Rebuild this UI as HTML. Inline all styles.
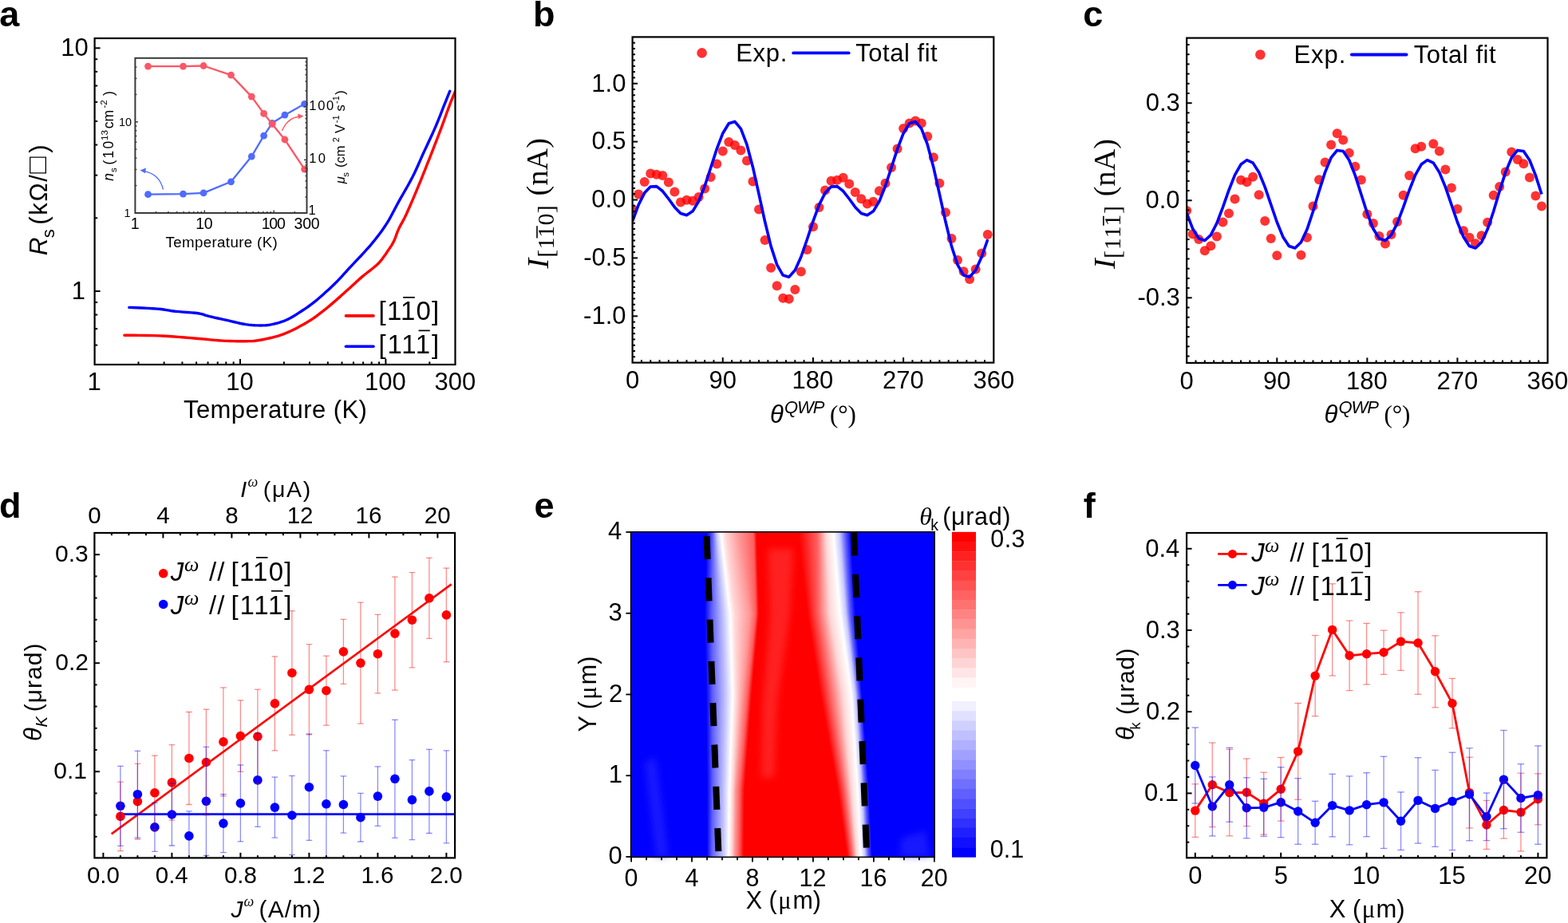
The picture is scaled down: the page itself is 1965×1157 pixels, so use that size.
<!DOCTYPE html>
<html><head><meta charset="utf-8"><title>Figure</title><style>
html,body{margin:0;padding:0;background:#fff;}body{width:1965px;height:1157px;position:relative;overflow:hidden;}
.hm{position:absolute;left:791px;width:380px;}
svg{position:absolute;left:0;top:0;}
</style></head><body>
<div class="hm" style="top:666px;height:2px;background:linear-gradient(90deg,#0000ff 94.97px,#5f5fff 101.99px,#c8c8ff 107.09px,#ffffff 112.12px,#ffd7d7 118.12px,#ff9696 134.15px,#ff5f5f 153.03px,#ff0000 157.03px,#ff0000 209.12px,#ff5f5f 233.01px,#ffd7d7 244.05px,#ffffff 253.09px,#c8c8ff 261.08px,#5f5fff 268.06px,#0000ff 275.06px)"></div>
<div class="hm" style="top:668px;height:2px;background:linear-gradient(90deg,#0000ff 94.91px,#5f5fff 101.97px,#c8c8ff 107.26px,#ffffff 112.35px,#ffd7d7 118.35px,#ff9696 134.44px,#ff5f5f 153.09px,#ff0000 157.09px,#ff0000 209.35px,#ff5f5f 233.03px,#ffd7d7 244.15px,#ffffff 253.26px,#c8c8ff 261.23px,#5f5fff 268.17px,#0000ff 275.17px)"></div>
<div class="hm" style="top:670px;height:2px;background:linear-gradient(90deg,#0000ff 94.85px,#5f5fff 101.95px,#c8c8ff 107.44px,#ffffff 112.58px,#ffd7d7 118.58px,#ff9696 134.73px,#ff5f5f 153.15px,#ff0000 157.15px,#ff0000 209.58px,#ff5f5f 233.05px,#ffd7d7 244.24px,#ffffff 253.44px,#c8c8ff 261.39px,#5f5fff 268.29px,#0000ff 275.29px)"></div>
<div class="hm" style="top:672px;height:2px;background:linear-gradient(90deg,#0000ff 94.8px,#5f5fff 101.93px,#c8c8ff 107.61px,#ffffff 112.82px,#ffd7d7 118.82px,#ff9696 135.02px,#ff5f5f 153.2px,#ff0000 157.2px,#ff0000 209.82px,#ff5f5f 233.07px,#ffd7d7 244.34px,#ffffff 253.61px,#c8c8ff 261.54px,#5f5fff 268.41px,#0000ff 275.41px)"></div>
<div class="hm" style="top:674px;height:2px;background:linear-gradient(90deg,#0000ff 94.74px,#5f5fff 101.91px,#c8c8ff 107.79px,#ffffff 113.05px,#ffd7d7 119.05px,#ff9696 135.31px,#ff5f5f 153.26px,#ff0000 157.26px,#ff0000 210.05px,#ff5f5f 233.09px,#ffd7d7 244.44px,#ffffff 253.79px,#c8c8ff 261.7px,#5f5fff 268.52px,#0000ff 275.52px)"></div>
<div class="hm" style="top:676px;height:2px;background:linear-gradient(90deg,#0000ff 94.68px,#5f5fff 101.89px,#c8c8ff 107.96px,#ffffff 113.28px,#ffd7d7 119.28px,#ff9696 135.6px,#ff5f5f 153.32px,#ff0000 157.32px,#ff0000 210.28px,#ff5f5f 233.11px,#ffd7d7 244.53px,#ffffff 253.96px,#c8c8ff 261.85px,#5f5fff 268.64px,#0000ff 275.64px)"></div>
<div class="hm" style="top:678px;height:2px;background:linear-gradient(90deg,#0000ff 94.62px,#5f5fff 101.87px,#c8c8ff 108.14px,#ffffff 113.51px,#ffd7d7 119.51px,#ff9696 135.89px,#ff5f5f 153.38px,#ff0000 157.38px,#ff0000 210.51px,#ff5f5f 233.13px,#ffd7d7 244.63px,#ffffff 254.14px,#c8c8ff 262.01px,#5f5fff 268.76px,#0000ff 275.76px)"></div>
<div class="hm" style="top:680px;height:2px;background:linear-gradient(90deg,#0000ff 94.56px,#5f5fff 101.85px,#c8c8ff 108.31px,#ffffff 113.75px,#ffd7d7 119.75px,#ff9696 136.18px,#ff5f5f 153.44px,#ff0000 157.44px,#ff0000 210.75px,#ff5f5f 233.15px,#ffd7d7 244.73px,#ffffff 254.31px,#c8c8ff 262.17px,#5f5fff 268.87px,#0000ff 275.87px)"></div>
<div class="hm" style="top:682px;height:2px;background:linear-gradient(90deg,#0000ff 94.5px,#5f5fff 101.83px,#c8c8ff 108.49px,#ffffff 113.98px,#ffd7d7 119.98px,#ff9696 136.48px,#ff5f5f 153.5px,#ff0000 157.5px,#ff0000 210.98px,#ff5f5f 233.17px,#ffd7d7 244.83px,#ffffff 254.49px,#c8c8ff 262.32px,#5f5fff 268.99px,#0000ff 275.99px)"></div>
<div class="hm" style="top:684px;height:2px;background:linear-gradient(90deg,#0000ff 94.45px,#5f5fff 101.82px,#c8c8ff 108.66px,#ffffff 114.21px,#ffd7d7 120.21px,#ff9696 136.77px,#ff5f5f 153.55px,#ff0000 157.55px,#ff0000 211.21px,#ff5f5f 233.18px,#ffd7d7 244.92px,#ffffff 254.66px,#c8c8ff 262.48px,#5f5fff 269.11px,#0000ff 276.11px)"></div>
<div class="hm" style="top:686px;height:2px;background:linear-gradient(90deg,#0000ff 94.39px,#5f5fff 101.8px,#c8c8ff 108.83px,#ffffff 114.45px,#ffd7d7 120.45px,#ff9696 137.06px,#ff5f5f 153.61px,#ff0000 157.61px,#ff0000 211.45px,#ff5f5f 233.2px,#ffd7d7 245.02px,#ffffff 254.83px,#c8c8ff 262.63px,#5f5fff 269.22px,#0000ff 276.22px)"></div>
<div class="hm" style="top:688px;height:2px;background:linear-gradient(90deg,#0000ff 94.33px,#5f5fff 101.78px,#c8c8ff 109.01px,#ffffff 114.68px,#ffd7d7 120.68px,#ff9696 137.35px,#ff5f5f 153.67px,#ff0000 157.67px,#ff0000 211.68px,#ff5f5f 233.22px,#ffd7d7 245.12px,#ffffff 255.01px,#c8c8ff 262.79px,#5f5fff 269.34px,#0000ff 276.34px)"></div>
<div class="hm" style="top:690px;height:2px;background:linear-gradient(90deg,#0000ff 94.27px,#5f5fff 101.76px,#c8c8ff 109.18px,#ffffff 114.91px,#ffd7d7 120.91px,#ff9696 137.64px,#ff5f5f 153.73px,#ff0000 157.73px,#ff0000 211.91px,#ff5f5f 233.24px,#ffd7d7 245.21px,#ffffff 255.18px,#c8c8ff 262.94px,#5f5fff 269.46px,#0000ff 276.46px)"></div>
<div class="hm" style="top:692px;height:2px;background:linear-gradient(90deg,#0000ff 94.21px,#5f5fff 101.74px,#c8c8ff 109.36px,#ffffff 115.15px,#ffd7d7 121.15px,#ff9696 137.93px,#ff5f5f 153.79px,#ff0000 157.79px,#ff0000 212.15px,#ff5f5f 233.26px,#ffd7d7 245.31px,#ffffff 255.36px,#c8c8ff 263.1px,#5f5fff 269.57px,#0000ff 276.57px)"></div>
<div class="hm" style="top:694px;height:2px;background:linear-gradient(90deg,#0000ff 94.16px,#5f5fff 101.72px,#c8c8ff 109.53px,#ffffff 115.38px,#ffd7d7 121.38px,#ff9696 138.22px,#ff5f5f 153.84px,#ff0000 157.84px,#ff0000 212.38px,#ff5f5f 233.28px,#ffd7d7 245.41px,#ffffff 255.53px,#c8c8ff 263.25px,#5f5fff 269.69px,#0000ff 276.69px)"></div>
<div class="hm" style="top:696px;height:2px;background:linear-gradient(90deg,#0000ff 94.1px,#5f5fff 101.7px,#c8c8ff 109.71px,#ffffff 115.61px,#ffd7d7 121.61px,#ff9696 138.51px,#ff5f5f 153.9px,#ff0000 157.9px,#ff0000 212.61px,#ff5f5f 233.3px,#ffd7d7 245.5px,#ffffff 255.71px,#c8c8ff 263.41px,#5f5fff 269.81px,#0000ff 276.81px)"></div>
<div class="hm" style="top:698px;height:2px;background:linear-gradient(90deg,#0000ff 94.04px,#5f5fff 101.68px,#c8c8ff 109.88px,#ffffff 115.84px,#ffd7d7 121.84px,#ff9696 138.81px,#ff5f5f 153.96px,#ff0000 157.96px,#ff0000 212.84px,#ff5f5f 233.32px,#ffd7d7 245.6px,#ffffff 255.88px,#c8c8ff 263.56px,#5f5fff 269.92px,#0000ff 276.92px)"></div>
<div class="hm" style="top:700px;height:2px;background:linear-gradient(90deg,#0000ff 93.98px,#5f5fff 101.66px,#c8c8ff 110.06px,#ffffff 116.08px,#ffd7d7 122.08px,#ff9696 139.1px,#ff5f5f 154.02px,#ff0000 158.02px,#ff0000 213.08px,#ff5f5f 233.34px,#ffd7d7 245.7px,#ffffff 256.06px,#c8c8ff 263.72px,#5f5fff 270.04px,#0000ff 277.04px)"></div>
<div class="hm" style="top:702px;height:2px;background:linear-gradient(90deg,#0000ff 93.92px,#5f5fff 101.64px,#c8c8ff 110.23px,#ffffff 116.31px,#ffd7d7 122.31px,#ff9696 139.39px,#ff5f5f 154.08px,#ff0000 158.08px,#ff0000 213.31px,#ff5f5f 233.36px,#ffd7d7 245.8px,#ffffff 256.23px,#c8c8ff 263.87px,#5f5fff 270.16px,#0000ff 277.16px)"></div>
<div class="hm" style="top:704px;height:2px;background:linear-gradient(90deg,#0000ff 93.86px,#5f5fff 101.62px,#c8c8ff 110.41px,#ffffff 116.54px,#ffd7d7 122.54px,#ff9696 139.68px,#ff5f5f 154.14px,#ff0000 158.14px,#ff0000 213.54px,#ff5f5f 233.38px,#ffd7d7 245.89px,#ffffff 256.41px,#c8c8ff 264.03px,#5f5fff 270.27px,#0000ff 277.27px)"></div>
<div class="hm" style="top:706px;height:2px;background:linear-gradient(90deg,#0000ff 93.81px,#5f5fff 101.6px,#c8c8ff 110.58px,#ffffff 116.78px,#ffd7d7 122.78px,#ff9696 139.97px,#ff5f5f 154.19px,#ff0000 158.19px,#ff0000 213.78px,#ff5f5f 233.4px,#ffd7d7 245.99px,#ffffff 256.58px,#c8c8ff 264.18px,#5f5fff 270.39px,#0000ff 277.39px)"></div>
<div class="hm" style="top:708px;height:2px;background:linear-gradient(90deg,#0000ff 93.75px,#5f5fff 101.58px,#c8c8ff 110.76px,#ffffff 117.01px,#ffd7d7 123.01px,#ff9696 140.26px,#ff5f5f 154.25px,#ff0000 158.25px,#ff0000 214.01px,#ff5f5f 233.42px,#ffd7d7 246.09px,#ffffff 256.76px,#c8c8ff 264.34px,#5f5fff 270.5px,#0000ff 277.5px)"></div>
<div class="hm" style="top:710px;height:2px;background:linear-gradient(90deg,#0000ff 93.69px,#5f5fff 101.56px,#c8c8ff 110.93px,#ffffff 117.24px,#ffd7d7 123.24px,#ff9696 140.55px,#ff5f5f 154.31px,#ff0000 158.31px,#ff0000 214.24px,#ff5f5f 233.44px,#ffd7d7 246.18px,#ffffff 256.93px,#c8c8ff 264.5px,#5f5fff 270.62px,#0000ff 277.62px)"></div>
<div class="hm" style="top:712px;height:2px;background:linear-gradient(90deg,#0000ff 93.63px,#5f5fff 101.54px,#c8c8ff 111.11px,#ffffff 117.48px,#ffd7d7 123.48px,#ff9696 140.84px,#ff5f5f 154.37px,#ff0000 158.37px,#ff0000 214.48px,#ff5f5f 233.46px,#ffd7d7 246.28px,#ffffff 257.11px,#c8c8ff 264.65px,#5f5fff 270.74px,#0000ff 277.74px)"></div>
<div class="hm" style="top:714px;height:2px;background:linear-gradient(90deg,#0000ff 93.57px,#5f5fff 101.52px,#c8c8ff 111.28px,#ffffff 117.71px,#ffd7d7 123.71px,#ff9696 141.14px,#ff5f5f 154.43px,#ff0000 158.43px,#ff0000 214.71px,#ff5f5f 233.48px,#ffd7d7 246.38px,#ffffff 257.28px,#c8c8ff 264.81px,#5f5fff 270.85px,#0000ff 277.85px)"></div>
<div class="hm" style="top:716px;height:2px;background:linear-gradient(90deg,#0000ff 93.51px,#5f5fff 101.5px,#c8c8ff 111.46px,#ffffff 117.94px,#ffd7d7 123.94px,#ff9696 141.43px,#ff5f5f 154.49px,#ff0000 158.49px,#ff0000 214.94px,#ff5f5f 233.5px,#ffd7d7 246.48px,#ffffff 257.46px,#c8c8ff 264.96px,#5f5fff 270.97px,#0000ff 277.97px)"></div>
<div class="hm" style="top:718px;height:2px;background:linear-gradient(90deg,#0000ff 93.46px,#5f5fff 101.49px,#c8c8ff 111.63px,#ffffff 118.17px,#ffd7d7 124.17px,#ff9696 141.72px,#ff5f5f 154.54px,#ff0000 158.54px,#ff0000 215.17px,#ff5f5f 233.51px,#ffd7d7 246.57px,#ffffff 257.63px,#c8c8ff 265.12px,#5f5fff 271.09px,#0000ff 278.09px)"></div>
<div class="hm" style="top:720px;height:2px;background:linear-gradient(90deg,#0000ff 93.4px,#5f5fff 101.47px,#c8c8ff 111.81px,#ffffff 118.41px,#ffd7d7 124.41px,#ff9696 142.01px,#ff5f5f 154.6px,#ff0000 158.6px,#ff0000 215.41px,#ff5f5f 233.53px,#ffd7d7 246.67px,#ffffff 257.81px,#c8c8ff 265.27px,#5f5fff 271.2px,#0000ff 278.2px)"></div>
<div class="hm" style="top:722px;height:2px;background:linear-gradient(90deg,#0000ff 93.34px,#5f5fff 101.45px,#c8c8ff 111.98px,#ffffff 118.64px,#ffd7d7 124.64px,#ff9696 142.3px,#ff5f5f 154.66px,#ff0000 158.66px,#ff0000 215.64px,#ff5f5f 233.55px,#ffd7d7 246.77px,#ffffff 257.98px,#c8c8ff 265.43px,#5f5fff 271.32px,#0000ff 278.32px)"></div>
<div class="hm" style="top:724px;height:2px;background:linear-gradient(90deg,#0000ff 93.28px,#5f5fff 101.43px,#c8c8ff 112.16px,#ffffff 118.87px,#ffd7d7 124.87px,#ff9696 142.59px,#ff5f5f 154.72px,#ff0000 158.72px,#ff0000 215.87px,#ff5f5f 233.57px,#ffd7d7 246.86px,#ffffff 258.16px,#c8c8ff 265.58px,#5f5fff 271.44px,#0000ff 278.44px)"></div>
<div class="hm" style="top:726px;height:2px;background:linear-gradient(90deg,#0000ff 93.22px,#5f5fff 101.41px,#c8c8ff 112.33px,#ffffff 119.11px,#ffd7d7 125.11px,#ff9696 142.88px,#ff5f5f 154.78px,#ff0000 158.78px,#ff0000 216.11px,#ff5f5f 233.59px,#ffd7d7 246.96px,#ffffff 258.33px,#c8c8ff 265.74px,#5f5fff 271.55px,#0000ff 278.55px)"></div>
<div class="hm" style="top:728px;height:2px;background:linear-gradient(90deg,#0000ff 93.17px,#5f5fff 101.39px,#c8c8ff 112.5px,#ffffff 119.34px,#ffd7d7 125.34px,#ff9696 143.17px,#ff5f5f 154.83px,#ff0000 158.83px,#ff0000 216.34px,#ff5f5f 233.61px,#ffd7d7 247.06px,#ffffff 258.5px,#c8c8ff 265.89px,#5f5fff 271.67px,#0000ff 278.67px)"></div>
<div class="hm" style="top:730px;height:2px;background:linear-gradient(90deg,#0000ff 93.11px,#5f5fff 101.37px,#c8c8ff 112.68px,#ffffff 119.57px,#ffd7d7 125.57px,#ff9696 143.47px,#ff5f5f 154.89px,#ff0000 158.89px,#ff0000 216.57px,#ff5f5f 233.63px,#ffd7d7 247.16px,#ffffff 258.68px,#c8c8ff 266.05px,#5f5fff 271.79px,#0000ff 278.79px)"></div>
<div class="hm" style="top:732px;height:2px;background:linear-gradient(90deg,#0000ff 93.05px,#5f5fff 101.35px,#c8c8ff 112.85px,#ffffff 119.81px,#ffd7d7 125.81px,#ff9696 143.76px,#ff5f5f 154.95px,#ff0000 158.95px,#ff0000 216.81px,#ff5f5f 233.65px,#ffd7d7 247.25px,#ffffff 258.85px,#c8c8ff 266.2px,#5f5fff 271.9px,#0000ff 278.9px)"></div>
<div class="hm" style="top:734px;height:2px;background:linear-gradient(90deg,#0000ff 92.99px,#5f5fff 101.33px,#c8c8ff 113.03px,#ffffff 120.04px,#ffd7d7 126.04px,#ff9696 144.05px,#ff5f5f 155.01px,#ff0000 159.01px,#ff0000 217.04px,#ff5f5f 233.67px,#ffd7d7 247.35px,#ffffff 259.03px,#c8c8ff 266.36px,#5f5fff 272.02px,#0000ff 279.02px)"></div>
<div class="hm" style="top:736px;height:2px;background:linear-gradient(90deg,#0000ff 92.93px,#5f5fff 101.31px,#c8c8ff 113.2px,#ffffff 120.27px,#ffd7d7 126.27px,#ff9696 144.34px,#ff5f5f 155.07px,#ff0000 159.07px,#ff0000 217.27px,#ff5f5f 233.69px,#ffd7d7 247.45px,#ffffff 259.2px,#c8c8ff 266.51px,#5f5fff 272.14px,#0000ff 279.14px)"></div>
<div class="hm" style="top:738px;height:2px;background:linear-gradient(90deg,#0000ff 92.87px,#5f5fff 101.29px,#c8c8ff 113.38px,#ffffff 120.5px,#ffd7d7 126.5px,#ff9696 144.63px,#ff5f5f 155.13px,#ff0000 159.13px,#ff0000 217.5px,#ff5f5f 233.71px,#ffd7d7 247.54px,#ffffff 259.38px,#c8c8ff 266.67px,#5f5fff 272.25px,#0000ff 279.25px)"></div>
<div class="hm" style="top:740px;height:2px;background:linear-gradient(90deg,#0000ff 92.82px,#5f5fff 101.27px,#c8c8ff 113.55px,#ffffff 120.74px,#ffd7d7 126.74px,#ff9696 144.92px,#ff5f5f 155.18px,#ff0000 159.18px,#ff0000 217.74px,#ff5f5f 233.73px,#ffd7d7 247.64px,#ffffff 259.55px,#c8c8ff 266.83px,#5f5fff 272.37px,#0000ff 279.37px)"></div>
<div class="hm" style="top:742px;height:2px;background:linear-gradient(90deg,#0000ff 92.76px,#5f5fff 101.25px,#c8c8ff 113.73px,#ffffff 120.97px,#ffd7d7 126.97px,#ff9696 145.21px,#ff5f5f 155.24px,#ff0000 159.24px,#ff0000 217.97px,#ff5f5f 233.75px,#ffd7d7 247.74px,#ffffff 259.73px,#c8c8ff 266.98px,#5f5fff 272.49px,#0000ff 279.49px)"></div>
<div class="hm" style="top:744px;height:2px;background:linear-gradient(90deg,#0000ff 92.7px,#5f5fff 101.23px,#c8c8ff 113.9px,#ffffff 121.2px,#ffd7d7 127.2px,#ff9696 145.5px,#ff5f5f 155.3px,#ff0000 159.3px,#ff0000 218.2px,#ff5f5f 233.77px,#ffd7d7 247.83px,#ffffff 259.9px,#c8c8ff 267.14px,#5f5fff 272.6px,#0000ff 279.6px)"></div>
<div class="hm" style="top:746px;height:2px;background:linear-gradient(90deg,#0000ff 92.64px,#5f5fff 101.21px,#c8c8ff 114.08px,#ffffff 121.44px,#ffd7d7 127.44px,#ff9696 145.8px,#ff5f5f 155.36px,#ff0000 159.36px,#ff0000 218.44px,#ff5f5f 233.79px,#ffd7d7 247.93px,#ffffff 260.08px,#c8c8ff 267.29px,#5f5fff 272.72px,#0000ff 279.72px)"></div>
<div class="hm" style="top:748px;height:2px;background:linear-gradient(90deg,#0000ff 92.58px,#5f5fff 101.19px,#c8c8ff 114.25px,#ffffff 121.67px,#ffd7d7 127.67px,#ff9696 146.09px,#ff5f5f 155.42px,#ff0000 159.42px,#ff0000 218.67px,#ff5f5f 233.81px,#ffd7d7 248.03px,#ffffff 260.25px,#c8c8ff 267.45px,#5f5fff 272.83px,#0000ff 279.83px)"></div>
<div class="hm" style="top:750px;height:2px;background:linear-gradient(90deg,#0000ff 92.52px,#5f5fff 101.17px,#c8c8ff 114.43px,#ffffff 121.9px,#ffd7d7 127.9px,#ff9696 146.38px,#ff5f5f 155.48px,#ff0000 159.48px,#ff0000 218.9px,#ff5f5f 233.83px,#ffd7d7 248.13px,#ffffff 260.43px,#c8c8ff 267.6px,#5f5fff 272.95px,#0000ff 279.95px)"></div>
<div class="hm" style="top:752px;height:2px;background:linear-gradient(90deg,#0000ff 92.47px,#5f5fff 101.16px,#c8c8ff 114.6px,#ffffff 122.14px,#ffd7d7 128.14px,#ff9696 146.67px,#ff5f5f 155.53px,#ff0000 159.53px,#ff0000 219.14px,#ff5f5f 233.84px,#ffd7d7 248.22px,#ffffff 260.6px,#c8c8ff 267.76px,#5f5fff 273.07px,#0000ff 280.07px)"></div>
<div class="hm" style="top:754px;height:2px;background:linear-gradient(90deg,#0000ff 92.41px,#5f5fff 101.14px,#c8c8ff 114.78px,#ffffff 122.37px,#ffd7d7 128.37px,#ff9696 146.96px,#ff5f5f 155.59px,#ff0000 159.59px,#ff0000 219.37px,#ff5f5f 233.86px,#ffd7d7 248.32px,#ffffff 260.78px,#c8c8ff 267.91px,#5f5fff 273.18px,#0000ff 280.18px)"></div>
<div class="hm" style="top:756px;height:2px;background:linear-gradient(90deg,#0000ff 92.35px,#5f5fff 101.12px,#c8c8ff 114.95px,#ffffff 122.6px,#ffd7d7 128.6px,#ff9696 147.25px,#ff5f5f 155.65px,#ff0000 159.65px,#ff0000 219.6px,#ff5f5f 233.88px,#ffd7d7 248.42px,#ffffff 260.95px,#c8c8ff 268.07px,#5f5fff 273.3px,#0000ff 280.3px)"></div>
<div class="hm" style="top:758px;height:2px;background:linear-gradient(90deg,#0000ff 92.29px,#5f5fff 101.1px,#c8c8ff 115.13px,#ffffff 122.83px,#ffd7d7 128.83px,#ff9696 147.54px,#ff5f5f 155.71px,#ff0000 159.71px,#ff0000 219.83px,#ff5f5f 233.9px,#ffd7d7 248.51px,#ffffff 261.13px,#c8c8ff 268.22px,#5f5fff 273.42px,#0000ff 280.42px)"></div>
<div class="hm" style="top:760px;height:2px;background:linear-gradient(90deg,#0000ff 92.23px,#5f5fff 101.08px,#c8c8ff 115.3px,#ffffff 123.07px,#ffd7d7 129.07px,#ff9696 147.83px,#ff5f5f 155.77px,#ff0000 159.77px,#ff0000 220.07px,#ff5f5f 233.92px,#ffd7d7 248.61px,#ffffff 261.3px,#c8c8ff 268.38px,#5f5fff 273.53px,#0000ff 280.53px)"></div>
<div class="hm" style="top:762px;height:2px;background:linear-gradient(90deg,#0000ff 92.17px,#5f5fff 101.06px,#c8c8ff 115.48px,#ffffff 123.3px,#ffd7d7 129.3px,#ff9696 148.13px,#ff5f5f 155.83px,#ff0000 159.83px,#ff0000 220.3px,#ff5f5f 233.94px,#ffd7d7 248.71px,#ffffff 261.48px,#c8c8ff 268.53px,#5f5fff 273.65px,#0000ff 280.65px)"></div>
<div class="hm" style="top:764px;height:2px;background:linear-gradient(90deg,#0000ff 92.12px,#5f5fff 101.04px,#c8c8ff 115.65px,#ffffff 123.53px,#ffd7d7 129.53px,#ff9696 148.42px,#ff5f5f 155.88px,#ff0000 159.88px,#ff0000 220.53px,#ff5f5f 233.96px,#ffd7d7 248.81px,#ffffff 261.65px,#c8c8ff 268.69px,#5f5fff 273.77px,#0000ff 280.77px)"></div>
<div class="hm" style="top:766px;height:2px;background:linear-gradient(90deg,#0000ff 92.06px,#5f5fff 101.02px,#c8c8ff 115.83px,#ffffff 123.77px,#ffd7d7 129.77px,#ff9696 148.71px,#ff5f5f 155.94px,#ff0000 159.94px,#ff0000 220.77px,#ff5f5f 233.98px,#ffd7d7 248.9px,#ffffff 261.83px,#c8c8ff 268.84px,#5f5fff 273.88px,#0000ff 280.88px)"></div>
<div class="hm" style="top:768px;height:2px;background:linear-gradient(90deg,#0000ff 92px,#5f5fff 101px,#c8c8ff 116px,#ffffff 124px,#ffd7d7 130px,#ff9696 149px,#ff5f5f 156px,#ff0000 160px,#ff0000 221px,#ff5f5f 234px,#ffd7d7 249px,#ffffff 262px,#c8c8ff 269px,#5f5fff 274px,#0000ff 281px)"></div>
<div class="hm" style="top:770px;height:2px;background:linear-gradient(90deg,#0000ff 92.04px,#5f5fff 101.02px,#c8c8ff 116.06px,#ffffff 124.06px,#ffd7d7 130.04px,#ff9696 148.82px,#ff5f5f 155.8px,#ff0000 159.82px,#ff0000 221.32px,#ff5f5f 234.3px,#ffd7d7 249.32px,#ffffff 262.28px,#c8c8ff 269.24px,#5f5fff 274.22px,#0000ff 281.16px)"></div>
<div class="hm" style="top:772px;height:2px;background:linear-gradient(90deg,#0000ff 92.08px,#5f5fff 101.04px,#c8c8ff 116.12px,#ffffff 124.12px,#ffd7d7 130.08px,#ff9696 148.64px,#ff5f5f 155.6px,#ff0000 159.64px,#ff0000 221.63px,#ff5f5f 234.59px,#ffd7d7 249.63px,#ffffff 262.55px,#c8c8ff 269.48px,#5f5fff 274.44px,#0000ff 281.32px)"></div>
<div class="hm" style="top:774px;height:2px;background:linear-gradient(90deg,#0000ff 92.12px,#5f5fff 101.06px,#c8c8ff 116.18px,#ffffff 124.18px,#ffd7d7 130.12px,#ff9696 148.47px,#ff5f5f 155.41px,#ff0000 159.47px,#ff0000 221.95px,#ff5f5f 234.89px,#ffd7d7 249.95px,#ffffff 262.83px,#c8c8ff 269.71px,#5f5fff 274.65px,#0000ff 281.48px)"></div>
<div class="hm" style="top:776px;height:2px;background:linear-gradient(90deg,#0000ff 92.16px,#5f5fff 101.08px,#c8c8ff 116.24px,#ffffff 124.24px,#ffd7d7 130.16px,#ff9696 148.29px,#ff5f5f 155.21px,#ff0000 159.29px,#ff0000 222.27px,#ff5f5f 235.19px,#ffd7d7 250.27px,#ffffff 263.11px,#c8c8ff 269.95px,#5f5fff 274.87px,#0000ff 281.63px)"></div>
<div class="hm" style="top:778px;height:2px;background:linear-gradient(90deg,#0000ff 92.2px,#5f5fff 101.1px,#c8c8ff 116.3px,#ffffff 124.3px,#ffd7d7 130.2px,#ff9696 148.11px,#ff5f5f 155.01px,#ff0000 159.11px,#ff0000 222.58px,#ff5f5f 235.49px,#ffd7d7 250.58px,#ffffff 263.39px,#c8c8ff 270.19px,#5f5fff 275.09px,#0000ff 281.79px)"></div>
<div class="hm" style="top:780px;height:2px;background:linear-gradient(90deg,#0000ff 92.24px,#5f5fff 101.12px,#c8c8ff 116.36px,#ffffff 124.36px,#ffd7d7 130.24px,#ff9696 147.93px,#ff5f5f 154.81px,#ff0000 158.93px,#ff0000 222.9px,#ff5f5f 235.78px,#ffd7d7 250.9px,#ffffff 263.66px,#c8c8ff 270.43px,#5f5fff 275.31px,#0000ff 281.95px)"></div>
<div class="hm" style="top:782px;height:2px;background:linear-gradient(90deg,#0000ff 92.28px,#5f5fff 101.14px,#c8c8ff 116.42px,#ffffff 124.42px,#ffd7d7 130.28px,#ff9696 147.75px,#ff5f5f 154.61px,#ff0000 158.75px,#ff0000 223.22px,#ff5f5f 236.08px,#ffd7d7 251.22px,#ffffff 263.94px,#c8c8ff 270.66px,#5f5fff 275.52px,#0000ff 282.11px)"></div>
<div class="hm" style="top:784px;height:2px;background:linear-gradient(90deg,#0000ff 92.32px,#5f5fff 101.16px,#c8c8ff 116.48px,#ffffff 124.48px,#ffd7d7 130.32px,#ff9696 147.57px,#ff5f5f 154.42px,#ff0000 158.57px,#ff0000 223.53px,#ff5f5f 236.38px,#ffd7d7 251.53px,#ffffff 264.22px,#c8c8ff 270.9px,#5f5fff 275.74px,#0000ff 282.27px)"></div>
<div class="hm" style="top:786px;height:2px;background:linear-gradient(90deg,#0000ff 92.36px,#5f5fff 101.18px,#c8c8ff 116.53px,#ffffff 124.53px,#ffd7d7 130.36px,#ff9696 147.4px,#ff5f5f 154.22px,#ff0000 158.4px,#ff0000 223.85px,#ff5f5f 236.67px,#ffd7d7 251.85px,#ffffff 264.5px,#c8c8ff 271.14px,#5f5fff 275.96px,#0000ff 282.43px)"></div>
<div class="hm" style="top:788px;height:2px;background:linear-gradient(90deg,#0000ff 92.4px,#5f5fff 101.2px,#c8c8ff 116.59px,#ffffff 124.59px,#ffd7d7 130.4px,#ff9696 147.22px,#ff5f5f 154.02px,#ff0000 158.22px,#ff0000 224.17px,#ff5f5f 236.97px,#ffd7d7 252.17px,#ffffff 264.77px,#c8c8ff 271.38px,#5f5fff 276.18px,#0000ff 282.58px)"></div>
<div class="hm" style="top:790px;height:2px;background:linear-gradient(90deg,#0000ff 92.44px,#5f5fff 101.22px,#c8c8ff 116.65px,#ffffff 124.65px,#ffd7d7 130.44px,#ff9696 147.04px,#ff5f5f 153.82px,#ff0000 158.04px,#ff0000 224.49px,#ff5f5f 237.27px,#ffd7d7 252.49px,#ffffff 265.05px,#c8c8ff 271.61px,#5f5fff 276.4px,#0000ff 282.74px)"></div>
<div class="hm" style="top:792px;height:2px;background:linear-gradient(90deg,#0000ff 92.48px,#5f5fff 101.24px,#c8c8ff 116.71px,#ffffff 124.71px,#ffd7d7 130.48px,#ff9696 146.86px,#ff5f5f 153.62px,#ff0000 157.86px,#ff0000 224.8px,#ff5f5f 237.56px,#ffd7d7 252.8px,#ffffff 265.33px,#c8c8ff 271.85px,#5f5fff 276.61px,#0000ff 282.9px)"></div>
<div class="hm" style="top:794px;height:2px;background:linear-gradient(90deg,#0000ff 92.51px,#5f5fff 101.26px,#c8c8ff 116.77px,#ffffff 124.77px,#ffd7d7 130.51px,#ff9696 146.68px,#ff5f5f 153.43px,#ff0000 157.68px,#ff0000 225.12px,#ff5f5f 237.86px,#ffd7d7 253.12px,#ffffff 265.6px,#c8c8ff 272.09px,#5f5fff 276.83px,#0000ff 283.06px)"></div>
<div class="hm" style="top:796px;height:2px;background:linear-gradient(90deg,#0000ff 92.55px,#5f5fff 101.28px,#c8c8ff 116.83px,#ffffff 124.83px,#ffd7d7 130.55px,#ff9696 146.5px,#ff5f5f 153.23px,#ff0000 157.5px,#ff0000 225.44px,#ff5f5f 238.16px,#ffd7d7 253.44px,#ffffff 265.88px,#c8c8ff 272.33px,#5f5fff 277.05px,#0000ff 283.22px)"></div>
<div class="hm" style="top:798px;height:2px;background:linear-gradient(90deg,#0000ff 92.59px,#5f5fff 101.3px,#c8c8ff 116.89px,#ffffff 124.89px,#ffd7d7 130.59px,#ff9696 146.33px,#ff5f5f 153.03px,#ff0000 157.33px,#ff0000 225.75px,#ff5f5f 238.46px,#ffd7d7 253.75px,#ffffff 266.16px,#c8c8ff 272.56px,#5f5fff 277.27px,#0000ff 283.38px)"></div>
<div class="hm" style="top:800px;height:2px;background:linear-gradient(90deg,#0000ff 92.63px,#5f5fff 101.32px,#c8c8ff 116.95px,#ffffff 124.95px,#ffd7d7 130.63px,#ff9696 146.15px,#ff5f5f 152.83px,#ff0000 157.15px,#ff0000 226.07px,#ff5f5f 238.75px,#ffd7d7 254.07px,#ffffff 266.44px,#c8c8ff 272.8px,#5f5fff 277.49px,#0000ff 283.53px)"></div>
<div class="hm" style="top:802px;height:2px;background:linear-gradient(90deg,#0000ff 92.67px,#5f5fff 101.34px,#c8c8ff 117.01px,#ffffff 125.01px,#ffd7d7 130.67px,#ff9696 145.97px,#ff5f5f 152.63px,#ff0000 156.97px,#ff0000 226.39px,#ff5f5f 239.05px,#ffd7d7 254.39px,#ffffff 266.71px,#c8c8ff 273.04px,#5f5fff 277.7px,#0000ff 283.69px)"></div>
<div class="hm" style="top:804px;height:2px;background:linear-gradient(90deg,#0000ff 92.71px,#5f5fff 101.36px,#c8c8ff 117.07px,#ffffff 125.07px,#ffd7d7 130.71px,#ff9696 145.79px,#ff5f5f 152.44px,#ff0000 156.79px,#ff0000 226.7px,#ff5f5f 239.35px,#ffd7d7 254.7px,#ffffff 266.99px,#c8c8ff 273.28px,#5f5fff 277.92px,#0000ff 283.85px)"></div>
<div class="hm" style="top:806px;height:2px;background:linear-gradient(90deg,#0000ff 92.75px,#5f5fff 101.38px,#c8c8ff 117.13px,#ffffff 125.13px,#ffd7d7 130.75px,#ff9696 145.61px,#ff5f5f 152.24px,#ff0000 156.61px,#ff0000 227.02px,#ff5f5f 239.64px,#ffd7d7 255.02px,#ffffff 267.27px,#c8c8ff 273.51px,#5f5fff 278.14px,#0000ff 284.01px)"></div>
<div class="hm" style="top:808px;height:2px;background:linear-gradient(90deg,#0000ff 92.79px,#5f5fff 101.4px,#c8c8ff 117.19px,#ffffff 125.19px,#ffd7d7 130.79px,#ff9696 145.44px,#ff5f5f 152.04px,#ff0000 156.44px,#ff0000 227.34px,#ff5f5f 239.94px,#ffd7d7 255.34px,#ffffff 267.54px,#c8c8ff 273.75px,#5f5fff 278.36px,#0000ff 284.17px)"></div>
<div class="hm" style="top:810px;height:2px;background:linear-gradient(90deg,#0000ff 92.83px,#5f5fff 101.42px,#c8c8ff 117.25px,#ffffff 125.25px,#ffd7d7 130.83px,#ff9696 145.26px,#ff5f5f 151.84px,#ff0000 156.26px,#ff0000 227.65px,#ff5f5f 240.24px,#ffd7d7 255.65px,#ffffff 267.82px,#c8c8ff 273.99px,#5f5fff 278.57px,#0000ff 284.33px)"></div>
<div class="hm" style="top:812px;height:2px;background:linear-gradient(90deg,#0000ff 92.87px,#5f5fff 101.44px,#c8c8ff 117.31px,#ffffff 125.31px,#ffd7d7 130.87px,#ff9696 145.08px,#ff5f5f 151.64px,#ff0000 156.08px,#ff0000 227.97px,#ff5f5f 240.53px,#ffd7d7 255.97px,#ffffff 268.1px,#c8c8ff 274.23px,#5f5fff 278.79px,#0000ff 284.49px)"></div>
<div class="hm" style="top:814px;height:2px;background:linear-gradient(90deg,#0000ff 92.91px,#5f5fff 101.46px,#c8c8ff 117.37px,#ffffff 125.37px,#ffd7d7 130.91px,#ff9696 144.9px,#ff5f5f 151.45px,#ff0000 155.9px,#ff0000 228.29px,#ff5f5f 240.83px,#ffd7d7 256.29px,#ffffff 268.38px,#c8c8ff 274.47px,#5f5fff 279.01px,#0000ff 284.64px)"></div>
<div class="hm" style="top:816px;height:2px;background:linear-gradient(90deg,#0000ff 92.95px,#5f5fff 101.48px,#c8c8ff 117.43px,#ffffff 125.43px,#ffd7d7 130.95px,#ff9696 144.72px,#ff5f5f 151.25px,#ff0000 155.72px,#ff0000 228.6px,#ff5f5f 241.13px,#ffd7d7 256.6px,#ffffff 268.65px,#c8c8ff 274.7px,#5f5fff 279.23px,#0000ff 284.8px)"></div>
<div class="hm" style="top:818px;height:2px;background:linear-gradient(90deg,#0000ff 92.99px,#5f5fff 101.5px,#c8c8ff 117.49px,#ffffff 125.49px,#ffd7d7 130.99px,#ff9696 144.54px,#ff5f5f 151.05px,#ff0000 155.54px,#ff0000 228.92px,#ff5f5f 241.43px,#ffd7d7 256.92px,#ffffff 268.93px,#c8c8ff 274.94px,#5f5fff 279.45px,#0000ff 284.96px)"></div>
<div class="hm" style="top:820px;height:2px;background:linear-gradient(90deg,#0000ff 93.03px,#5f5fff 101.51px,#c8c8ff 117.54px,#ffffff 125.54px,#ffd7d7 131.03px,#ff9696 144.37px,#ff5f5f 150.85px,#ff0000 155.37px,#ff0000 229.24px,#ff5f5f 241.72px,#ffd7d7 257.24px,#ffffff 269.21px,#c8c8ff 275.18px,#5f5fff 279.66px,#0000ff 285.12px)"></div>
<div class="hm" style="top:822px;height:2px;background:linear-gradient(90deg,#0000ff 93.07px,#5f5fff 101.53px,#c8c8ff 117.6px,#ffffff 125.6px,#ffd7d7 131.07px,#ff9696 144.19px,#ff5f5f 150.65px,#ff0000 155.19px,#ff0000 229.55px,#ff5f5f 242.02px,#ffd7d7 257.55px,#ffffff 269.49px,#c8c8ff 275.42px,#5f5fff 279.88px,#0000ff 285.28px)"></div>
<div class="hm" style="top:824px;height:2px;background:linear-gradient(90deg,#0000ff 93.11px,#5f5fff 101.55px,#c8c8ff 117.66px,#ffffff 125.66px,#ffd7d7 131.11px,#ff9696 144.01px,#ff5f5f 150.46px,#ff0000 155.01px,#ff0000 229.87px,#ff5f5f 242.32px,#ffd7d7 257.87px,#ffffff 269.76px,#c8c8ff 275.65px,#5f5fff 280.1px,#0000ff 285.44px)"></div>
<div class="hm" style="top:826px;height:2px;background:linear-gradient(90deg,#0000ff 93.15px,#5f5fff 101.57px,#c8c8ff 117.72px,#ffffff 125.72px,#ffd7d7 131.15px,#ff9696 143.83px,#ff5f5f 150.26px,#ff0000 154.83px,#ff0000 230.19px,#ff5f5f 242.61px,#ffd7d7 258.19px,#ffffff 270.04px,#c8c8ff 275.89px,#5f5fff 280.32px,#0000ff 285.59px)"></div>
<div class="hm" style="top:828px;height:2px;background:linear-gradient(90deg,#0000ff 93.19px,#5f5fff 101.59px,#c8c8ff 117.78px,#ffffff 125.78px,#ffd7d7 131.19px,#ff9696 143.65px,#ff5f5f 150.06px,#ff0000 154.65px,#ff0000 230.5px,#ff5f5f 242.91px,#ffd7d7 258.5px,#ffffff 270.32px,#c8c8ff 276.13px,#5f5fff 280.53px,#0000ff 285.75px)"></div>
<div class="hm" style="top:830px;height:2px;background:linear-gradient(90deg,#0000ff 93.23px,#5f5fff 101.61px,#c8c8ff 117.84px,#ffffff 125.84px,#ffd7d7 131.23px,#ff9696 143.48px,#ff5f5f 149.86px,#ff0000 154.48px,#ff0000 230.82px,#ff5f5f 243.21px,#ffd7d7 258.82px,#ffffff 270.59px,#c8c8ff 276.37px,#5f5fff 280.75px,#0000ff 285.91px)"></div>
<div class="hm" style="top:832px;height:2px;background:linear-gradient(90deg,#0000ff 93.27px,#5f5fff 101.63px,#c8c8ff 117.9px,#ffffff 125.9px,#ffd7d7 131.27px,#ff9696 143.3px,#ff5f5f 149.66px,#ff0000 154.3px,#ff0000 231.14px,#ff5f5f 243.5px,#ffd7d7 259.14px,#ffffff 270.87px,#c8c8ff 276.6px,#5f5fff 280.97px,#0000ff 286.07px)"></div>
<div class="hm" style="top:834px;height:2px;background:linear-gradient(90deg,#0000ff 93.31px,#5f5fff 101.65px,#c8c8ff 117.96px,#ffffff 125.96px,#ffd7d7 131.31px,#ff9696 143.12px,#ff5f5f 149.47px,#ff0000 154.12px,#ff0000 231.46px,#ff5f5f 243.8px,#ffd7d7 259.46px,#ffffff 271.15px,#c8c8ff 276.84px,#5f5fff 281.19px,#0000ff 286.23px)"></div>
<div class="hm" style="top:836px;height:2px;background:linear-gradient(90deg,#0000ff 93.35px,#5f5fff 101.67px,#c8c8ff 118.02px,#ffffff 126.02px,#ffd7d7 131.35px,#ff9696 142.94px,#ff5f5f 149.27px,#ff0000 153.94px,#ff0000 231.77px,#ff5f5f 244.1px,#ffd7d7 259.77px,#ffffff 271.43px,#c8c8ff 277.08px,#5f5fff 281.41px,#0000ff 286.39px)"></div>
<div class="hm" style="top:838px;height:2px;background:linear-gradient(90deg,#0000ff 93.39px,#5f5fff 101.69px,#c8c8ff 118.08px,#ffffff 126.08px,#ffd7d7 131.39px,#ff9696 142.76px,#ff5f5f 149.07px,#ff0000 153.76px,#ff0000 232.09px,#ff5f5f 244.4px,#ffd7d7 260.09px,#ffffff 271.7px,#c8c8ff 277.32px,#5f5fff 281.62px,#0000ff 286.54px)"></div>
<div class="hm" style="top:840px;height:2px;background:linear-gradient(90deg,#0000ff 93.43px,#5f5fff 101.71px,#c8c8ff 118.14px,#ffffff 126.14px,#ffd7d7 131.43px,#ff9696 142.58px,#ff5f5f 148.87px,#ff0000 153.58px,#ff0000 232.41px,#ff5f5f 244.69px,#ffd7d7 260.41px,#ffffff 271.98px,#c8c8ff 277.55px,#5f5fff 281.84px,#0000ff 286.7px)"></div>
<div class="hm" style="top:842px;height:2px;background:linear-gradient(90deg,#0000ff 93.47px,#5f5fff 101.73px,#c8c8ff 118.2px,#ffffff 126.2px,#ffd7d7 131.47px,#ff9696 142.41px,#ff5f5f 148.67px,#ff0000 153.41px,#ff0000 232.72px,#ff5f5f 244.99px,#ffd7d7 260.72px,#ffffff 272.26px,#c8c8ff 277.79px,#5f5fff 282.06px,#0000ff 286.86px)"></div>
<div class="hm" style="top:844px;height:2px;background:linear-gradient(90deg,#0000ff 93.5px,#5f5fff 101.75px,#c8c8ff 118.26px,#ffffff 126.26px,#ffd7d7 131.5px,#ff9696 142.23px,#ff5f5f 148.48px,#ff0000 153.23px,#ff0000 233.04px,#ff5f5f 245.29px,#ffd7d7 261.04px,#ffffff 272.53px,#c8c8ff 278.03px,#5f5fff 282.28px,#0000ff 287.02px)"></div>
<div class="hm" style="top:846px;height:2px;background:linear-gradient(90deg,#0000ff 93.54px,#5f5fff 101.77px,#c8c8ff 118.32px,#ffffff 126.32px,#ffd7d7 131.54px,#ff9696 142.05px,#ff5f5f 148.28px,#ff0000 153.05px,#ff0000 233.36px,#ff5f5f 245.58px,#ffd7d7 261.36px,#ffffff 272.81px,#c8c8ff 278.27px,#5f5fff 282.5px,#0000ff 287.18px)"></div>
<div class="hm" style="top:848px;height:2px;background:linear-gradient(90deg,#0000ff 93.58px,#5f5fff 101.79px,#c8c8ff 118.38px,#ffffff 126.38px,#ffd7d7 131.58px,#ff9696 141.87px,#ff5f5f 148.08px,#ff0000 152.87px,#ff0000 233.67px,#ff5f5f 245.88px,#ffd7d7 261.67px,#ffffff 273.09px,#c8c8ff 278.5px,#5f5fff 282.71px,#0000ff 287.34px)"></div>
<div class="hm" style="top:850px;height:2px;background:linear-gradient(90deg,#0000ff 93.62px,#5f5fff 101.81px,#c8c8ff 118.44px,#ffffff 126.44px,#ffd7d7 131.62px,#ff9696 141.69px,#ff5f5f 147.88px,#ff0000 152.69px,#ff0000 233.99px,#ff5f5f 246.18px,#ffd7d7 261.99px,#ffffff 273.37px,#c8c8ff 278.74px,#5f5fff 282.93px,#0000ff 287.5px)"></div>
<div class="hm" style="top:852px;height:2px;background:linear-gradient(90deg,#0000ff 93.66px,#5f5fff 101.83px,#c8c8ff 118.5px,#ffffff 126.5px,#ffd7d7 131.66px,#ff9696 141.51px,#ff5f5f 147.68px,#ff0000 152.51px,#ff0000 234.31px,#ff5f5f 246.48px,#ffd7d7 262.31px,#ffffff 273.64px,#c8c8ff 278.98px,#5f5fff 283.15px,#0000ff 287.65px)"></div>
<div class="hm" style="top:854px;height:2px;background:linear-gradient(90deg,#0000ff 93.7px,#5f5fff 101.85px,#c8c8ff 118.55px,#ffffff 126.55px,#ffd7d7 131.7px,#ff9696 141.34px,#ff5f5f 147.49px,#ff0000 152.34px,#ff0000 234.62px,#ff5f5f 246.77px,#ffd7d7 262.62px,#ffffff 273.92px,#c8c8ff 279.22px,#5f5fff 283.37px,#0000ff 287.81px)"></div>
<div class="hm" style="top:856px;height:2px;background:linear-gradient(90deg,#0000ff 93.74px,#5f5fff 101.87px,#c8c8ff 118.61px,#ffffff 126.61px,#ffd7d7 131.74px,#ff9696 141.16px,#ff5f5f 147.29px,#ff0000 152.16px,#ff0000 234.94px,#ff5f5f 247.07px,#ffd7d7 262.94px,#ffffff 274.2px,#c8c8ff 279.46px,#5f5fff 283.58px,#0000ff 287.97px)"></div>
<div class="hm" style="top:858px;height:2px;background:linear-gradient(90deg,#0000ff 93.78px,#5f5fff 101.89px,#c8c8ff 118.67px,#ffffff 126.67px,#ffd7d7 131.78px,#ff9696 140.98px,#ff5f5f 147.09px,#ff0000 151.98px,#ff0000 235.26px,#ff5f5f 247.37px,#ffd7d7 263.26px,#ffffff 274.48px,#c8c8ff 279.69px,#5f5fff 283.8px,#0000ff 288.13px)"></div>
<div class="hm" style="top:860px;height:2px;background:linear-gradient(90deg,#0000ff 93.82px,#5f5fff 101.91px,#c8c8ff 118.73px,#ffffff 126.73px,#ffd7d7 131.82px,#ff9696 140.8px,#ff5f5f 146.89px,#ff0000 151.8px,#ff0000 235.57px,#ff5f5f 247.66px,#ffd7d7 263.57px,#ffffff 274.75px,#c8c8ff 279.93px,#5f5fff 284.02px,#0000ff 288.29px)"></div>
<div class="hm" style="top:862px;height:2px;background:linear-gradient(90deg,#0000ff 93.86px,#5f5fff 101.93px,#c8c8ff 118.79px,#ffffff 126.79px,#ffd7d7 131.86px,#ff9696 140.62px,#ff5f5f 146.69px,#ff0000 151.62px,#ff0000 235.89px,#ff5f5f 247.96px,#ffd7d7 263.89px,#ffffff 275.03px,#c8c8ff 280.17px,#5f5fff 284.24px,#0000ff 288.45px)"></div>
<div class="hm" style="top:864px;height:2px;background:linear-gradient(90deg,#0000ff 93.9px,#5f5fff 101.95px,#c8c8ff 118.85px,#ffffff 126.85px,#ffd7d7 131.9px,#ff9696 140.45px,#ff5f5f 146.5px,#ff0000 151.45px,#ff0000 236.21px,#ff5f5f 248.26px,#ffd7d7 264.21px,#ffffff 275.31px,#c8c8ff 280.41px,#5f5fff 284.46px,#0000ff 288.6px)"></div>
<div class="hm" style="top:866px;height:2px;background:linear-gradient(90deg,#0000ff 93.94px,#5f5fff 101.97px,#c8c8ff 118.91px,#ffffff 126.91px,#ffd7d7 131.94px,#ff9696 140.27px,#ff5f5f 146.3px,#ff0000 151.27px,#ff0000 236.52px,#ff5f5f 248.55px,#ffd7d7 264.52px,#ffffff 275.58px,#c8c8ff 280.64px,#5f5fff 284.67px,#0000ff 288.76px)"></div>
<div class="hm" style="top:868px;height:2px;background:linear-gradient(90deg,#0000ff 93.98px,#5f5fff 101.99px,#c8c8ff 118.97px,#ffffff 126.97px,#ffd7d7 131.98px,#ff9696 140.09px,#ff5f5f 146.1px,#ff0000 151.09px,#ff0000 236.84px,#ff5f5f 248.85px,#ffd7d7 264.84px,#ffffff 275.86px,#c8c8ff 280.88px,#5f5fff 284.89px,#0000ff 288.92px)"></div>
<div class="hm" style="top:870px;height:2px;background:linear-gradient(90deg,#0000ff 94.01px,#5f5fff 102px,#c8c8ff 118.98px,#ffffff 126.97px,#ffd7d7 131.96px,#ff9696 139.92px,#ff5f5f 145.92px,#ff0000 150.92px,#ff0000 237.18px,#ff5f5f 249.15px,#ffd7d7 265.09px,#ffffff 276.07px,#c8c8ff 281.07px,#5f5fff 285.07px,#0000ff 289.08px)"></div>
<div class="hm" style="top:872px;height:2px;background:linear-gradient(90deg,#0000ff 94.02px,#5f5fff 102px,#c8c8ff 118.94px,#ffffff 126.9px,#ffd7d7 131.88px,#ff9696 139.77px,#ff5f5f 145.75px,#ff0000 150.77px,#ff0000 237.55px,#ff5f5f 249.45px,#ffd7d7 265.28px,#ffffff 276.2px,#c8c8ff 281.2px,#5f5fff 285.2px,#0000ff 289.22px)"></div>
<div class="hm" style="top:874px;height:2px;background:linear-gradient(90deg,#0000ff 94.04px,#5f5fff 102px,#c8c8ff 118.9px,#ffffff 126.83px,#ffd7d7 131.79px,#ff9696 139.62px,#ff5f5f 145.58px,#ff0000 150.62px,#ff0000 237.92px,#ff5f5f 249.75px,#ffd7d7 265.46px,#ffffff 276.33px,#c8c8ff 281.33px,#5f5fff 285.33px,#0000ff 289.38px)"></div>
<div class="hm" style="top:876px;height:2px;background:linear-gradient(90deg,#0000ff 94.06px,#5f5fff 102px,#c8c8ff 118.85px,#ffffff 126.77px,#ffd7d7 131.71px,#ff9696 139.48px,#ff5f5f 145.42px,#ff0000 150.48px,#ff0000 238.28px,#ff5f5f 250.05px,#ffd7d7 265.64px,#ffffff 276.47px,#c8c8ff 281.47px,#5f5fff 285.47px,#0000ff 289.53px)"></div>
<div class="hm" style="top:878px;height:2px;background:linear-gradient(90deg,#0000ff 94.08px,#5f5fff 102px,#c8c8ff 118.81px,#ffffff 126.7px,#ffd7d7 131.62px,#ff9696 139.33px,#ff5f5f 145.25px,#ff0000 150.33px,#ff0000 238.65px,#ff5f5f 250.35px,#ffd7d7 265.83px,#ffffff 276.6px,#c8c8ff 281.6px,#5f5fff 285.6px,#0000ff 289.67px)"></div>
<div class="hm" style="top:880px;height:2px;background:linear-gradient(90deg,#0000ff 94.09px,#5f5fff 102px,#c8c8ff 118.77px,#ffffff 126.63px,#ffd7d7 131.54px,#ff9696 139.17px,#ff5f5f 145.08px,#ff0000 150.17px,#ff0000 239.02px,#ff5f5f 250.65px,#ffd7d7 266.01px,#ffffff 276.73px,#c8c8ff 281.73px,#5f5fff 285.73px,#0000ff 289.83px)"></div>
<div class="hm" style="top:882px;height:2px;background:linear-gradient(90deg,#0000ff 94.11px,#5f5fff 102px,#c8c8ff 118.73px,#ffffff 126.57px,#ffd7d7 131.46px,#ff9696 139.02px,#ff5f5f 144.92px,#ff0000 150.02px,#ff0000 239.38px,#ff5f5f 250.95px,#ffd7d7 266.19px,#ffffff 276.87px,#c8c8ff 281.87px,#5f5fff 285.87px,#0000ff 289.97px)"></div>
<div class="hm" style="top:884px;height:2px;background:linear-gradient(90deg,#0000ff 94.12px,#5f5fff 102px,#c8c8ff 118.69px,#ffffff 126.5px,#ffd7d7 131.38px,#ff9696 138.88px,#ff5f5f 144.75px,#ff0000 149.88px,#ff0000 239.75px,#ff5f5f 251.25px,#ffd7d7 266.38px,#ffffff 277px,#c8c8ff 282px,#5f5fff 286px,#0000ff 290.12px)"></div>
<div class="hm" style="top:886px;height:2px;background:linear-gradient(90deg,#0000ff 94.14px,#5f5fff 102px,#c8c8ff 118.65px,#ffffff 126.43px,#ffd7d7 131.29px,#ff9696 138.73px,#ff5f5f 144.58px,#ff0000 149.73px,#ff0000 240.12px,#ff5f5f 251.55px,#ffd7d7 266.56px,#ffffff 277.13px,#c8c8ff 282.13px,#5f5fff 286.13px,#0000ff 290.28px)"></div>
<div class="hm" style="top:888px;height:2px;background:linear-gradient(90deg,#0000ff 94.16px,#5f5fff 102px,#c8c8ff 118.6px,#ffffff 126.37px,#ffd7d7 131.21px,#ff9696 138.58px,#ff5f5f 144.42px,#ff0000 149.58px,#ff0000 240.48px,#ff5f5f 251.85px,#ffd7d7 266.74px,#ffffff 277.27px,#c8c8ff 282.27px,#5f5fff 286.27px,#0000ff 290.42px)"></div>
<div class="hm" style="top:890px;height:2px;background:linear-gradient(90deg,#0000ff 94.17px,#5f5fff 102px,#c8c8ff 118.56px,#ffffff 126.3px,#ffd7d7 131.12px,#ff9696 138.42px,#ff5f5f 144.25px,#ff0000 149.42px,#ff0000 240.85px,#ff5f5f 252.15px,#ffd7d7 266.92px,#ffffff 277.4px,#c8c8ff 282.4px,#5f5fff 286.4px,#0000ff 290.58px)"></div>
<div class="hm" style="top:892px;height:2px;background:linear-gradient(90deg,#0000ff 94.19px,#5f5fff 102px,#c8c8ff 118.52px,#ffffff 126.23px,#ffd7d7 131.04px,#ff9696 138.27px,#ff5f5f 144.08px,#ff0000 149.27px,#ff0000 241.22px,#ff5f5f 252.45px,#ffd7d7 267.11px,#ffffff 277.53px,#c8c8ff 282.53px,#5f5fff 286.53px,#0000ff 290.72px)"></div>
<div class="hm" style="top:894px;height:2px;background:linear-gradient(90deg,#0000ff 94.21px,#5f5fff 102px,#c8c8ff 118.48px,#ffffff 126.17px,#ffd7d7 130.96px,#ff9696 138.12px,#ff5f5f 143.92px,#ff0000 149.12px,#ff0000 241.58px,#ff5f5f 252.75px,#ffd7d7 267.29px,#ffffff 277.67px,#c8c8ff 282.67px,#5f5fff 286.67px,#0000ff 290.88px)"></div>
<div class="hm" style="top:896px;height:2px;background:linear-gradient(90deg,#0000ff 94.23px,#5f5fff 102px,#c8c8ff 118.44px,#ffffff 126.1px,#ffd7d7 130.88px,#ff9696 137.98px,#ff5f5f 143.75px,#ff0000 148.98px,#ff0000 241.95px,#ff5f5f 253.05px,#ffd7d7 267.47px,#ffffff 277.8px,#c8c8ff 282.8px,#5f5fff 286.8px,#0000ff 291.03px)"></div>
<div class="hm" style="top:898px;height:2px;background:linear-gradient(90deg,#0000ff 94.24px,#5f5fff 102px,#c8c8ff 118.4px,#ffffff 126.03px,#ffd7d7 130.79px,#ff9696 137.83px,#ff5f5f 143.58px,#ff0000 148.83px,#ff0000 242.32px,#ff5f5f 253.35px,#ffd7d7 267.66px,#ffffff 277.93px,#c8c8ff 282.93px,#5f5fff 286.93px,#0000ff 291.17px)"></div>
<div class="hm" style="top:900px;height:2px;background:linear-gradient(90deg,#0000ff 94.26px,#5f5fff 102px,#c8c8ff 118.35px,#ffffff 125.97px,#ffd7d7 130.71px,#ff9696 137.67px,#ff5f5f 143.42px,#ff0000 148.67px,#ff0000 242.68px,#ff5f5f 253.65px,#ffd7d7 267.84px,#ffffff 278.07px,#c8c8ff 283.07px,#5f5fff 287.07px,#0000ff 291.33px)"></div>
<div class="hm" style="top:902px;height:2px;background:linear-gradient(90deg,#0000ff 94.27px,#5f5fff 102px,#c8c8ff 118.31px,#ffffff 125.9px,#ffd7d7 130.62px,#ff9696 137.52px,#ff5f5f 143.25px,#ff0000 148.52px,#ff0000 243.05px,#ff5f5f 253.95px,#ffd7d7 268.03px,#ffffff 278.2px,#c8c8ff 283.2px,#5f5fff 287.2px,#0000ff 291.47px)"></div>
<div class="hm" style="top:904px;height:2px;background:linear-gradient(90deg,#0000ff 94.29px,#5f5fff 102px,#c8c8ff 118.27px,#ffffff 125.83px,#ffd7d7 130.54px,#ff9696 137.38px,#ff5f5f 143.08px,#ff0000 148.38px,#ff0000 243.42px,#ff5f5f 254.25px,#ffd7d7 268.21px,#ffffff 278.33px,#c8c8ff 283.33px,#5f5fff 287.33px,#0000ff 291.62px)"></div>
<div class="hm" style="top:906px;height:2px;background:linear-gradient(90deg,#0000ff 94.31px,#5f5fff 102px,#c8c8ff 118.23px,#ffffff 125.77px,#ffd7d7 130.46px,#ff9696 137.23px,#ff5f5f 142.92px,#ff0000 148.23px,#ff0000 243.78px,#ff5f5f 254.55px,#ffd7d7 268.39px,#ffffff 278.47px,#c8c8ff 283.47px,#5f5fff 287.47px,#0000ff 291.78px)"></div>
<div class="hm" style="top:908px;height:2px;background:linear-gradient(90deg,#0000ff 94.33px,#5f5fff 102px,#c8c8ff 118.19px,#ffffff 125.7px,#ffd7d7 130.38px,#ff9696 137.08px,#ff5f5f 142.75px,#ff0000 148.08px,#ff0000 244.15px,#ff5f5f 254.85px,#ffd7d7 268.58px,#ffffff 278.6px,#c8c8ff 283.6px,#5f5fff 287.6px,#0000ff 291.92px)"></div>
<div class="hm" style="top:910px;height:2px;background:linear-gradient(90deg,#0000ff 94.34px,#5f5fff 102px,#c8c8ff 118.15px,#ffffff 125.63px,#ffd7d7 130.29px,#ff9696 136.92px,#ff5f5f 142.58px,#ff0000 147.92px,#ff0000 244.52px,#ff5f5f 255.15px,#ffd7d7 268.76px,#ffffff 278.73px,#c8c8ff 283.73px,#5f5fff 287.73px,#0000ff 292.08px)"></div>
<div class="hm" style="top:912px;height:2px;background:linear-gradient(90deg,#0000ff 94.36px,#5f5fff 102px,#c8c8ff 118.1px,#ffffff 125.57px,#ffd7d7 130.21px,#ff9696 136.77px,#ff5f5f 142.42px,#ff0000 147.77px,#ff0000 244.88px,#ff5f5f 255.45px,#ffd7d7 268.94px,#ffffff 278.87px,#c8c8ff 283.87px,#5f5fff 287.87px,#0000ff 292.22px)"></div>
<div class="hm" style="top:914px;height:2px;background:linear-gradient(90deg,#0000ff 94.38px,#5f5fff 102px,#c8c8ff 118.06px,#ffffff 125.5px,#ffd7d7 130.12px,#ff9696 136.62px,#ff5f5f 142.25px,#ff0000 147.62px,#ff0000 245.25px,#ff5f5f 255.75px,#ffd7d7 269.12px,#ffffff 279px,#c8c8ff 284px,#5f5fff 288px,#0000ff 292.38px)"></div>
<div class="hm" style="top:916px;height:2px;background:linear-gradient(90deg,#0000ff 94.39px,#5f5fff 102px,#c8c8ff 118.02px,#ffffff 125.43px,#ffd7d7 130.04px,#ff9696 136.48px,#ff5f5f 142.08px,#ff0000 147.48px,#ff0000 245.62px,#ff5f5f 256.05px,#ffd7d7 269.31px,#ffffff 279.13px,#c8c8ff 284.13px,#5f5fff 288.13px,#0000ff 292.53px)"></div>
<div class="hm" style="top:918px;height:2px;background:linear-gradient(90deg,#0000ff 94.41px,#5f5fff 102px,#c8c8ff 117.98px,#ffffff 125.37px,#ffd7d7 129.96px,#ff9696 136.33px,#ff5f5f 141.92px,#ff0000 147.33px,#ff0000 245.98px,#ff5f5f 256.35px,#ffd7d7 269.49px,#ffffff 279.27px,#c8c8ff 284.27px,#5f5fff 288.27px,#0000ff 292.67px)"></div>
<div class="hm" style="top:920px;height:2px;background:linear-gradient(90deg,#0000ff 94.42px,#5f5fff 102px,#c8c8ff 117.94px,#ffffff 125.3px,#ffd7d7 129.88px,#ff9696 136.17px,#ff5f5f 141.75px,#ff0000 147.17px,#ff0000 246.35px,#ff5f5f 256.65px,#ffd7d7 269.67px,#ffffff 279.4px,#c8c8ff 284.4px,#5f5fff 288.4px,#0000ff 292.83px)"></div>
<div class="hm" style="top:922px;height:2px;background:linear-gradient(90deg,#0000ff 94.44px,#5f5fff 102px,#c8c8ff 117.9px,#ffffff 125.23px,#ffd7d7 129.79px,#ff9696 136.02px,#ff5f5f 141.58px,#ff0000 147.02px,#ff0000 246.72px,#ff5f5f 256.95px,#ffd7d7 269.86px,#ffffff 279.53px,#c8c8ff 284.53px,#5f5fff 288.53px,#0000ff 292.97px)"></div>
<div class="hm" style="top:924px;height:2px;background:linear-gradient(90deg,#0000ff 94.46px,#5f5fff 102px,#c8c8ff 117.85px,#ffffff 125.17px,#ffd7d7 129.71px,#ff9696 135.88px,#ff5f5f 141.42px,#ff0000 146.88px,#ff0000 247.08px,#ff5f5f 257.25px,#ffd7d7 270.04px,#ffffff 279.67px,#c8c8ff 284.67px,#5f5fff 288.67px,#0000ff 293.12px)"></div>
<div class="hm" style="top:926px;height:2px;background:linear-gradient(90deg,#0000ff 94.48px,#5f5fff 102px,#c8c8ff 117.81px,#ffffff 125.1px,#ffd7d7 129.62px,#ff9696 135.73px,#ff5f5f 141.25px,#ff0000 146.73px,#ff0000 247.45px,#ff5f5f 257.55px,#ffd7d7 270.22px,#ffffff 279.8px,#c8c8ff 284.8px,#5f5fff 288.8px,#0000ff 293.28px)"></div>
<div class="hm" style="top:928px;height:2px;background:linear-gradient(90deg,#0000ff 94.49px,#5f5fff 102px,#c8c8ff 117.77px,#ffffff 125.03px,#ffd7d7 129.54px,#ff9696 135.58px,#ff5f5f 141.08px,#ff0000 146.58px,#ff0000 247.82px,#ff5f5f 257.85px,#ffd7d7 270.41px,#ffffff 279.93px,#c8c8ff 284.93px,#5f5fff 288.93px,#0000ff 293.42px)"></div>
<div class="hm" style="top:930px;height:2px;background:linear-gradient(90deg,#0000ff 94.51px,#5f5fff 102px,#c8c8ff 117.73px,#ffffff 124.97px,#ffd7d7 129.46px,#ff9696 135.42px,#ff5f5f 140.92px,#ff0000 146.42px,#ff0000 248.18px,#ff5f5f 258.15px,#ffd7d7 270.59px,#ffffff 280.07px,#c8c8ff 285.07px,#5f5fff 289.07px,#0000ff 293.58px)"></div>
<div class="hm" style="top:932px;height:2px;background:linear-gradient(90deg,#0000ff 94.52px,#5f5fff 102px,#c8c8ff 117.69px,#ffffff 124.9px,#ffd7d7 129.38px,#ff9696 135.27px,#ff5f5f 140.75px,#ff0000 146.27px,#ff0000 248.55px,#ff5f5f 258.45px,#ffd7d7 270.78px,#ffffff 280.2px,#c8c8ff 285.2px,#5f5fff 289.2px,#0000ff 293.72px)"></div>
<div class="hm" style="top:934px;height:2px;background:linear-gradient(90deg,#0000ff 94.54px,#5f5fff 102px,#c8c8ff 117.65px,#ffffff 124.83px,#ffd7d7 129.29px,#ff9696 135.12px,#ff5f5f 140.58px,#ff0000 146.12px,#ff0000 248.92px,#ff5f5f 258.75px,#ffd7d7 270.96px,#ffffff 280.33px,#c8c8ff 285.33px,#5f5fff 289.33px,#0000ff 293.88px)"></div>
<div class="hm" style="top:936px;height:2px;background:linear-gradient(90deg,#0000ff 94.56px,#5f5fff 102px,#c8c8ff 117.6px,#ffffff 124.77px,#ffd7d7 129.21px,#ff9696 134.98px,#ff5f5f 140.42px,#ff0000 145.98px,#ff0000 249.28px,#ff5f5f 259.05px,#ffd7d7 271.14px,#ffffff 280.47px,#c8c8ff 285.47px,#5f5fff 289.47px,#0000ff 294.03px)"></div>
<div class="hm" style="top:938px;height:2px;background:linear-gradient(90deg,#0000ff 94.58px,#5f5fff 102px,#c8c8ff 117.56px,#ffffff 124.7px,#ffd7d7 129.12px,#ff9696 134.83px,#ff5f5f 140.25px,#ff0000 145.83px,#ff0000 249.65px,#ff5f5f 259.35px,#ffd7d7 271.33px,#ffffff 280.6px,#c8c8ff 285.6px,#5f5fff 289.6px,#0000ff 294.17px)"></div>
<div class="hm" style="top:940px;height:2px;background:linear-gradient(90deg,#0000ff 94.59px,#5f5fff 102px,#c8c8ff 117.52px,#ffffff 124.63px,#ffd7d7 129.04px,#ff9696 134.67px,#ff5f5f 140.08px,#ff0000 145.67px,#ff0000 250.02px,#ff5f5f 259.65px,#ffd7d7 271.51px,#ffffff 280.73px,#c8c8ff 285.73px,#5f5fff 289.73px,#0000ff 294.33px)"></div>
<div class="hm" style="top:942px;height:2px;background:linear-gradient(90deg,#0000ff 94.61px,#5f5fff 102px,#c8c8ff 117.48px,#ffffff 124.57px,#ffd7d7 128.96px,#ff9696 134.52px,#ff5f5f 139.92px,#ff0000 145.52px,#ff0000 250.38px,#ff5f5f 259.95px,#ffd7d7 271.69px,#ffffff 280.87px,#c8c8ff 285.87px,#5f5fff 289.87px,#0000ff 294.47px)"></div>
<div class="hm" style="top:944px;height:2px;background:linear-gradient(90deg,#0000ff 94.62px,#5f5fff 102px,#c8c8ff 117.44px,#ffffff 124.5px,#ffd7d7 128.88px,#ff9696 134.38px,#ff5f5f 139.75px,#ff0000 145.38px,#ff0000 250.75px,#ff5f5f 260.25px,#ffd7d7 271.88px,#ffffff 281px,#c8c8ff 286px,#5f5fff 290px,#0000ff 294.62px)"></div>
<div class="hm" style="top:946px;height:2px;background:linear-gradient(90deg,#0000ff 94.64px,#5f5fff 102px,#c8c8ff 117.4px,#ffffff 124.43px,#ffd7d7 128.79px,#ff9696 134.23px,#ff5f5f 139.58px,#ff0000 145.23px,#ff0000 251.12px,#ff5f5f 260.55px,#ffd7d7 272.06px,#ffffff 281.13px,#c8c8ff 286.13px,#5f5fff 290.13px,#0000ff 294.78px)"></div>
<div class="hm" style="top:948px;height:2px;background:linear-gradient(90deg,#0000ff 94.66px,#5f5fff 102px,#c8c8ff 117.35px,#ffffff 124.37px,#ffd7d7 128.71px,#ff9696 134.08px,#ff5f5f 139.42px,#ff0000 145.08px,#ff0000 251.48px,#ff5f5f 260.85px,#ffd7d7 272.24px,#ffffff 281.27px,#c8c8ff 286.27px,#5f5fff 290.27px,#0000ff 294.92px)"></div>
<div class="hm" style="top:950px;height:2px;background:linear-gradient(90deg,#0000ff 94.67px,#5f5fff 102px,#c8c8ff 117.31px,#ffffff 124.3px,#ffd7d7 128.62px,#ff9696 133.92px,#ff5f5f 139.25px,#ff0000 144.92px,#ff0000 251.85px,#ff5f5f 261.15px,#ffd7d7 272.42px,#ffffff 281.4px,#c8c8ff 286.4px,#5f5fff 290.4px,#0000ff 295.08px)"></div>
<div class="hm" style="top:952px;height:2px;background:linear-gradient(90deg,#0000ff 94.69px,#5f5fff 102px,#c8c8ff 117.27px,#ffffff 124.23px,#ffd7d7 128.54px,#ff9696 133.77px,#ff5f5f 139.08px,#ff0000 144.77px,#ff0000 252.22px,#ff5f5f 261.45px,#ffd7d7 272.61px,#ffffff 281.53px,#c8c8ff 286.53px,#5f5fff 290.53px,#0000ff 295.22px)"></div>
<div class="hm" style="top:954px;height:2px;background:linear-gradient(90deg,#0000ff 94.71px,#5f5fff 102px,#c8c8ff 117.23px,#ffffff 124.17px,#ffd7d7 128.46px,#ff9696 133.62px,#ff5f5f 138.92px,#ff0000 144.62px,#ff0000 252.58px,#ff5f5f 261.75px,#ffd7d7 272.79px,#ffffff 281.67px,#c8c8ff 286.67px,#5f5fff 290.67px,#0000ff 295.38px)"></div>
<div class="hm" style="top:956px;height:2px;background:linear-gradient(90deg,#0000ff 94.73px,#5f5fff 102px,#c8c8ff 117.19px,#ffffff 124.1px,#ffd7d7 128.38px,#ff9696 133.48px,#ff5f5f 138.75px,#ff0000 144.48px,#ff0000 252.95px,#ff5f5f 262.05px,#ffd7d7 272.97px,#ffffff 281.8px,#c8c8ff 286.8px,#5f5fff 290.8px,#0000ff 295.53px)"></div>
<div class="hm" style="top:958px;height:2px;background:linear-gradient(90deg,#0000ff 94.74px,#5f5fff 102px,#c8c8ff 117.15px,#ffffff 124.03px,#ffd7d7 128.29px,#ff9696 133.33px,#ff5f5f 138.58px,#ff0000 144.33px,#ff0000 253.32px,#ff5f5f 262.35px,#ffd7d7 273.16px,#ffffff 281.93px,#c8c8ff 286.93px,#5f5fff 290.93px,#0000ff 295.67px)"></div>
<div class="hm" style="top:960px;height:2px;background:linear-gradient(90deg,#0000ff 94.76px,#5f5fff 102px,#c8c8ff 117.1px,#ffffff 123.97px,#ffd7d7 128.21px,#ff9696 133.17px,#ff5f5f 138.42px,#ff0000 144.17px,#ff0000 253.68px,#ff5f5f 262.65px,#ffd7d7 273.34px,#ffffff 282.07px,#c8c8ff 287.07px,#5f5fff 291.07px,#0000ff 295.83px)"></div>
<div class="hm" style="top:962px;height:2px;background:linear-gradient(90deg,#0000ff 94.77px,#5f5fff 102px,#c8c8ff 117.06px,#ffffff 123.9px,#ffd7d7 128.12px,#ff9696 133.02px,#ff5f5f 138.25px,#ff0000 144.02px,#ff0000 254.05px,#ff5f5f 262.95px,#ffd7d7 273.53px,#ffffff 282.2px,#c8c8ff 287.2px,#5f5fff 291.2px,#0000ff 295.97px)"></div>
<div class="hm" style="top:964px;height:2px;background:linear-gradient(90deg,#0000ff 94.79px,#5f5fff 102px,#c8c8ff 117.02px,#ffffff 123.83px,#ffd7d7 128.04px,#ff9696 132.88px,#ff5f5f 138.08px,#ff0000 143.88px,#ff0000 254.42px,#ff5f5f 263.25px,#ffd7d7 273.71px,#ffffff 282.33px,#c8c8ff 287.33px,#5f5fff 291.33px,#0000ff 296.12px)"></div>
<div class="hm" style="top:966px;height:2px;background:linear-gradient(90deg,#0000ff 94.81px,#5f5fff 102px,#c8c8ff 116.98px,#ffffff 123.77px,#ffd7d7 127.96px,#ff9696 132.73px,#ff5f5f 137.92px,#ff0000 143.73px,#ff0000 254.78px,#ff5f5f 263.55px,#ffd7d7 273.89px,#ffffff 282.47px,#c8c8ff 287.47px,#5f5fff 291.47px,#0000ff 296.28px)"></div>
<div class="hm" style="top:968px;height:2px;background:linear-gradient(90deg,#0000ff 94.83px,#5f5fff 102px,#c8c8ff 116.94px,#ffffff 123.7px,#ffd7d7 127.88px,#ff9696 132.58px,#ff5f5f 137.75px,#ff0000 143.58px,#ff0000 255.15px,#ff5f5f 263.85px,#ffd7d7 274.08px,#ffffff 282.6px,#c8c8ff 287.6px,#5f5fff 291.6px,#0000ff 296.42px)"></div>
<div class="hm" style="top:970px;height:2px;background:linear-gradient(90deg,#0000ff 94.84px,#5f5fff 102px,#c8c8ff 116.9px,#ffffff 123.63px,#ffd7d7 127.79px,#ff9696 132.42px,#ff5f5f 137.58px,#ff0000 143.42px,#ff0000 255.52px,#ff5f5f 264.15px,#ffd7d7 274.26px,#ffffff 282.73px,#c8c8ff 287.73px,#5f5fff 291.73px,#0000ff 296.58px)"></div>
<div class="hm" style="top:972px;height:2px;background:linear-gradient(90deg,#0000ff 94.86px,#5f5fff 102px,#c8c8ff 116.85px,#ffffff 123.57px,#ffd7d7 127.71px,#ff9696 132.27px,#ff5f5f 137.42px,#ff0000 143.27px,#ff0000 255.88px,#ff5f5f 264.45px,#ffd7d7 274.44px,#ffffff 282.87px,#c8c8ff 287.87px,#5f5fff 291.87px,#0000ff 296.72px)"></div>
<div class="hm" style="top:974px;height:2px;background:linear-gradient(90deg,#0000ff 94.88px,#5f5fff 102px,#c8c8ff 116.81px,#ffffff 123.5px,#ffd7d7 127.62px,#ff9696 132.12px,#ff5f5f 137.25px,#ff0000 143.12px,#ff0000 256.25px,#ff5f5f 264.75px,#ffd7d7 274.62px,#ffffff 283px,#c8c8ff 288px,#5f5fff 292px,#0000ff 296.88px)"></div>
<div class="hm" style="top:976px;height:2px;background:linear-gradient(90deg,#0000ff 94.89px,#5f5fff 102px,#c8c8ff 116.77px,#ffffff 123.43px,#ffd7d7 127.54px,#ff9696 131.98px,#ff5f5f 137.08px,#ff0000 142.98px,#ff0000 256.62px,#ff5f5f 265.05px,#ffd7d7 274.81px,#ffffff 283.13px,#c8c8ff 288.13px,#5f5fff 292.13px,#0000ff 297.03px)"></div>
<div class="hm" style="top:978px;height:2px;background:linear-gradient(90deg,#0000ff 94.91px,#5f5fff 102px,#c8c8ff 116.73px,#ffffff 123.37px,#ffd7d7 127.46px,#ff9696 131.83px,#ff5f5f 136.92px,#ff0000 142.83px,#ff0000 256.98px,#ff5f5f 265.35px,#ffd7d7 274.99px,#ffffff 283.27px,#c8c8ff 288.27px,#5f5fff 292.27px,#0000ff 297.17px)"></div>
<div class="hm" style="top:980px;height:2px;background:linear-gradient(90deg,#0000ff 94.92px,#5f5fff 102px,#c8c8ff 116.69px,#ffffff 123.3px,#ffd7d7 127.38px,#ff9696 131.67px,#ff5f5f 136.75px,#ff0000 142.67px,#ff0000 257.35px,#ff5f5f 265.65px,#ffd7d7 275.17px,#ffffff 283.4px,#c8c8ff 288.4px,#5f5fff 292.4px,#0000ff 297.33px)"></div>
<div class="hm" style="top:982px;height:2px;background:linear-gradient(90deg,#0000ff 94.94px,#5f5fff 102px,#c8c8ff 116.65px,#ffffff 123.23px,#ffd7d7 127.29px,#ff9696 131.52px,#ff5f5f 136.58px,#ff0000 142.52px,#ff0000 257.72px,#ff5f5f 265.95px,#ffd7d7 275.36px,#ffffff 283.53px,#c8c8ff 288.53px,#5f5fff 292.53px,#0000ff 297.47px)"></div>
<div class="hm" style="top:984px;height:2px;background:linear-gradient(90deg,#0000ff 94.96px,#5f5fff 102px,#c8c8ff 116.6px,#ffffff 123.17px,#ffd7d7 127.21px,#ff9696 131.38px,#ff5f5f 136.42px,#ff0000 142.38px,#ff0000 258.08px,#ff5f5f 266.25px,#ffd7d7 275.54px,#ffffff 283.67px,#c8c8ff 288.67px,#5f5fff 292.67px,#0000ff 297.62px)"></div>
<div class="hm" style="top:986px;height:2px;background:linear-gradient(90deg,#0000ff 94.98px,#5f5fff 102px,#c8c8ff 116.56px,#ffffff 123.1px,#ffd7d7 127.12px,#ff9696 131.23px,#ff5f5f 136.25px,#ff0000 142.23px,#ff0000 258.45px,#ff5f5f 266.55px,#ffd7d7 275.72px,#ffffff 283.8px,#c8c8ff 288.8px,#5f5fff 292.8px,#0000ff 297.78px)"></div>
<div class="hm" style="top:988px;height:2px;background:linear-gradient(90deg,#0000ff 94.99px,#5f5fff 102px,#c8c8ff 116.52px,#ffffff 123.03px,#ffd7d7 127.04px,#ff9696 131.08px,#ff5f5f 136.08px,#ff0000 142.08px,#ff0000 258.82px,#ff5f5f 266.85px,#ffd7d7 275.91px,#ffffff 283.93px,#c8c8ff 288.93px,#5f5fff 292.93px,#0000ff 297.92px)"></div>
<div class="hm" style="top:990px;height:2px;background:linear-gradient(90deg,#0000ff 95px,#5f5fff 101.99px,#c8c8ff 116.49px,#ffffff 122.99px,#ffd7d7 126.99px,#ff9696 130.99px,#ff5f5f 135.99px,#ff0000 141.99px,#ff0000 259.14px,#ff5f5f 267.12px,#ffd7d7 276.08px,#ffffff 284.05px,#c8c8ff 289.05px,#5f5fff 293.05px,#0000ff 298.05px)"></div>
<div class="hm" style="top:992px;height:2px;background:linear-gradient(90deg,#0000ff 95px,#5f5fff 101.96px,#c8c8ff 116.48px,#ffffff 122.96px,#ffd7d7 126.96px,#ff9696 130.96px,#ff5f5f 135.96px,#ff0000 141.96px,#ff0000 259.42px,#ff5f5f 267.35px,#ffd7d7 276.25px,#ffffff 284.14px,#c8c8ff 289.14px,#5f5fff 293.14px,#0000ff 298.14px)"></div>
<div class="hm" style="top:994px;height:2px;background:linear-gradient(90deg,#0000ff 95px,#5f5fff 101.94px,#c8c8ff 116.47px,#ffffff 122.94px,#ffd7d7 126.94px,#ff9696 130.94px,#ff5f5f 135.94px,#ff0000 141.94px,#ff0000 259.71px,#ff5f5f 267.59px,#ffd7d7 276.41px,#ffffff 284.24px,#c8c8ff 289.24px,#5f5fff 293.24px,#0000ff 298.24px)"></div>
<div class="hm" style="top:996px;height:2px;background:linear-gradient(90deg,#0000ff 95px,#5f5fff 101.92px,#c8c8ff 116.46px,#ffffff 122.92px,#ffd7d7 126.92px,#ff9696 130.92px,#ff5f5f 135.92px,#ff0000 141.92px,#ff0000 259.99px,#ff5f5f 267.82px,#ffd7d7 276.58px,#ffffff 284.33px,#c8c8ff 289.33px,#5f5fff 293.33px,#0000ff 298.33px)"></div>
<div class="hm" style="top:998px;height:2px;background:linear-gradient(90deg,#0000ff 95px,#5f5fff 101.89px,#c8c8ff 116.45px,#ffffff 122.89px,#ffd7d7 126.89px,#ff9696 130.89px,#ff5f5f 135.89px,#ff0000 141.89px,#ff0000 260.27px,#ff5f5f 268.06px,#ffd7d7 276.74px,#ffffff 284.42px,#c8c8ff 289.42px,#5f5fff 293.42px,#0000ff 298.42px)"></div>
<div class="hm" style="top:1000px;height:2px;background:linear-gradient(90deg,#0000ff 95px,#5f5fff 101.87px,#c8c8ff 116.44px,#ffffff 122.87px,#ffd7d7 126.87px,#ff9696 130.87px,#ff5f5f 135.87px,#ff0000 141.87px,#ff0000 260.55px,#ff5f5f 268.29px,#ffd7d7 276.91px,#ffffff 284.52px,#c8c8ff 289.52px,#5f5fff 293.52px,#0000ff 298.52px)"></div>
<div class="hm" style="top:1002px;height:2px;background:linear-gradient(90deg,#0000ff 95px,#5f5fff 101.85px,#c8c8ff 116.42px,#ffffff 122.85px,#ffd7d7 126.85px,#ff9696 130.85px,#ff5f5f 135.85px,#ff0000 141.85px,#ff0000 260.84px,#ff5f5f 268.53px,#ffd7d7 277.07px,#ffffff 284.61px,#c8c8ff 289.61px,#5f5fff 293.61px,#0000ff 298.61px)"></div>
<div class="hm" style="top:1004px;height:2px;background:linear-gradient(90deg,#0000ff 95px,#5f5fff 101.82px,#c8c8ff 116.41px,#ffffff 122.82px,#ffd7d7 126.82px,#ff9696 130.82px,#ff5f5f 135.82px,#ff0000 141.82px,#ff0000 261.12px,#ff5f5f 268.76px,#ffd7d7 277.24px,#ffffff 284.71px,#c8c8ff 289.71px,#5f5fff 293.71px,#0000ff 298.71px)"></div>
<div class="hm" style="top:1006px;height:2px;background:linear-gradient(90deg,#0000ff 95px,#5f5fff 101.8px,#c8c8ff 116.4px,#ffffff 122.8px,#ffd7d7 126.8px,#ff9696 130.8px,#ff5f5f 135.8px,#ff0000 141.8px,#ff0000 261.4px,#ff5f5f 269px,#ffd7d7 277.4px,#ffffff 284.8px,#c8c8ff 289.8px,#5f5fff 293.8px,#0000ff 298.8px)"></div>
<div class="hm" style="top:1008px;height:2px;background:linear-gradient(90deg,#0000ff 95px,#5f5fff 101.78px,#c8c8ff 116.39px,#ffffff 122.78px,#ffd7d7 126.78px,#ff9696 130.78px,#ff5f5f 135.78px,#ff0000 141.78px,#ff0000 261.68px,#ff5f5f 269.24px,#ffd7d7 277.56px,#ffffff 284.89px,#c8c8ff 289.89px,#5f5fff 293.89px,#0000ff 298.89px)"></div>
<div class="hm" style="top:1010px;height:2px;background:linear-gradient(90deg,#0000ff 95px,#5f5fff 101.75px,#c8c8ff 116.38px,#ffffff 122.75px,#ffd7d7 126.75px,#ff9696 130.75px,#ff5f5f 135.75px,#ff0000 141.75px,#ff0000 261.96px,#ff5f5f 269.47px,#ffd7d7 277.73px,#ffffff 284.99px,#c8c8ff 289.99px,#5f5fff 293.99px,#0000ff 298.99px)"></div>
<div class="hm" style="top:1012px;height:2px;background:linear-gradient(90deg,#0000ff 95px,#5f5fff 101.73px,#c8c8ff 116.36px,#ffffff 122.73px,#ffd7d7 126.73px,#ff9696 130.73px,#ff5f5f 135.73px,#ff0000 141.73px,#ff0000 262.25px,#ff5f5f 269.71px,#ffd7d7 277.89px,#ffffff 285.08px,#c8c8ff 290.08px,#5f5fff 294.08px,#0000ff 299.08px)"></div>
<div class="hm" style="top:1014px;height:2px;background:linear-gradient(90deg,#0000ff 95px,#5f5fff 101.71px,#c8c8ff 116.35px,#ffffff 122.71px,#ffd7d7 126.71px,#ff9696 130.71px,#ff5f5f 135.71px,#ff0000 141.71px,#ff0000 262.53px,#ff5f5f 269.94px,#ffd7d7 278.06px,#ffffff 285.18px,#c8c8ff 290.18px,#5f5fff 294.18px,#0000ff 299.18px)"></div>
<div class="hm" style="top:1016px;height:2px;background:linear-gradient(90deg,#0000ff 95px,#5f5fff 101.68px,#c8c8ff 116.34px,#ffffff 122.68px,#ffd7d7 126.68px,#ff9696 130.68px,#ff5f5f 135.68px,#ff0000 141.68px,#ff0000 262.81px,#ff5f5f 270.18px,#ffd7d7 278.22px,#ffffff 285.27px,#c8c8ff 290.27px,#5f5fff 294.27px,#0000ff 299.27px)"></div>
<div class="hm" style="top:1018px;height:2px;background:linear-gradient(90deg,#0000ff 95px,#5f5fff 101.66px,#c8c8ff 116.33px,#ffffff 122.66px,#ffd7d7 126.66px,#ff9696 130.66px,#ff5f5f 135.66px,#ff0000 141.66px,#ff0000 263.09px,#ff5f5f 270.41px,#ffd7d7 278.39px,#ffffff 285.36px,#c8c8ff 290.36px,#5f5fff 294.36px,#0000ff 299.36px)"></div>
<div class="hm" style="top:1020px;height:2px;background:linear-gradient(90deg,#0000ff 95px,#5f5fff 101.64px,#c8c8ff 116.32px,#ffffff 122.64px,#ffd7d7 126.64px,#ff9696 130.64px,#ff5f5f 135.64px,#ff0000 141.64px,#ff0000 263.38px,#ff5f5f 270.65px,#ffd7d7 278.55px,#ffffff 285.46px,#c8c8ff 290.46px,#5f5fff 294.46px,#0000ff 299.46px)"></div>
<div class="hm" style="top:1022px;height:2px;background:linear-gradient(90deg,#0000ff 95px,#5f5fff 101.61px,#c8c8ff 116.31px,#ffffff 122.61px,#ffd7d7 126.61px,#ff9696 130.61px,#ff5f5f 135.61px,#ff0000 141.61px,#ff0000 263.66px,#ff5f5f 270.88px,#ffd7d7 278.72px,#ffffff 285.55px,#c8c8ff 290.55px,#5f5fff 294.55px,#0000ff 299.55px)"></div>
<div class="hm" style="top:1024px;height:2px;background:linear-gradient(90deg,#0000ff 95px,#5f5fff 101.59px,#c8c8ff 116.29px,#ffffff 122.59px,#ffd7d7 126.59px,#ff9696 130.59px,#ff5f5f 135.59px,#ff0000 141.59px,#ff0000 263.94px,#ff5f5f 271.12px,#ffd7d7 278.88px,#ffffff 285.65px,#c8c8ff 290.65px,#5f5fff 294.65px,#0000ff 299.65px)"></div>
<div class="hm" style="top:1026px;height:2px;background:linear-gradient(90deg,#0000ff 95px,#5f5fff 101.56px,#c8c8ff 116.28px,#ffffff 122.56px,#ffd7d7 126.56px,#ff9696 130.56px,#ff5f5f 135.56px,#ff0000 141.56px,#ff0000 264.22px,#ff5f5f 271.35px,#ffd7d7 279.05px,#ffffff 285.74px,#c8c8ff 290.74px,#5f5fff 294.74px,#0000ff 299.74px)"></div>
<div class="hm" style="top:1028px;height:2px;background:linear-gradient(90deg,#0000ff 95px,#5f5fff 101.54px,#c8c8ff 116.27px,#ffffff 122.54px,#ffd7d7 126.54px,#ff9696 130.54px,#ff5f5f 135.54px,#ff0000 141.54px,#ff0000 264.51px,#ff5f5f 271.59px,#ffd7d7 279.21px,#ffffff 285.84px,#c8c8ff 290.84px,#5f5fff 294.84px,#0000ff 299.84px)"></div>
<div class="hm" style="top:1030px;height:2px;background:linear-gradient(90deg,#0000ff 95px,#5f5fff 101.52px,#c8c8ff 116.26px,#ffffff 122.52px,#ffd7d7 126.52px,#ff9696 130.52px,#ff5f5f 135.52px,#ff0000 141.52px,#ff0000 264.79px,#ff5f5f 271.82px,#ffd7d7 279.38px,#ffffff 285.93px,#c8c8ff 290.93px,#5f5fff 294.93px,#0000ff 299.93px)"></div>
<div class="hm" style="top:1032px;height:2px;background:linear-gradient(90deg,#0000ff 95px,#5f5fff 101.49px,#c8c8ff 116.25px,#ffffff 122.49px,#ffd7d7 126.49px,#ff9696 130.49px,#ff5f5f 135.49px,#ff0000 141.49px,#ff0000 265.07px,#ff5f5f 272.06px,#ffd7d7 279.54px,#ffffff 286.02px,#c8c8ff 291.02px,#5f5fff 295.02px,#0000ff 300.02px)"></div>
<div class="hm" style="top:1034px;height:2px;background:linear-gradient(90deg,#0000ff 95px,#5f5fff 101.47px,#c8c8ff 116.24px,#ffffff 122.47px,#ffd7d7 126.47px,#ff9696 130.47px,#ff5f5f 135.47px,#ff0000 141.47px,#ff0000 265.35px,#ff5f5f 272.29px,#ffd7d7 279.71px,#ffffff 286.12px,#c8c8ff 291.12px,#5f5fff 295.12px,#0000ff 300.12px)"></div>
<div class="hm" style="top:1036px;height:2px;background:linear-gradient(90deg,#0000ff 95px,#5f5fff 101.45px,#c8c8ff 116.22px,#ffffff 122.45px,#ffd7d7 126.45px,#ff9696 130.45px,#ff5f5f 135.45px,#ff0000 141.45px,#ff0000 265.64px,#ff5f5f 272.53px,#ffd7d7 279.87px,#ffffff 286.21px,#c8c8ff 291.21px,#5f5fff 295.21px,#0000ff 300.21px)"></div>
<div class="hm" style="top:1038px;height:2px;background:linear-gradient(90deg,#0000ff 95px,#5f5fff 101.42px,#c8c8ff 116.21px,#ffffff 122.42px,#ffd7d7 126.42px,#ff9696 130.42px,#ff5f5f 135.42px,#ff0000 141.42px,#ff0000 265.92px,#ff5f5f 272.76px,#ffd7d7 280.04px,#ffffff 286.31px,#c8c8ff 291.31px,#5f5fff 295.31px,#0000ff 300.31px)"></div>
<div class="hm" style="top:1040px;height:2px;background:linear-gradient(90deg,#0000ff 95px,#5f5fff 101.4px,#c8c8ff 116.2px,#ffffff 122.4px,#ffd7d7 126.4px,#ff9696 130.4px,#ff5f5f 135.4px,#ff0000 141.4px,#ff0000 266.2px,#ff5f5f 273px,#ffd7d7 280.2px,#ffffff 286.4px,#c8c8ff 291.4px,#5f5fff 295.4px,#0000ff 300.4px)"></div>
<div class="hm" style="top:1042px;height:2px;background:linear-gradient(90deg,#0000ff 95px,#5f5fff 101.38px,#c8c8ff 116.19px,#ffffff 122.38px,#ffd7d7 126.38px,#ff9696 130.38px,#ff5f5f 135.38px,#ff0000 141.38px,#ff0000 266.48px,#ff5f5f 273.24px,#ffd7d7 280.36px,#ffffff 286.49px,#c8c8ff 291.49px,#5f5fff 295.49px,#0000ff 300.49px)"></div>
<div class="hm" style="top:1044px;height:2px;background:linear-gradient(90deg,#0000ff 95px,#5f5fff 101.35px,#c8c8ff 116.18px,#ffffff 122.35px,#ffd7d7 126.35px,#ff9696 130.35px,#ff5f5f 135.35px,#ff0000 141.35px,#ff0000 266.76px,#ff5f5f 273.47px,#ffd7d7 280.53px,#ffffff 286.59px,#c8c8ff 291.59px,#5f5fff 295.59px,#0000ff 300.59px)"></div>
<div class="hm" style="top:1046px;height:2px;background:linear-gradient(90deg,#0000ff 95px,#5f5fff 101.33px,#c8c8ff 116.16px,#ffffff 122.33px,#ffd7d7 126.33px,#ff9696 130.33px,#ff5f5f 135.33px,#ff0000 141.33px,#ff0000 267.05px,#ff5f5f 273.71px,#ffd7d7 280.69px,#ffffff 286.68px,#c8c8ff 291.68px,#5f5fff 295.68px,#0000ff 300.68px)"></div>
<div class="hm" style="top:1048px;height:2px;background:linear-gradient(90deg,#0000ff 95px,#5f5fff 101.31px,#c8c8ff 116.15px,#ffffff 122.31px,#ffd7d7 126.31px,#ff9696 130.31px,#ff5f5f 135.31px,#ff0000 141.31px,#ff0000 267.33px,#ff5f5f 273.94px,#ffd7d7 280.86px,#ffffff 286.78px,#c8c8ff 291.78px,#5f5fff 295.78px,#0000ff 300.78px)"></div>
<div class="hm" style="top:1050px;height:2px;background:linear-gradient(90deg,#0000ff 95px,#5f5fff 101.28px,#c8c8ff 116.14px,#ffffff 122.28px,#ffd7d7 126.28px,#ff9696 130.28px,#ff5f5f 135.28px,#ff0000 141.28px,#ff0000 267.61px,#ff5f5f 274.18px,#ffd7d7 281.02px,#ffffff 286.87px,#c8c8ff 291.87px,#5f5fff 295.87px,#0000ff 300.87px)"></div>
<div class="hm" style="top:1052px;height:2px;background:linear-gradient(90deg,#0000ff 95px,#5f5fff 101.26px,#c8c8ff 116.13px,#ffffff 122.26px,#ffd7d7 126.26px,#ff9696 130.26px,#ff5f5f 135.26px,#ff0000 141.26px,#ff0000 267.89px,#ff5f5f 274.41px,#ffd7d7 281.19px,#ffffff 286.96px,#c8c8ff 291.96px,#5f5fff 295.96px,#0000ff 300.96px)"></div>
<div class="hm" style="top:1054px;height:2px;background:linear-gradient(90deg,#0000ff 95px,#5f5fff 101.24px,#c8c8ff 116.12px,#ffffff 122.24px,#ffd7d7 126.24px,#ff9696 130.24px,#ff5f5f 135.24px,#ff0000 141.24px,#ff0000 268.18px,#ff5f5f 274.65px,#ffd7d7 281.35px,#ffffff 287.06px,#c8c8ff 292.06px,#5f5fff 296.06px,#0000ff 301.06px)"></div>
<div class="hm" style="top:1056px;height:2px;background:linear-gradient(90deg,#0000ff 95px,#5f5fff 101.21px,#c8c8ff 116.11px,#ffffff 122.21px,#ffd7d7 126.21px,#ff9696 130.21px,#ff5f5f 135.21px,#ff0000 141.21px,#ff0000 268.46px,#ff5f5f 274.88px,#ffd7d7 281.52px,#ffffff 287.15px,#c8c8ff 292.15px,#5f5fff 296.15px,#0000ff 301.15px)"></div>
<div class="hm" style="top:1058px;height:2px;background:linear-gradient(90deg,#0000ff 95px,#5f5fff 101.19px,#c8c8ff 116.09px,#ffffff 122.19px,#ffd7d7 126.19px,#ff9696 130.19px,#ff5f5f 135.19px,#ff0000 141.19px,#ff0000 268.74px,#ff5f5f 275.12px,#ffd7d7 281.68px,#ffffff 287.25px,#c8c8ff 292.25px,#5f5fff 296.25px,#0000ff 301.25px)"></div>
<div class="hm" style="top:1060px;height:2px;background:linear-gradient(90deg,#0000ff 95px,#5f5fff 101.16px,#c8c8ff 116.08px,#ffffff 122.16px,#ffd7d7 126.16px,#ff9696 130.16px,#ff5f5f 135.16px,#ff0000 141.16px,#ff0000 269.02px,#ff5f5f 275.35px,#ffd7d7 281.85px,#ffffff 287.34px,#c8c8ff 292.34px,#5f5fff 296.34px,#0000ff 301.34px)"></div>
<div class="hm" style="top:1062px;height:2px;background:linear-gradient(90deg,#0000ff 95px,#5f5fff 101.14px,#c8c8ff 116.07px,#ffffff 122.14px,#ffd7d7 126.14px,#ff9696 130.14px,#ff5f5f 135.14px,#ff0000 141.14px,#ff0000 269.31px,#ff5f5f 275.59px,#ffd7d7 282.01px,#ffffff 287.44px,#c8c8ff 292.44px,#5f5fff 296.44px,#0000ff 301.44px)"></div>
<div class="hm" style="top:1064px;height:2px;background:linear-gradient(90deg,#0000ff 95px,#5f5fff 101.12px,#c8c8ff 116.06px,#ffffff 122.12px,#ffd7d7 126.12px,#ff9696 130.12px,#ff5f5f 135.12px,#ff0000 141.12px,#ff0000 269.59px,#ff5f5f 275.82px,#ffd7d7 282.18px,#ffffff 287.53px,#c8c8ff 292.53px,#5f5fff 296.53px,#0000ff 301.53px)"></div>
<div class="hm" style="top:1066px;height:2px;background:linear-gradient(90deg,#0000ff 95px,#5f5fff 101.09px,#c8c8ff 116.05px,#ffffff 122.09px,#ffd7d7 126.09px,#ff9696 130.09px,#ff5f5f 135.09px,#ff0000 141.09px,#ff0000 269.87px,#ff5f5f 276.06px,#ffd7d7 282.34px,#ffffff 287.62px,#c8c8ff 292.62px,#5f5fff 296.62px,#0000ff 301.62px)"></div>
<div class="hm" style="top:1068px;height:2px;background:linear-gradient(90deg,#0000ff 95px,#5f5fff 101.07px,#c8c8ff 116.04px,#ffffff 122.07px,#ffd7d7 126.07px,#ff9696 130.07px,#ff5f5f 135.07px,#ff0000 141.07px,#ff0000 270.15px,#ff5f5f 276.29px,#ffd7d7 282.51px,#ffffff 287.72px,#c8c8ff 292.72px,#5f5fff 296.72px,#0000ff 301.72px)"></div>
<div class="hm" style="top:1070px;height:2px;background:linear-gradient(90deg,#0000ff 95px,#5f5fff 101.05px,#c8c8ff 116.02px,#ffffff 122.05px,#ffd7d7 126.05px,#ff9696 130.05px,#ff5f5f 135.05px,#ff0000 141.05px,#ff0000 270.44px,#ff5f5f 276.53px,#ffd7d7 282.67px,#ffffff 287.81px,#c8c8ff 292.81px,#5f5fff 296.81px,#0000ff 301.81px)"></div>
<div class="hm" style="top:1072px;height:2px;background:linear-gradient(90deg,#0000ff 95px,#5f5fff 101.02px,#c8c8ff 116.01px,#ffffff 122.02px,#ffd7d7 126.02px,#ff9696 130.02px,#ff5f5f 135.02px,#ff0000 141.02px,#ff0000 270.72px,#ff5f5f 276.76px,#ffd7d7 282.84px,#ffffff 287.91px,#c8c8ff 292.91px,#5f5fff 296.91px,#0000ff 301.91px)"></div>
<div class="hm" style="top:1074px;height:1px;background:linear-gradient(90deg,#0000ff 95px,#5f5fff 101.01px,#c8c8ff 116px,#ffffff 122.01px,#ffd7d7 126.01px,#ff9696 130.01px,#ff5f5f 135.01px,#ff0000 141.01px,#ff0000 270.93px,#ff5f5f 276.94px,#ffd7d7 282.96px,#ffffff 287.98px,#c8c8ff 292.98px,#5f5fff 296.98px,#0000ff 301.98px)"></div>
<svg width="1965" height="1157" viewBox="0 0 1965 1157">
<text x="-0.88" y="33.2" style="font-family:'Liberation Sans', Arial, sans-serif;font-size:45px;font-weight:bold;" fill="#000">a</text>
<text x="668.1" y="33" style="font-family:'Liberation Sans', Arial, sans-serif;font-size:45px;font-weight:bold;" fill="#000">b</text>
<text x="1357.15" y="33.2" style="font-family:'Liberation Sans', Arial, sans-serif;font-size:45px;font-weight:bold;" fill="#000">c</text>
<text x="-0.97" y="648.9" style="font-family:'Liberation Sans', Arial, sans-serif;font-size:45px;font-weight:bold;" fill="#000">d</text>
<text x="669.45" y="649.2" style="font-family:'Liberation Sans', Arial, sans-serif;font-size:45px;font-weight:bold;" fill="#000">e</text>
<text x="1357.65" y="648.7" style="font-family:'Liberation Sans', Arial, sans-serif;font-size:45px;font-weight:bold;" fill="#000">f</text>
<clipPath id="clipa"><rect x="118.6" y="48" width="451.3" height="409"/></clipPath>
<g clip-path="url(#clipa)">
<polyline points="161.8,385.4 165.76,385.57 171.37,385.79 177.94,386.06 184.83,386.37 191.37,386.72 196.9,387.1 201.3,387.54 205.09,388.05 208.53,388.59 211.88,389.15 215.41,389.7 219.4,390.2 224.05,390.65 229.2,391.07 234.53,391.47 239.73,391.88 244.49,392.31 248.5,392.8 251.5,393.32 253.69,393.86 255.43,394.43 257.1,395.04 259.07,395.69 261.7,396.4 265.07,397.19 268.9,398.06 273.02,398.97 277.27,399.9 281.49,400.82 285.5,401.7 289.33,402.58 293.11,403.5 296.86,404.4 300.59,405.25 304.29,406 308,406.6 311.77,407.07 315.61,407.44 319.43,407.71 323.16,407.87 326.71,407.94 330,407.9 332.97,407.75 335.68,407.49 338.21,407.12 340.64,406.66 343.08,406.12 345.6,405.5 348.19,404.82 350.77,404.07 353.35,403.24 355.93,402.31 358.51,401.27 361.1,400.1 363.7,398.78 366.3,397.31 368.9,395.74 371.5,394.09 374.1,392.39 376.7,390.7 379.29,389.01 381.87,387.3 384.45,385.54 387.03,383.74 389.61,381.86 392.2,379.9 394.8,377.84 397.4,375.7 400,373.49 402.6,371.23 405.2,368.93 407.8,366.6 410.39,364.26 412.97,361.89 415.55,359.49 418.13,357.03 420.71,354.51 423.3,351.9 425.9,349.18 428.5,346.35 431.1,343.46 433.7,340.54 436.3,337.64 438.9,334.8 441.49,332.04 444.07,329.34 446.65,326.65 449.23,323.95 451.81,321.21 454.4,318.4 457,315.55 459.6,312.69 462.2,309.78 464.8,306.8 467.4,303.72 470,300.5 472.61,297.15 475.23,293.7 477.85,290.14 480.45,286.47 483,282.69 485.5,278.8 487.88,274.81 490.15,270.74 492.38,266.55 494.63,262.23 496.98,257.75 499.5,253.1 502.27,248.17 505.24,242.98 508.31,237.62 511.37,232.23 514.3,226.92 517,221.8 519.4,216.95 521.57,212.29 523.62,207.7 525.65,203.08 527.74,198.32 530,193.3 532.5,187.89 535.17,182.16 537.91,176.29 540.62,170.45 543.18,164.83 545.5,159.6 547.56,154.76 549.44,150.15 551.18,145.76 552.81,141.56 554.38,137.55 555.9,133.7 557.44,129.87 558.98,126.03 560.45,122.38 561.77,119.09 562.88,116.34 563.7,114.3" fill="none" stroke="#0000ff" stroke-width="3.4" stroke-linejoin="round" stroke-linecap="round"/>
<polyline points="155.9,420.2 160.61,420.25 167.1,420.29 174.81,420.34 183.15,420.45 191.57,420.62 199.5,420.9 207.21,421.3 215.22,421.82 223.31,422.41 231.24,423.03 238.82,423.64 245.8,424.2 252.16,424.73 258.06,425.28 263.59,425.82 268.84,426.32 273.92,426.75 278.9,427.1 283.81,427.35 288.57,427.53 293.14,427.64 297.5,427.7 301.6,427.71 305.4,427.7 308.74,427.68 311.61,427.66 314.22,427.59 316.78,427.45 319.51,427.2 322.6,426.8 326.18,426.22 330.11,425.49 334.21,424.64 338.27,423.73 342.13,422.8 345.6,421.9 348.62,421.04 351.32,420.2 353.81,419.33 356.2,418.43 358.6,417.46 361.1,416.4 363.7,415.25 366.3,414.03 368.9,412.74 371.5,411.4 374.1,410.01 376.7,408.6 379.29,407.16 381.87,405.7 384.45,404.19 387.03,402.63 389.61,401.01 392.2,399.3 394.8,397.51 397.4,395.63 400,393.69 402.6,391.7 405.2,389.66 407.8,387.6 410.39,385.5 412.97,383.34 415.55,381.14 418.13,378.91 420.71,376.66 423.3,374.4 425.9,372.11 428.5,369.79 431.1,367.45 433.7,365.1 436.3,362.74 438.9,360.4 441.49,358.05 444.07,355.67 446.65,353.3 449.23,350.95 451.81,348.64 454.4,346.4 457.09,344.19 459.89,341.98 462.69,339.81 465.38,337.73 467.86,335.78 470,334 471.74,332.47 473.15,331.17 474.34,330.01 475.42,328.86 476.5,327.63 477.7,326.2 478.99,324.58 480.29,322.85 481.59,321.04 482.9,319.16 484.2,317.24 485.5,315.3 486.82,313.36 488.16,311.4 489.5,309.39 490.82,307.33 492.09,305.17 493.3,302.9 494.39,300.52 495.36,298.06 496.28,295.5 497.23,292.86 498.28,290.12 499.5,287.3 500.85,284.55 502.26,281.92 503.76,279.19 505.4,276.18 507.2,272.68 509.2,268.5 511.46,263.49 513.97,257.79 516.64,251.61 519.39,245.14 522.14,238.6 524.8,232.2 527.42,225.81 530.07,219.23 532.71,212.59 535.32,205.98 537.86,199.51 540.3,193.3 542.64,187.32 544.91,181.49 547.12,175.8 549.25,170.26 551.31,164.86 553.3,159.6 555.23,154.41 557.09,149.27 558.89,144.28 560.6,139.53 562.21,135.1 563.7,131.1 565.12,127.45 566.49,124.07 567.75,121.02 568.87,118.36 569.8,116.17 570.5,114.5" fill="none" stroke="#ff0000" stroke-width="3.4" stroke-linejoin="round" stroke-linecap="round"/>
</g>
<rect x="118.6" y="48" width="451.9" height="409" fill="none" stroke="#000" stroke-width="2.2"/>
<line x1="173.51" y1="457" x2="173.51" y2="453.4" stroke="#000" stroke-width="2" stroke-linecap="butt"/>
<line x1="205.63" y1="457" x2="205.63" y2="453.4" stroke="#000" stroke-width="2" stroke-linecap="butt"/>
<line x1="228.42" y1="457" x2="228.42" y2="453.4" stroke="#000" stroke-width="2" stroke-linecap="butt"/>
<line x1="246.09" y1="457" x2="246.09" y2="453.4" stroke="#000" stroke-width="2" stroke-linecap="butt"/>
<line x1="260.53" y1="457" x2="260.53" y2="453.4" stroke="#000" stroke-width="2" stroke-linecap="butt"/>
<line x1="272.75" y1="457" x2="272.75" y2="453.4" stroke="#000" stroke-width="2" stroke-linecap="butt"/>
<line x1="283.32" y1="457" x2="283.32" y2="453.4" stroke="#000" stroke-width="2" stroke-linecap="butt"/>
<line x1="292.65" y1="457" x2="292.65" y2="453.4" stroke="#000" stroke-width="2" stroke-linecap="butt"/>
<line x1="301" y1="457" x2="301" y2="450" stroke="#000" stroke-width="2" stroke-linecap="butt"/>
<line x1="355.91" y1="457" x2="355.91" y2="453.4" stroke="#000" stroke-width="2" stroke-linecap="butt"/>
<line x1="388.03" y1="457" x2="388.03" y2="453.4" stroke="#000" stroke-width="2" stroke-linecap="butt"/>
<line x1="410.82" y1="457" x2="410.82" y2="453.4" stroke="#000" stroke-width="2" stroke-linecap="butt"/>
<line x1="428.49" y1="457" x2="428.49" y2="453.4" stroke="#000" stroke-width="2" stroke-linecap="butt"/>
<line x1="442.93" y1="457" x2="442.93" y2="453.4" stroke="#000" stroke-width="2" stroke-linecap="butt"/>
<line x1="455.15" y1="457" x2="455.15" y2="453.4" stroke="#000" stroke-width="2" stroke-linecap="butt"/>
<line x1="465.72" y1="457" x2="465.72" y2="453.4" stroke="#000" stroke-width="2" stroke-linecap="butt"/>
<line x1="475.05" y1="457" x2="475.05" y2="453.4" stroke="#000" stroke-width="2" stroke-linecap="butt"/>
<line x1="483.4" y1="457" x2="483.4" y2="450" stroke="#000" stroke-width="2" stroke-linecap="butt"/>
<line x1="538.31" y1="457" x2="538.31" y2="453.4" stroke="#000" stroke-width="2" stroke-linecap="butt"/>
<line x1="118.6" y1="432.6" x2="122.2" y2="432.6" stroke="#000" stroke-width="2" stroke-linecap="butt"/>
<line x1="118.6" y1="412.2" x2="122.2" y2="412.2" stroke="#000" stroke-width="2" stroke-linecap="butt"/>
<line x1="118.6" y1="394.53" x2="122.2" y2="394.53" stroke="#000" stroke-width="2" stroke-linecap="butt"/>
<line x1="118.6" y1="378.94" x2="122.2" y2="378.94" stroke="#000" stroke-width="2" stroke-linecap="butt"/>
<line x1="118.6" y1="365" x2="125.6" y2="365" stroke="#000" stroke-width="2" stroke-linecap="butt"/>
<line x1="118.6" y1="273.28" x2="122.2" y2="273.28" stroke="#000" stroke-width="2" stroke-linecap="butt"/>
<line x1="118.6" y1="219.62" x2="122.2" y2="219.62" stroke="#000" stroke-width="2" stroke-linecap="butt"/>
<line x1="118.6" y1="181.55" x2="122.2" y2="181.55" stroke="#000" stroke-width="2" stroke-linecap="butt"/>
<line x1="118.6" y1="152.02" x2="122.2" y2="152.02" stroke="#000" stroke-width="2" stroke-linecap="butt"/>
<line x1="118.6" y1="127.9" x2="122.2" y2="127.9" stroke="#000" stroke-width="2" stroke-linecap="butt"/>
<line x1="118.6" y1="107.5" x2="122.2" y2="107.5" stroke="#000" stroke-width="2" stroke-linecap="butt"/>
<line x1="118.6" y1="89.83" x2="122.2" y2="89.83" stroke="#000" stroke-width="2" stroke-linecap="butt"/>
<line x1="118.6" y1="74.24" x2="122.2" y2="74.24" stroke="#000" stroke-width="2" stroke-linecap="butt"/>
<line x1="118.6" y1="60.3" x2="125.6" y2="60.3" stroke="#000" stroke-width="2" stroke-linecap="butt"/>
<text x="76.25" y="70" style="font-family:'Liberation Sans', Arial, sans-serif;font-size:31px;" fill="#000">10</text>
<text x="89.75" y="374.5" style="font-family:'Liberation Sans', Arial, sans-serif;font-size:31px;" fill="#000">1</text>
<text x="109.54" y="489" style="font-family:'Liberation Sans', Arial, sans-serif;font-size:31px;" fill="#000">1</text>
<text x="283.19" y="489" style="font-family:'Liberation Sans', Arial, sans-serif;font-size:31px;" fill="#000">10</text>
<text x="456.96" y="489" style="font-family:'Liberation Sans', Arial, sans-serif;font-size:31px;" fill="#000">100</text>
<text x="544.55" y="489" style="font-family:'Liberation Sans', Arial, sans-serif;font-size:31px;" fill="#000">300</text>
<text x="230.05" y="523.7" style="font-family:'Liberation Sans', Arial, sans-serif;font-size:31px;" fill="#000" textLength="229.82" lengthAdjust="spacing">Temperature (K)</text>
<text x="0" y="0" transform="translate(59.2 320.2) rotate(-90)" style="font-family:'Liberation Sans', Arial, sans-serif;font-size:31.5px;font-style:italic;" fill="#000">R</text>
<text x="0" y="0" transform="translate(67.9 298.32) rotate(-90)" style="font-family:'Liberation Sans', Arial, sans-serif;font-size:22px;" fill="#000">s</text>
<text x="0" y="0" transform="translate(59.2 281.68) rotate(-90)" style="font-family:'Liberation Sans', Arial, sans-serif;font-size:31px;" fill="#000" textLength="62.56" lengthAdjust="spacing">(kΩ/</text>
<text x="0" y="0" transform="translate(58.4 217.62) rotate(-90)" style="font-family:'Liberation Sans', Arial, sans-serif;font-size:35px;" fill="#000">□</text>
<text x="0" y="0" transform="translate(59.2 191.68) rotate(-90)" style="font-family:'Liberation Sans', Arial, sans-serif;font-size:31px;" fill="#000">)</text>
<line x1="433.4" y1="395.9" x2="468" y2="395.9" stroke="#ff0000" stroke-width="3.6" stroke-linecap="round"/>
<line x1="433.4" y1="434.3" x2="468" y2="434.3" stroke="#0000ff" stroke-width="3.6" stroke-linecap="round"/>
<text x="474.62" y="400.6" style="font-family:'Liberation Sans', Arial, sans-serif;font-size:33px;" fill="#000" textLength="75.6" lengthAdjust="spacing">[110]</text>
<line x1="505.1" y1="372.8" x2="519.8" y2="372.8" stroke="#000" stroke-width="1.7" stroke-linecap="butt"/>
<text x="474.62" y="443" style="font-family:'Liberation Sans', Arial, sans-serif;font-size:33px;" fill="#000" textLength="75.52" lengthAdjust="spacing">[111]</text>
<line x1="524.6" y1="414.4" x2="538.8" y2="414.4" stroke="#000" stroke-width="1.7" stroke-linecap="butt"/>
<rect x="169.4" y="72.8" width="215.1" height="194.2" fill="#fff" stroke="none"/>
<polyline points="185.5,243.7 229.5,243.1 255.1,241.9 289.5,227.8 315.3,196.1 330.6,170.1 341.1,154.3 356.9,144.2 381.6,130.3" fill="none" stroke="#506bff" stroke-width="2.3" stroke-linejoin="round"/>
<circle cx="185.5" cy="243.7" r="4.4" fill="#506bff"/>
<circle cx="229.5" cy="243.1" r="4.4" fill="#506bff"/>
<circle cx="255.1" cy="241.9" r="4.4" fill="#506bff"/>
<circle cx="289.5" cy="227.8" r="4.4" fill="#506bff"/>
<circle cx="315.3" cy="196.1" r="4.4" fill="#506bff"/>
<circle cx="330.6" cy="170.1" r="4.4" fill="#506bff"/>
<circle cx="341.1" cy="154.3" r="4.4" fill="#506bff"/>
<circle cx="356.9" cy="144.2" r="4.4" fill="#506bff"/>
<circle cx="381.6" cy="130.3" r="4.4" fill="#506bff"/>
<polyline points="185.5,83.1 229.5,83.1 255.1,82.5 289.5,94.1 315.3,121.1 330.6,142.4 341.1,155.5 356.9,175 381.6,212.1" fill="none" stroke="#fb5766" stroke-width="2.3" stroke-linejoin="round"/>
<circle cx="185.5" cy="83.1" r="4.4" fill="#fb5766"/>
<circle cx="229.5" cy="83.1" r="4.4" fill="#fb5766"/>
<circle cx="255.1" cy="82.5" r="4.4" fill="#fb5766"/>
<circle cx="289.5" cy="94.1" r="4.4" fill="#fb5766"/>
<circle cx="315.3" cy="121.1" r="4.4" fill="#fb5766"/>
<circle cx="330.6" cy="142.4" r="4.4" fill="#fb5766"/>
<circle cx="341.1" cy="155.5" r="4.4" fill="#fb5766"/>
<circle cx="356.9" cy="175" r="4.4" fill="#fb5766"/>
<circle cx="381.6" cy="212.1" r="4.4" fill="#fb5766"/>
<path d="M204.5,237.5 Q200,218 180,214.3" fill="none" stroke="#506bff" stroke-width="1.3"/>
<path d="M175.5,213.6 L183,210.6 L182,217.2 Z" fill="#506bff"/>
<path d="M353.5,164 Q360,148 375,146" fill="none" stroke="#fb5766" stroke-width="1.3"/>
<path d="M380.5,145.4 L373.2,142.4 L373.8,149.2 Z" fill="#fb5766"/>
<rect x="169.4" y="72.8" width="215.1" height="194.2" fill="none" stroke="#3a3a3a" stroke-width="2"/>
<line x1="195.56" y1="267" x2="195.56" y2="265" stroke="#3a3a3a" stroke-width="1.5" stroke-linecap="butt"/>
<line x1="210.86" y1="267" x2="210.86" y2="265" stroke="#3a3a3a" stroke-width="1.5" stroke-linecap="butt"/>
<line x1="221.72" y1="267" x2="221.72" y2="265" stroke="#3a3a3a" stroke-width="1.5" stroke-linecap="butt"/>
<line x1="230.14" y1="267" x2="230.14" y2="265" stroke="#3a3a3a" stroke-width="1.5" stroke-linecap="butt"/>
<line x1="237.02" y1="267" x2="237.02" y2="265" stroke="#3a3a3a" stroke-width="1.5" stroke-linecap="butt"/>
<line x1="242.84" y1="267" x2="242.84" y2="265" stroke="#3a3a3a" stroke-width="1.5" stroke-linecap="butt"/>
<line x1="247.88" y1="267" x2="247.88" y2="265" stroke="#3a3a3a" stroke-width="1.5" stroke-linecap="butt"/>
<line x1="252.32" y1="267" x2="252.32" y2="265" stroke="#3a3a3a" stroke-width="1.5" stroke-linecap="butt"/>
<line x1="256.3" y1="267" x2="256.3" y2="263.5" stroke="#3a3a3a" stroke-width="1.5" stroke-linecap="butt"/>
<line x1="282.46" y1="267" x2="282.46" y2="265" stroke="#3a3a3a" stroke-width="1.5" stroke-linecap="butt"/>
<line x1="297.76" y1="267" x2="297.76" y2="265" stroke="#3a3a3a" stroke-width="1.5" stroke-linecap="butt"/>
<line x1="308.62" y1="267" x2="308.62" y2="265" stroke="#3a3a3a" stroke-width="1.5" stroke-linecap="butt"/>
<line x1="317.04" y1="267" x2="317.04" y2="265" stroke="#3a3a3a" stroke-width="1.5" stroke-linecap="butt"/>
<line x1="323.92" y1="267" x2="323.92" y2="265" stroke="#3a3a3a" stroke-width="1.5" stroke-linecap="butt"/>
<line x1="329.74" y1="267" x2="329.74" y2="265" stroke="#3a3a3a" stroke-width="1.5" stroke-linecap="butt"/>
<line x1="334.78" y1="267" x2="334.78" y2="265" stroke="#3a3a3a" stroke-width="1.5" stroke-linecap="butt"/>
<line x1="339.22" y1="267" x2="339.22" y2="265" stroke="#3a3a3a" stroke-width="1.5" stroke-linecap="butt"/>
<line x1="343.2" y1="267" x2="343.2" y2="263.5" stroke="#3a3a3a" stroke-width="1.5" stroke-linecap="butt"/>
<line x1="369.36" y1="267" x2="369.36" y2="265" stroke="#3a3a3a" stroke-width="1.5" stroke-linecap="butt"/>
<line x1="169.4" y1="232.62" x2="171.4" y2="232.62" stroke="#3a3a3a" stroke-width="1.5" stroke-linecap="butt"/>
<line x1="169.4" y1="212.51" x2="171.4" y2="212.51" stroke="#3a3a3a" stroke-width="1.5" stroke-linecap="butt"/>
<line x1="169.4" y1="198.24" x2="171.4" y2="198.24" stroke="#3a3a3a" stroke-width="1.5" stroke-linecap="butt"/>
<line x1="169.4" y1="187.18" x2="171.4" y2="187.18" stroke="#3a3a3a" stroke-width="1.5" stroke-linecap="butt"/>
<line x1="169.4" y1="178.14" x2="171.4" y2="178.14" stroke="#3a3a3a" stroke-width="1.5" stroke-linecap="butt"/>
<line x1="169.4" y1="170.49" x2="171.4" y2="170.49" stroke="#3a3a3a" stroke-width="1.5" stroke-linecap="butt"/>
<line x1="169.4" y1="163.87" x2="171.4" y2="163.87" stroke="#3a3a3a" stroke-width="1.5" stroke-linecap="butt"/>
<line x1="169.4" y1="158.03" x2="171.4" y2="158.03" stroke="#3a3a3a" stroke-width="1.5" stroke-linecap="butt"/>
<line x1="169.4" y1="152.8" x2="172.9" y2="152.8" stroke="#3a3a3a" stroke-width="1.5" stroke-linecap="butt"/>
<line x1="169.4" y1="118.42" x2="171.4" y2="118.42" stroke="#3a3a3a" stroke-width="1.5" stroke-linecap="butt"/>
<line x1="169.4" y1="98.31" x2="171.4" y2="98.31" stroke="#3a3a3a" stroke-width="1.5" stroke-linecap="butt"/>
<line x1="169.4" y1="84.04" x2="171.4" y2="84.04" stroke="#3a3a3a" stroke-width="1.5" stroke-linecap="butt"/>
<line x1="384.5" y1="246.95" x2="382.5" y2="246.95" stroke="#3a3a3a" stroke-width="1.5" stroke-linecap="butt"/>
<line x1="384.5" y1="235.22" x2="382.5" y2="235.22" stroke="#3a3a3a" stroke-width="1.5" stroke-linecap="butt"/>
<line x1="384.5" y1="226.9" x2="382.5" y2="226.9" stroke="#3a3a3a" stroke-width="1.5" stroke-linecap="butt"/>
<line x1="384.5" y1="220.45" x2="382.5" y2="220.45" stroke="#3a3a3a" stroke-width="1.5" stroke-linecap="butt"/>
<line x1="384.5" y1="215.18" x2="382.5" y2="215.18" stroke="#3a3a3a" stroke-width="1.5" stroke-linecap="butt"/>
<line x1="384.5" y1="210.72" x2="382.5" y2="210.72" stroke="#3a3a3a" stroke-width="1.5" stroke-linecap="butt"/>
<line x1="384.5" y1="206.85" x2="382.5" y2="206.85" stroke="#3a3a3a" stroke-width="1.5" stroke-linecap="butt"/>
<line x1="384.5" y1="203.45" x2="382.5" y2="203.45" stroke="#3a3a3a" stroke-width="1.5" stroke-linecap="butt"/>
<line x1="384.5" y1="200.4" x2="381" y2="200.4" stroke="#3a3a3a" stroke-width="1.5" stroke-linecap="butt"/>
<line x1="384.5" y1="180.35" x2="382.5" y2="180.35" stroke="#3a3a3a" stroke-width="1.5" stroke-linecap="butt"/>
<line x1="384.5" y1="168.62" x2="382.5" y2="168.62" stroke="#3a3a3a" stroke-width="1.5" stroke-linecap="butt"/>
<line x1="384.5" y1="160.3" x2="382.5" y2="160.3" stroke="#3a3a3a" stroke-width="1.5" stroke-linecap="butt"/>
<line x1="384.5" y1="153.85" x2="382.5" y2="153.85" stroke="#3a3a3a" stroke-width="1.5" stroke-linecap="butt"/>
<line x1="384.5" y1="148.58" x2="382.5" y2="148.58" stroke="#3a3a3a" stroke-width="1.5" stroke-linecap="butt"/>
<line x1="384.5" y1="144.12" x2="382.5" y2="144.12" stroke="#3a3a3a" stroke-width="1.5" stroke-linecap="butt"/>
<line x1="384.5" y1="140.25" x2="382.5" y2="140.25" stroke="#3a3a3a" stroke-width="1.5" stroke-linecap="butt"/>
<line x1="384.5" y1="136.85" x2="382.5" y2="136.85" stroke="#3a3a3a" stroke-width="1.5" stroke-linecap="butt"/>
<line x1="384.5" y1="133.8" x2="381" y2="133.8" stroke="#3a3a3a" stroke-width="1.5" stroke-linecap="butt"/>
<line x1="384.5" y1="113.75" x2="382.5" y2="113.75" stroke="#3a3a3a" stroke-width="1.5" stroke-linecap="butt"/>
<line x1="384.5" y1="102.02" x2="382.5" y2="102.02" stroke="#3a3a3a" stroke-width="1.5" stroke-linecap="butt"/>
<line x1="384.5" y1="93.7" x2="382.5" y2="93.7" stroke="#3a3a3a" stroke-width="1.5" stroke-linecap="butt"/>
<line x1="384.5" y1="87.25" x2="382.5" y2="87.25" stroke="#3a3a3a" stroke-width="1.5" stroke-linecap="butt"/>
<line x1="384.5" y1="81.98" x2="382.5" y2="81.98" stroke="#3a3a3a" stroke-width="1.5" stroke-linecap="butt"/>
<line x1="384.5" y1="77.52" x2="382.5" y2="77.52" stroke="#3a3a3a" stroke-width="1.5" stroke-linecap="butt"/>
<text x="163.71" y="286.7" style="font-family:'Liberation Sans', Arial, sans-serif;font-size:19.5px;" fill="#000">1</text>
<text x="245.25" y="286.7" style="font-family:'Liberation Sans', Arial, sans-serif;font-size:19.5px;" fill="#000" textLength="21.29" lengthAdjust="spacing">10</text>
<text x="327.7" y="286.7" style="font-family:'Liberation Sans', Arial, sans-serif;font-size:19.5px;" fill="#000" textLength="30.16" lengthAdjust="spacing">100</text>
<text x="368.61" y="286.7" style="font-family:'Liberation Sans', Arial, sans-serif;font-size:19.5px;" fill="#000" textLength="32.01" lengthAdjust="spacing">300</text>
<text x="207.53" y="310.3" style="font-family:'Liberation Sans', Arial, sans-serif;font-size:18.7px;" fill="#000" textLength="140.25" lengthAdjust="spacing">Temperature (K)</text>
<text x="148.93" y="158.1" style="font-family:'Liberation Sans', Arial, sans-serif;font-size:14.4px;" fill="#000">10</text>
<text x="155.45" y="272.1" style="font-family:'Liberation Sans', Arial, sans-serif;font-size:14.4px;" fill="#000">1</text>
<text x="387.35" y="138.3" style="font-family:'Liberation Sans', Arial, sans-serif;font-size:16.5px;" fill="#000" textLength="30.9" lengthAdjust="spacing">100</text>
<text x="387.35" y="204.2" style="font-family:'Liberation Sans', Arial, sans-serif;font-size:16.5px;" fill="#000" textLength="20.58" lengthAdjust="spacing">10</text>
<text x="386.55" y="268.5" style="font-family:'Liberation Sans', Arial, sans-serif;font-size:16.5px;" fill="#000">1</text>
<text x="0" y="0" transform="translate(142.4 226.75) rotate(-90)" style="font-family:'Liberation Sans', Arial, sans-serif;font-size:17.5px;font-style:italic;" fill="#000">n</text>
<text x="0" y="0" transform="translate(145.8 215.97) rotate(-90)" style="font-family:'Liberation Sans', Arial, sans-serif;font-size:11.5px;" fill="#000">s</text>
<text x="0" y="0" transform="translate(142.4 206.43) rotate(-90)" style="font-family:'Liberation Sans', Arial, sans-serif;font-size:17.5px;" fill="#000" textLength="29.72" lengthAdjust="spacing">(10</text>
<text x="0" y="0" transform="translate(134.9 175.88) rotate(-90)" style="font-family:'Liberation Sans', Arial, sans-serif;font-size:11.5px;" fill="#000">13</text>
<text x="0" y="0" transform="translate(142.4 161.25) rotate(-90)" style="font-family:'Liberation Sans', Arial, sans-serif;font-size:17.5px;" fill="#000">cm</text>
<text x="0" y="0" transform="translate(134 135.6) rotate(-90)" style="font-family:'Liberation Sans', Arial, sans-serif;font-size:11.5px;" fill="#000">-2</text>
<text x="0" y="0" transform="translate(142.4 120.12) rotate(-90)" style="font-family:'Liberation Sans', Arial, sans-serif;font-size:17.5px;" fill="#000">)</text>
<text x="0" y="0" transform="translate(432 230.22) rotate(-90)" style="font-family:'Liberation Sans', Arial, sans-serif;font-size:16.5px;font-style:italic;" fill="#000">μ</text>
<text x="0" y="0" transform="translate(437.3 221.68) rotate(-90)" style="font-family:'Liberation Sans', Arial, sans-serif;font-size:11.5px;" fill="#000">s</text>
<text x="0" y="0" transform="translate(432 209.9) rotate(-90)" style="font-family:'Liberation Sans', Arial, sans-serif;font-size:16.5px;" fill="#000">(cm</text>
<text x="0" y="0" transform="translate(425 178.3) rotate(-90)" style="font-family:'Liberation Sans', Arial, sans-serif;font-size:11px;" fill="#000">2</text>
<text x="0" y="0" transform="translate(432 167.03) rotate(-90)" style="font-family:'Liberation Sans', Arial, sans-serif;font-size:16.5px;" fill="#000">V</text>
<text x="0" y="0" transform="translate(425 154.2) rotate(-90)" style="font-family:'Liberation Sans', Arial, sans-serif;font-size:11px;" fill="#000">-1</text>
<text x="0" y="0" transform="translate(432 139.4) rotate(-90)" style="font-family:'Liberation Sans', Arial, sans-serif;font-size:16.5px;" fill="#000">s</text>
<text x="0" y="0" transform="translate(425 130) rotate(-90)" style="font-family:'Liberation Sans', Arial, sans-serif;font-size:11px;" fill="#000">-1</text>
<text x="0" y="0" transform="translate(432 118.83) rotate(-90)" style="font-family:'Liberation Sans', Arial, sans-serif;font-size:16.5px;" fill="#000">)</text>
<clipPath id="clipb"><rect x="792.6" y="46.4" width="452.7" height="408.2"/></clipPath>
<g clip-path="url(#clipb)">
<circle cx="792.6" cy="262" r="6" fill="rgba(255,0,0,0.8)"/>
<circle cx="800.14" cy="243.6" r="6" fill="rgba(255,0,0,0.8)"/>
<circle cx="807.69" cy="228" r="6" fill="rgba(255,0,0,0.8)"/>
<circle cx="815.24" cy="217.6" r="6" fill="rgba(255,0,0,0.8)"/>
<circle cx="822.78" cy="218.8" r="6" fill="rgba(255,0,0,0.8)"/>
<circle cx="830.33" cy="219.9" r="6" fill="rgba(255,0,0,0.8)"/>
<circle cx="837.87" cy="228.5" r="6" fill="rgba(255,0,0,0.8)"/>
<circle cx="845.41" cy="240.4" r="6" fill="rgba(255,0,0,0.8)"/>
<circle cx="852.96" cy="253.4" r="6" fill="rgba(255,0,0,0.8)"/>
<circle cx="860.5" cy="250.8" r="6" fill="rgba(255,0,0,0.8)"/>
<circle cx="868.05" cy="251.7" r="6" fill="rgba(255,0,0,0.8)"/>
<circle cx="875.6" cy="247" r="6" fill="rgba(255,0,0,0.8)"/>
<circle cx="883.14" cy="236.6" r="6" fill="rgba(255,0,0,0.8)"/>
<circle cx="890.69" cy="222" r="6" fill="rgba(255,0,0,0.8)"/>
<circle cx="898.23" cy="205.5" r="6" fill="rgba(255,0,0,0.8)"/>
<circle cx="905.77" cy="189.5" r="6" fill="rgba(255,0,0,0.8)"/>
<circle cx="913.32" cy="177.9" r="6" fill="rgba(255,0,0,0.8)"/>
<circle cx="920.87" cy="181.9" r="6" fill="rgba(255,0,0,0.8)"/>
<circle cx="928.41" cy="188.6" r="6" fill="rgba(255,0,0,0.8)"/>
<circle cx="935.96" cy="201.6" r="6" fill="rgba(255,0,0,0.8)"/>
<circle cx="943.5" cy="227.5" r="6" fill="rgba(255,0,0,0.8)"/>
<circle cx="951.05" cy="262.6" r="6" fill="rgba(255,0,0,0.8)"/>
<circle cx="958.59" cy="301.1" r="6" fill="rgba(255,0,0,0.8)"/>
<circle cx="966.13" cy="335.8" r="6" fill="rgba(255,0,0,0.8)"/>
<circle cx="973.68" cy="358.2" r="6" fill="rgba(255,0,0,0.8)"/>
<circle cx="981.23" cy="373.8" r="6" fill="rgba(255,0,0,0.8)"/>
<circle cx="988.77" cy="374.8" r="6" fill="rgba(255,0,0,0.8)"/>
<circle cx="996.32" cy="363" r="6" fill="rgba(255,0,0,0.8)"/>
<circle cx="1003.86" cy="340.6" r="6" fill="rgba(255,0,0,0.8)"/>
<circle cx="1011.4" cy="312.9" r="6" fill="rgba(255,0,0,0.8)"/>
<circle cx="1018.95" cy="284.3" r="6" fill="rgba(255,0,0,0.8)"/>
<circle cx="1026.49" cy="260" r="6" fill="rgba(255,0,0,0.8)"/>
<circle cx="1034.04" cy="238.4" r="6" fill="rgba(255,0,0,0.8)"/>
<circle cx="1041.59" cy="226.8" r="6" fill="rgba(255,0,0,0.8)"/>
<circle cx="1049.13" cy="225.8" r="6" fill="rgba(255,0,0,0.8)"/>
<circle cx="1056.67" cy="222.8" r="6" fill="rgba(255,0,0,0.8)"/>
<circle cx="1064.22" cy="230.6" r="6" fill="rgba(255,0,0,0.8)"/>
<circle cx="1071.76" cy="241" r="6" fill="rgba(255,0,0,0.8)"/>
<circle cx="1079.31" cy="249.3" r="6" fill="rgba(255,0,0,0.8)"/>
<circle cx="1086.86" cy="255.6" r="6" fill="rgba(255,0,0,0.8)"/>
<circle cx="1094.4" cy="252.7" r="6" fill="rgba(255,0,0,0.8)"/>
<circle cx="1101.94" cy="239.2" r="6" fill="rgba(255,0,0,0.8)"/>
<circle cx="1109.49" cy="229.7" r="6" fill="rgba(255,0,0,0.8)"/>
<circle cx="1117.03" cy="209.9" r="6" fill="rgba(255,0,0,0.8)"/>
<circle cx="1124.58" cy="186.5" r="6" fill="rgba(255,0,0,0.8)"/>
<circle cx="1132.12" cy="161.1" r="6" fill="rgba(255,0,0,0.8)"/>
<circle cx="1139.67" cy="154.6" r="6" fill="rgba(255,0,0,0.8)"/>
<circle cx="1147.21" cy="151.6" r="6" fill="rgba(255,0,0,0.8)"/>
<circle cx="1154.76" cy="154.6" r="6" fill="rgba(255,0,0,0.8)"/>
<circle cx="1162.3" cy="171" r="6" fill="rgba(255,0,0,0.8)"/>
<circle cx="1169.85" cy="197.2" r="6" fill="rgba(255,0,0,0.8)"/>
<circle cx="1177.39" cy="229.7" r="6" fill="rgba(255,0,0,0.8)"/>
<circle cx="1184.94" cy="266.2" r="6" fill="rgba(255,0,0,0.8)"/>
<circle cx="1192.48" cy="299" r="6" fill="rgba(255,0,0,0.8)"/>
<circle cx="1200.03" cy="325.9" r="6" fill="rgba(255,0,0,0.8)"/>
<circle cx="1207.58" cy="340.2" r="6" fill="rgba(255,0,0,0.8)"/>
<circle cx="1215.12" cy="350.1" r="6" fill="rgba(255,0,0,0.8)"/>
<circle cx="1222.66" cy="337.5" r="6" fill="rgba(255,0,0,0.8)"/>
<circle cx="1230.21" cy="317.6" r="6" fill="rgba(255,0,0,0.8)"/>
<circle cx="1237.75" cy="294" r="6" fill="rgba(255,0,0,0.8)"/>
<polyline points="792.6,277.3 800.14,256.87 807.69,241.87 815.24,234.05 822.78,233.66 830.33,239.53 837.87,249.24 845.41,259.64 852.96,267.43 860.5,269.77 868.05,264.85 875.6,252.29 883.14,233.23 890.69,210.25 898.23,186.91 905.77,167.19 913.32,154.79 920.87,152.44 928.41,161.4 935.96,181.21 943.5,209.71 951.05,243.35 958.59,277.78 966.13,308.58 973.68,331.89 981.23,345.09 988.77,347.14 996.32,338.71 1003.86,321.97 1011.4,300.23 1018.95,277.3 1026.49,256.87 1034.04,241.87 1041.59,234.05 1049.13,233.66 1056.67,239.53 1064.22,249.24 1071.76,259.64 1079.31,267.43 1086.86,269.77 1094.4,264.85 1101.94,252.29 1109.49,233.23 1117.03,210.25 1124.58,186.91 1132.12,167.19 1139.67,154.79 1147.21,152.44 1154.76,161.4 1162.3,181.21 1169.85,209.71 1177.39,243.35 1184.94,277.78 1192.48,308.58 1200.03,331.89 1207.58,345.09 1215.12,347.14 1222.66,338.71 1230.21,321.97 1237.75,300.23" fill="none" stroke="#0000ff" stroke-width="3.6" stroke-linejoin="round"/>
</g>
<rect x="792.6" y="46.4" width="452.7" height="408.2" fill="none" stroke="#000" stroke-width="2.2"/>
<line x1="803.92" y1="454.6" x2="803.92" y2="451.2" stroke="#000" stroke-width="2" stroke-linecap="butt"/>
<line x1="815.24" y1="454.6" x2="815.24" y2="451.2" stroke="#000" stroke-width="2" stroke-linecap="butt"/>
<line x1="826.55" y1="454.6" x2="826.55" y2="451.2" stroke="#000" stroke-width="2" stroke-linecap="butt"/>
<line x1="837.87" y1="454.6" x2="837.87" y2="451.2" stroke="#000" stroke-width="2" stroke-linecap="butt"/>
<line x1="849.19" y1="454.6" x2="849.19" y2="451.2" stroke="#000" stroke-width="2" stroke-linecap="butt"/>
<line x1="860.5" y1="454.6" x2="860.5" y2="451.2" stroke="#000" stroke-width="2" stroke-linecap="butt"/>
<line x1="871.82" y1="454.6" x2="871.82" y2="451.2" stroke="#000" stroke-width="2" stroke-linecap="butt"/>
<line x1="883.14" y1="454.6" x2="883.14" y2="451.2" stroke="#000" stroke-width="2" stroke-linecap="butt"/>
<line x1="894.46" y1="454.6" x2="894.46" y2="451.2" stroke="#000" stroke-width="2" stroke-linecap="butt"/>
<line x1="905.77" y1="454.6" x2="905.77" y2="448.1" stroke="#000" stroke-width="2" stroke-linecap="butt"/>
<line x1="917.09" y1="454.6" x2="917.09" y2="451.2" stroke="#000" stroke-width="2" stroke-linecap="butt"/>
<line x1="928.41" y1="454.6" x2="928.41" y2="451.2" stroke="#000" stroke-width="2" stroke-linecap="butt"/>
<line x1="939.73" y1="454.6" x2="939.73" y2="451.2" stroke="#000" stroke-width="2" stroke-linecap="butt"/>
<line x1="951.05" y1="454.6" x2="951.05" y2="451.2" stroke="#000" stroke-width="2" stroke-linecap="butt"/>
<line x1="962.36" y1="454.6" x2="962.36" y2="451.2" stroke="#000" stroke-width="2" stroke-linecap="butt"/>
<line x1="973.68" y1="454.6" x2="973.68" y2="451.2" stroke="#000" stroke-width="2" stroke-linecap="butt"/>
<line x1="985" y1="454.6" x2="985" y2="451.2" stroke="#000" stroke-width="2" stroke-linecap="butt"/>
<line x1="996.32" y1="454.6" x2="996.32" y2="451.2" stroke="#000" stroke-width="2" stroke-linecap="butt"/>
<line x1="1007.63" y1="454.6" x2="1007.63" y2="451.2" stroke="#000" stroke-width="2" stroke-linecap="butt"/>
<line x1="1018.95" y1="454.6" x2="1018.95" y2="448.1" stroke="#000" stroke-width="2" stroke-linecap="butt"/>
<line x1="1030.27" y1="454.6" x2="1030.27" y2="451.2" stroke="#000" stroke-width="2" stroke-linecap="butt"/>
<line x1="1041.59" y1="454.6" x2="1041.59" y2="451.2" stroke="#000" stroke-width="2" stroke-linecap="butt"/>
<line x1="1052.9" y1="454.6" x2="1052.9" y2="451.2" stroke="#000" stroke-width="2" stroke-linecap="butt"/>
<line x1="1064.22" y1="454.6" x2="1064.22" y2="451.2" stroke="#000" stroke-width="2" stroke-linecap="butt"/>
<line x1="1075.54" y1="454.6" x2="1075.54" y2="451.2" stroke="#000" stroke-width="2" stroke-linecap="butt"/>
<line x1="1086.86" y1="454.6" x2="1086.86" y2="451.2" stroke="#000" stroke-width="2" stroke-linecap="butt"/>
<line x1="1098.17" y1="454.6" x2="1098.17" y2="451.2" stroke="#000" stroke-width="2" stroke-linecap="butt"/>
<line x1="1109.49" y1="454.6" x2="1109.49" y2="451.2" stroke="#000" stroke-width="2" stroke-linecap="butt"/>
<line x1="1120.81" y1="454.6" x2="1120.81" y2="451.2" stroke="#000" stroke-width="2" stroke-linecap="butt"/>
<line x1="1132.12" y1="454.6" x2="1132.12" y2="448.1" stroke="#000" stroke-width="2" stroke-linecap="butt"/>
<line x1="1143.44" y1="454.6" x2="1143.44" y2="451.2" stroke="#000" stroke-width="2" stroke-linecap="butt"/>
<line x1="1154.76" y1="454.6" x2="1154.76" y2="451.2" stroke="#000" stroke-width="2" stroke-linecap="butt"/>
<line x1="1166.08" y1="454.6" x2="1166.08" y2="451.2" stroke="#000" stroke-width="2" stroke-linecap="butt"/>
<line x1="1177.39" y1="454.6" x2="1177.39" y2="451.2" stroke="#000" stroke-width="2" stroke-linecap="butt"/>
<line x1="1188.71" y1="454.6" x2="1188.71" y2="451.2" stroke="#000" stroke-width="2" stroke-linecap="butt"/>
<line x1="1200.03" y1="454.6" x2="1200.03" y2="451.2" stroke="#000" stroke-width="2" stroke-linecap="butt"/>
<line x1="1211.35" y1="454.6" x2="1211.35" y2="451.2" stroke="#000" stroke-width="2" stroke-linecap="butt"/>
<line x1="1222.66" y1="454.6" x2="1222.66" y2="451.2" stroke="#000" stroke-width="2" stroke-linecap="butt"/>
<line x1="1233.98" y1="454.6" x2="1233.98" y2="451.2" stroke="#000" stroke-width="2" stroke-linecap="butt"/>
<line x1="792.6" y1="447.33" x2="796" y2="447.33" stroke="#000" stroke-width="2" stroke-linecap="butt"/>
<line x1="792.6" y1="440.04" x2="796" y2="440.04" stroke="#000" stroke-width="2" stroke-linecap="butt"/>
<line x1="792.6" y1="432.75" x2="796" y2="432.75" stroke="#000" stroke-width="2" stroke-linecap="butt"/>
<line x1="792.6" y1="425.46" x2="796" y2="425.46" stroke="#000" stroke-width="2" stroke-linecap="butt"/>
<line x1="792.6" y1="418.17" x2="796" y2="418.17" stroke="#000" stroke-width="2" stroke-linecap="butt"/>
<line x1="792.6" y1="410.88" x2="796" y2="410.88" stroke="#000" stroke-width="2" stroke-linecap="butt"/>
<line x1="792.6" y1="403.59" x2="796" y2="403.59" stroke="#000" stroke-width="2" stroke-linecap="butt"/>
<line x1="792.6" y1="396.3" x2="799.1" y2="396.3" stroke="#000" stroke-width="2" stroke-linecap="butt"/>
<line x1="792.6" y1="389.01" x2="796" y2="389.01" stroke="#000" stroke-width="2" stroke-linecap="butt"/>
<line x1="792.6" y1="381.72" x2="796" y2="381.72" stroke="#000" stroke-width="2" stroke-linecap="butt"/>
<line x1="792.6" y1="374.43" x2="796" y2="374.43" stroke="#000" stroke-width="2" stroke-linecap="butt"/>
<line x1="792.6" y1="367.14" x2="796" y2="367.14" stroke="#000" stroke-width="2" stroke-linecap="butt"/>
<line x1="792.6" y1="359.85" x2="796" y2="359.85" stroke="#000" stroke-width="2" stroke-linecap="butt"/>
<line x1="792.6" y1="352.56" x2="796" y2="352.56" stroke="#000" stroke-width="2" stroke-linecap="butt"/>
<line x1="792.6" y1="345.27" x2="796" y2="345.27" stroke="#000" stroke-width="2" stroke-linecap="butt"/>
<line x1="792.6" y1="337.98" x2="796" y2="337.98" stroke="#000" stroke-width="2" stroke-linecap="butt"/>
<line x1="792.6" y1="330.69" x2="796" y2="330.69" stroke="#000" stroke-width="2" stroke-linecap="butt"/>
<line x1="792.6" y1="323.4" x2="799.1" y2="323.4" stroke="#000" stroke-width="2" stroke-linecap="butt"/>
<line x1="792.6" y1="316.11" x2="796" y2="316.11" stroke="#000" stroke-width="2" stroke-linecap="butt"/>
<line x1="792.6" y1="308.82" x2="796" y2="308.82" stroke="#000" stroke-width="2" stroke-linecap="butt"/>
<line x1="792.6" y1="301.53" x2="796" y2="301.53" stroke="#000" stroke-width="2" stroke-linecap="butt"/>
<line x1="792.6" y1="294.24" x2="796" y2="294.24" stroke="#000" stroke-width="2" stroke-linecap="butt"/>
<line x1="792.6" y1="286.95" x2="796" y2="286.95" stroke="#000" stroke-width="2" stroke-linecap="butt"/>
<line x1="792.6" y1="279.66" x2="796" y2="279.66" stroke="#000" stroke-width="2" stroke-linecap="butt"/>
<line x1="792.6" y1="272.37" x2="796" y2="272.37" stroke="#000" stroke-width="2" stroke-linecap="butt"/>
<line x1="792.6" y1="265.08" x2="796" y2="265.08" stroke="#000" stroke-width="2" stroke-linecap="butt"/>
<line x1="792.6" y1="257.79" x2="796" y2="257.79" stroke="#000" stroke-width="2" stroke-linecap="butt"/>
<line x1="792.6" y1="250.5" x2="799.1" y2="250.5" stroke="#000" stroke-width="2" stroke-linecap="butt"/>
<line x1="792.6" y1="243.21" x2="796" y2="243.21" stroke="#000" stroke-width="2" stroke-linecap="butt"/>
<line x1="792.6" y1="235.92" x2="796" y2="235.92" stroke="#000" stroke-width="2" stroke-linecap="butt"/>
<line x1="792.6" y1="228.63" x2="796" y2="228.63" stroke="#000" stroke-width="2" stroke-linecap="butt"/>
<line x1="792.6" y1="221.34" x2="796" y2="221.34" stroke="#000" stroke-width="2" stroke-linecap="butt"/>
<line x1="792.6" y1="214.05" x2="796" y2="214.05" stroke="#000" stroke-width="2" stroke-linecap="butt"/>
<line x1="792.6" y1="206.76" x2="796" y2="206.76" stroke="#000" stroke-width="2" stroke-linecap="butt"/>
<line x1="792.6" y1="199.47" x2="796" y2="199.47" stroke="#000" stroke-width="2" stroke-linecap="butt"/>
<line x1="792.6" y1="192.18" x2="796" y2="192.18" stroke="#000" stroke-width="2" stroke-linecap="butt"/>
<line x1="792.6" y1="184.89" x2="796" y2="184.89" stroke="#000" stroke-width="2" stroke-linecap="butt"/>
<line x1="792.6" y1="177.6" x2="799.1" y2="177.6" stroke="#000" stroke-width="2" stroke-linecap="butt"/>
<line x1="792.6" y1="170.31" x2="796" y2="170.31" stroke="#000" stroke-width="2" stroke-linecap="butt"/>
<line x1="792.6" y1="163.02" x2="796" y2="163.02" stroke="#000" stroke-width="2" stroke-linecap="butt"/>
<line x1="792.6" y1="155.73" x2="796" y2="155.73" stroke="#000" stroke-width="2" stroke-linecap="butt"/>
<line x1="792.6" y1="148.44" x2="796" y2="148.44" stroke="#000" stroke-width="2" stroke-linecap="butt"/>
<line x1="792.6" y1="141.15" x2="796" y2="141.15" stroke="#000" stroke-width="2" stroke-linecap="butt"/>
<line x1="792.6" y1="133.86" x2="796" y2="133.86" stroke="#000" stroke-width="2" stroke-linecap="butt"/>
<line x1="792.6" y1="126.57" x2="796" y2="126.57" stroke="#000" stroke-width="2" stroke-linecap="butt"/>
<line x1="792.6" y1="119.28" x2="796" y2="119.28" stroke="#000" stroke-width="2" stroke-linecap="butt"/>
<line x1="792.6" y1="111.99" x2="796" y2="111.99" stroke="#000" stroke-width="2" stroke-linecap="butt"/>
<line x1="792.6" y1="104.7" x2="799.1" y2="104.7" stroke="#000" stroke-width="2" stroke-linecap="butt"/>
<line x1="792.6" y1="97.41" x2="796" y2="97.41" stroke="#000" stroke-width="2" stroke-linecap="butt"/>
<line x1="792.6" y1="90.12" x2="796" y2="90.12" stroke="#000" stroke-width="2" stroke-linecap="butt"/>
<line x1="792.6" y1="82.83" x2="796" y2="82.83" stroke="#000" stroke-width="2" stroke-linecap="butt"/>
<line x1="792.6" y1="75.54" x2="796" y2="75.54" stroke="#000" stroke-width="2" stroke-linecap="butt"/>
<line x1="792.6" y1="68.25" x2="796" y2="68.25" stroke="#000" stroke-width="2" stroke-linecap="butt"/>
<line x1="792.6" y1="60.96" x2="796" y2="60.96" stroke="#000" stroke-width="2" stroke-linecap="butt"/>
<line x1="792.6" y1="53.67" x2="796" y2="53.67" stroke="#000" stroke-width="2" stroke-linecap="butt"/>
<text x="741.33" y="114.5" style="font-family:'Liberation Sans', Arial, sans-serif;font-size:31px;" fill="#000">1.0</text>
<text x="741.45" y="187.4" style="font-family:'Liberation Sans', Arial, sans-serif;font-size:31px;" fill="#000">0.5</text>
<text x="741.33" y="260.3" style="font-family:'Liberation Sans', Arial, sans-serif;font-size:31px;" fill="#000">0.0</text>
<text x="731.2" y="333.2" style="font-family:'Liberation Sans', Arial, sans-serif;font-size:31px;" fill="#000">-0.5</text>
<text x="731.08" y="406.1" style="font-family:'Liberation Sans', Arial, sans-serif;font-size:31px;" fill="#000">-1.0</text>
<text x="783.98" y="487.4" style="font-family:'Liberation Sans', Arial, sans-serif;font-size:31px;" fill="#000">0</text>
<text x="888.4" y="487.4" style="font-family:'Liberation Sans', Arial, sans-serif;font-size:31px;" fill="#000">90</text>
<text x="992.51" y="487.4" style="font-family:'Liberation Sans', Arial, sans-serif;font-size:31px;" fill="#000">180</text>
<text x="1106.12" y="487.4" style="font-family:'Liberation Sans', Arial, sans-serif;font-size:31px;" fill="#000">270</text>
<text x="1219.42" y="487.4" style="font-family:'Liberation Sans', Arial, sans-serif;font-size:31px;" fill="#000">360</text>
<circle cx="879.6" cy="66.4" r="6.3" fill="rgba(255,0,0,0.8)"/>
<text x="922.2" y="77" style="font-family:'Liberation Sans', Arial, sans-serif;font-size:31px;" fill="#000" textLength="64.11" lengthAdjust="spacing">Exp.</text>
<line x1="994.2" y1="66.4" x2="1063.7" y2="66.4" stroke="#0000ff" stroke-width="3.8" stroke-linecap="round"/>
<text x="1072.15" y="77" style="font-family:'Liberation Sans', Arial, sans-serif;font-size:31px;" fill="#000" textLength="102.56" lengthAdjust="spacing">Total fit</text>
<text x="0" y="0" transform="translate(686.6 336.48) rotate(-90)" style="font-family:'Liberation Serif', 'Times New Roman', serif;font-size:38px;font-style:italic;" fill="#000">I</text>
<text x="0" y="0" transform="translate(694 322.85) rotate(-90)" style="font-family:'Liberation Serif', 'Times New Roman', serif;font-size:30px;" fill="#000" textLength="65.69" lengthAdjust="spacing">[110]</text>
<line x1="673" y1="283.3" x2="673" y2="298.4" stroke="#000" stroke-width="1.6" stroke-linecap="butt"/>
<text x="0" y="0" transform="translate(686.3 245.43) rotate(-90)" style="font-family:'Liberation Serif', 'Times New Roman', serif;font-size:38px;" fill="#000" textLength="72.35" lengthAdjust="spacing">(nA)</text>
<text x="965" y="530.2" style="font-family:'Liberation Sans', Arial, sans-serif;font-size:31px;font-style:italic;" fill="#000">θ</text>
<text x="982.88" y="517.6" style="font-family:'Liberation Sans', Arial, sans-serif;font-size:22px;font-style:italic;" fill="#000" textLength="50.5" lengthAdjust="spacing">QWP</text>
<text x="1040.03" y="530" style="font-family:'Liberation Serif', 'Times New Roman', serif;font-size:31px;" fill="#000" textLength="32.77" lengthAdjust="spacing">(°)</text>
<clipPath id="clipc"><rect x="1487.2" y="47.6" width="452.3" height="407.3"/></clipPath>
<g clip-path="url(#clipc)">
<circle cx="1487.2" cy="264.1" r="6" fill="rgba(255,0,0,0.8)"/>
<circle cx="1494.74" cy="293.5" r="6" fill="rgba(255,0,0,0.8)"/>
<circle cx="1502.28" cy="300.1" r="6" fill="rgba(255,0,0,0.8)"/>
<circle cx="1509.82" cy="314.3" r="6" fill="rgba(255,0,0,0.8)"/>
<circle cx="1517.35" cy="308.2" r="6" fill="rgba(255,0,0,0.8)"/>
<circle cx="1524.89" cy="296.6" r="6" fill="rgba(255,0,0,0.8)"/>
<circle cx="1532.43" cy="278.5" r="6" fill="rgba(255,0,0,0.8)"/>
<circle cx="1539.97" cy="267.6" r="6" fill="rgba(255,0,0,0.8)"/>
<circle cx="1547.51" cy="249.4" r="6" fill="rgba(255,0,0,0.8)"/>
<circle cx="1555.05" cy="225.7" r="6" fill="rgba(255,0,0,0.8)"/>
<circle cx="1562.58" cy="228.2" r="6" fill="rgba(255,0,0,0.8)"/>
<circle cx="1570.12" cy="221.8" r="6" fill="rgba(255,0,0,0.8)"/>
<circle cx="1577.66" cy="244.2" r="6" fill="rgba(255,0,0,0.8)"/>
<circle cx="1585.2" cy="277.1" r="6" fill="rgba(255,0,0,0.8)"/>
<circle cx="1592.74" cy="299.1" r="6" fill="rgba(255,0,0,0.8)"/>
<circle cx="1600.28" cy="320.3" r="6" fill="rgba(255,0,0,0.8)"/>
<circle cx="1630.43" cy="319.8" r="6" fill="rgba(255,0,0,0.8)"/>
<circle cx="1637.97" cy="297.8" r="6" fill="rgba(255,0,0,0.8)"/>
<circle cx="1645.51" cy="258.4" r="6" fill="rgba(255,0,0,0.8)"/>
<circle cx="1653.04" cy="225.2" r="6" fill="rgba(255,0,0,0.8)"/>
<circle cx="1660.58" cy="203.6" r="6" fill="rgba(255,0,0,0.8)"/>
<circle cx="1668.12" cy="181.5" r="6" fill="rgba(255,0,0,0.8)"/>
<circle cx="1675.66" cy="167.3" r="6" fill="rgba(255,0,0,0.8)"/>
<circle cx="1683.2" cy="175.6" r="6" fill="rgba(255,0,0,0.8)"/>
<circle cx="1690.74" cy="191.8" r="6" fill="rgba(255,0,0,0.8)"/>
<circle cx="1698.27" cy="208.8" r="6" fill="rgba(255,0,0,0.8)"/>
<circle cx="1705.81" cy="225.6" r="6" fill="rgba(255,0,0,0.8)"/>
<circle cx="1713.35" cy="268.5" r="6" fill="rgba(255,0,0,0.8)"/>
<circle cx="1720.89" cy="280" r="6" fill="rgba(255,0,0,0.8)"/>
<circle cx="1728.43" cy="296.1" r="6" fill="rgba(255,0,0,0.8)"/>
<circle cx="1735.97" cy="305.6" r="6" fill="rgba(255,0,0,0.8)"/>
<circle cx="1743.5" cy="293.9" r="6" fill="rgba(255,0,0,0.8)"/>
<circle cx="1751.04" cy="278" r="6" fill="rgba(255,0,0,0.8)"/>
<circle cx="1758.58" cy="244.8" r="6" fill="rgba(255,0,0,0.8)"/>
<circle cx="1766.12" cy="220" r="6" fill="rgba(255,0,0,0.8)"/>
<circle cx="1773.66" cy="186.3" r="6" fill="rgba(255,0,0,0.8)"/>
<circle cx="1781.19" cy="183.7" r="6" fill="rgba(255,0,0,0.8)"/>
<circle cx="1796.27" cy="180.3" r="6" fill="rgba(255,0,0,0.8)"/>
<circle cx="1803.81" cy="189.4" r="6" fill="rgba(255,0,0,0.8)"/>
<circle cx="1811.35" cy="212.6" r="6" fill="rgba(255,0,0,0.8)"/>
<circle cx="1818.89" cy="235.6" r="6" fill="rgba(255,0,0,0.8)"/>
<circle cx="1826.42" cy="262" r="6" fill="rgba(255,0,0,0.8)"/>
<circle cx="1833.96" cy="289.2" r="6" fill="rgba(255,0,0,0.8)"/>
<circle cx="1841.5" cy="297.8" r="6" fill="rgba(255,0,0,0.8)"/>
<circle cx="1849.04" cy="305.3" r="6" fill="rgba(255,0,0,0.8)"/>
<circle cx="1856.58" cy="295.3" r="6" fill="rgba(255,0,0,0.8)"/>
<circle cx="1864.12" cy="278.8" r="6" fill="rgba(255,0,0,0.8)"/>
<circle cx="1871.65" cy="244.8" r="6" fill="rgba(255,0,0,0.8)"/>
<circle cx="1879.19" cy="233.9" r="6" fill="rgba(255,0,0,0.8)"/>
<circle cx="1886.73" cy="215.4" r="6" fill="rgba(255,0,0,0.8)"/>
<circle cx="1894.27" cy="190.6" r="6" fill="rgba(255,0,0,0.8)"/>
<circle cx="1901.81" cy="200.1" r="6" fill="rgba(255,0,0,0.8)"/>
<circle cx="1909.35" cy="205.3" r="6" fill="rgba(255,0,0,0.8)"/>
<circle cx="1916.88" cy="222.6" r="6" fill="rgba(255,0,0,0.8)"/>
<circle cx="1924.42" cy="245.6" r="6" fill="rgba(255,0,0,0.8)"/>
<circle cx="1931.96" cy="258.6" r="6" fill="rgba(255,0,0,0.8)"/>
<polyline points="1487.2,267.22 1494.74,286.78 1502.28,298.86 1509.82,301.54 1517.35,294.68 1524.89,279.83 1532.43,259.86 1539.97,238.47 1547.51,219.43 1555.05,206.06 1562.58,200.64 1570.12,204.11 1577.66,215.99 1585.2,234.41 1592.74,256.45 1600.28,278.52 1607.81,296.94 1615.35,308.51 1622.89,311.03 1630.43,303.75 1637.97,287.57 1645.51,264.98 1653.04,239.64 1660.58,215.86 1668.12,197.72 1675.66,188.41 1683.2,189.5 1690.74,200.72 1698.27,219.91 1705.81,243.52 1713.35,267.22 1720.89,286.78 1728.43,298.86 1735.97,301.54 1743.5,294.68 1751.04,279.83 1758.58,259.86 1766.12,238.47 1773.66,219.43 1781.19,206.06 1788.73,200.64 1796.27,204.11 1803.81,215.99 1811.35,234.41 1818.89,256.45 1826.42,278.52 1833.96,296.94 1841.5,308.51 1849.04,311.03 1856.58,303.75 1864.12,287.57 1871.65,264.98 1879.19,239.64 1886.73,215.86 1894.27,197.72 1901.81,188.41 1909.35,189.5 1916.88,200.72 1924.42,219.91 1931.96,243.52" fill="none" stroke="#0000ff" stroke-width="3.6" stroke-linejoin="round"/>
</g>
<rect x="1487.2" y="47.6" width="452.3" height="407.3" fill="none" stroke="#000" stroke-width="2.2"/>
<line x1="1498.51" y1="454.9" x2="1498.51" y2="451.5" stroke="#000" stroke-width="2" stroke-linecap="butt"/>
<line x1="1509.82" y1="454.9" x2="1509.82" y2="451.5" stroke="#000" stroke-width="2" stroke-linecap="butt"/>
<line x1="1521.12" y1="454.9" x2="1521.12" y2="451.5" stroke="#000" stroke-width="2" stroke-linecap="butt"/>
<line x1="1532.43" y1="454.9" x2="1532.43" y2="451.5" stroke="#000" stroke-width="2" stroke-linecap="butt"/>
<line x1="1543.74" y1="454.9" x2="1543.74" y2="451.5" stroke="#000" stroke-width="2" stroke-linecap="butt"/>
<line x1="1555.05" y1="454.9" x2="1555.05" y2="451.5" stroke="#000" stroke-width="2" stroke-linecap="butt"/>
<line x1="1566.35" y1="454.9" x2="1566.35" y2="451.5" stroke="#000" stroke-width="2" stroke-linecap="butt"/>
<line x1="1577.66" y1="454.9" x2="1577.66" y2="451.5" stroke="#000" stroke-width="2" stroke-linecap="butt"/>
<line x1="1588.97" y1="454.9" x2="1588.97" y2="451.5" stroke="#000" stroke-width="2" stroke-linecap="butt"/>
<line x1="1600.28" y1="454.9" x2="1600.28" y2="448.4" stroke="#000" stroke-width="2" stroke-linecap="butt"/>
<line x1="1611.58" y1="454.9" x2="1611.58" y2="451.5" stroke="#000" stroke-width="2" stroke-linecap="butt"/>
<line x1="1622.89" y1="454.9" x2="1622.89" y2="451.5" stroke="#000" stroke-width="2" stroke-linecap="butt"/>
<line x1="1634.2" y1="454.9" x2="1634.2" y2="451.5" stroke="#000" stroke-width="2" stroke-linecap="butt"/>
<line x1="1645.51" y1="454.9" x2="1645.51" y2="451.5" stroke="#000" stroke-width="2" stroke-linecap="butt"/>
<line x1="1656.81" y1="454.9" x2="1656.81" y2="451.5" stroke="#000" stroke-width="2" stroke-linecap="butt"/>
<line x1="1668.12" y1="454.9" x2="1668.12" y2="451.5" stroke="#000" stroke-width="2" stroke-linecap="butt"/>
<line x1="1679.43" y1="454.9" x2="1679.43" y2="451.5" stroke="#000" stroke-width="2" stroke-linecap="butt"/>
<line x1="1690.74" y1="454.9" x2="1690.74" y2="451.5" stroke="#000" stroke-width="2" stroke-linecap="butt"/>
<line x1="1702.04" y1="454.9" x2="1702.04" y2="451.5" stroke="#000" stroke-width="2" stroke-linecap="butt"/>
<line x1="1713.35" y1="454.9" x2="1713.35" y2="448.4" stroke="#000" stroke-width="2" stroke-linecap="butt"/>
<line x1="1724.66" y1="454.9" x2="1724.66" y2="451.5" stroke="#000" stroke-width="2" stroke-linecap="butt"/>
<line x1="1735.97" y1="454.9" x2="1735.97" y2="451.5" stroke="#000" stroke-width="2" stroke-linecap="butt"/>
<line x1="1747.27" y1="454.9" x2="1747.27" y2="451.5" stroke="#000" stroke-width="2" stroke-linecap="butt"/>
<line x1="1758.58" y1="454.9" x2="1758.58" y2="451.5" stroke="#000" stroke-width="2" stroke-linecap="butt"/>
<line x1="1769.89" y1="454.9" x2="1769.89" y2="451.5" stroke="#000" stroke-width="2" stroke-linecap="butt"/>
<line x1="1781.19" y1="454.9" x2="1781.19" y2="451.5" stroke="#000" stroke-width="2" stroke-linecap="butt"/>
<line x1="1792.5" y1="454.9" x2="1792.5" y2="451.5" stroke="#000" stroke-width="2" stroke-linecap="butt"/>
<line x1="1803.81" y1="454.9" x2="1803.81" y2="451.5" stroke="#000" stroke-width="2" stroke-linecap="butt"/>
<line x1="1815.12" y1="454.9" x2="1815.12" y2="451.5" stroke="#000" stroke-width="2" stroke-linecap="butt"/>
<line x1="1826.42" y1="454.9" x2="1826.42" y2="448.4" stroke="#000" stroke-width="2" stroke-linecap="butt"/>
<line x1="1837.73" y1="454.9" x2="1837.73" y2="451.5" stroke="#000" stroke-width="2" stroke-linecap="butt"/>
<line x1="1849.04" y1="454.9" x2="1849.04" y2="451.5" stroke="#000" stroke-width="2" stroke-linecap="butt"/>
<line x1="1860.35" y1="454.9" x2="1860.35" y2="451.5" stroke="#000" stroke-width="2" stroke-linecap="butt"/>
<line x1="1871.65" y1="454.9" x2="1871.65" y2="451.5" stroke="#000" stroke-width="2" stroke-linecap="butt"/>
<line x1="1882.96" y1="454.9" x2="1882.96" y2="451.5" stroke="#000" stroke-width="2" stroke-linecap="butt"/>
<line x1="1894.27" y1="454.9" x2="1894.27" y2="451.5" stroke="#000" stroke-width="2" stroke-linecap="butt"/>
<line x1="1905.58" y1="454.9" x2="1905.58" y2="451.5" stroke="#000" stroke-width="2" stroke-linecap="butt"/>
<line x1="1916.88" y1="454.9" x2="1916.88" y2="451.5" stroke="#000" stroke-width="2" stroke-linecap="butt"/>
<line x1="1928.19" y1="454.9" x2="1928.19" y2="451.5" stroke="#000" stroke-width="2" stroke-linecap="butt"/>
<line x1="1487.2" y1="446.51" x2="1490.6" y2="446.51" stroke="#000" stroke-width="2" stroke-linecap="butt"/>
<line x1="1487.2" y1="434.31" x2="1490.6" y2="434.31" stroke="#000" stroke-width="2" stroke-linecap="butt"/>
<line x1="1487.2" y1="422.11" x2="1490.6" y2="422.11" stroke="#000" stroke-width="2" stroke-linecap="butt"/>
<line x1="1487.2" y1="409.9" x2="1490.6" y2="409.9" stroke="#000" stroke-width="2" stroke-linecap="butt"/>
<line x1="1487.2" y1="397.7" x2="1490.6" y2="397.7" stroke="#000" stroke-width="2" stroke-linecap="butt"/>
<line x1="1487.2" y1="385.49" x2="1490.6" y2="385.49" stroke="#000" stroke-width="2" stroke-linecap="butt"/>
<line x1="1487.2" y1="373.29" x2="1493.7" y2="373.29" stroke="#000" stroke-width="2" stroke-linecap="butt"/>
<line x1="1487.2" y1="361.09" x2="1490.6" y2="361.09" stroke="#000" stroke-width="2" stroke-linecap="butt"/>
<line x1="1487.2" y1="348.88" x2="1490.6" y2="348.88" stroke="#000" stroke-width="2" stroke-linecap="butt"/>
<line x1="1487.2" y1="336.68" x2="1490.6" y2="336.68" stroke="#000" stroke-width="2" stroke-linecap="butt"/>
<line x1="1487.2" y1="324.47" x2="1490.6" y2="324.47" stroke="#000" stroke-width="2" stroke-linecap="butt"/>
<line x1="1487.2" y1="312.27" x2="1490.6" y2="312.27" stroke="#000" stroke-width="2" stroke-linecap="butt"/>
<line x1="1487.2" y1="300.07" x2="1490.6" y2="300.07" stroke="#000" stroke-width="2" stroke-linecap="butt"/>
<line x1="1487.2" y1="287.86" x2="1490.6" y2="287.86" stroke="#000" stroke-width="2" stroke-linecap="butt"/>
<line x1="1487.2" y1="275.66" x2="1490.6" y2="275.66" stroke="#000" stroke-width="2" stroke-linecap="butt"/>
<line x1="1487.2" y1="263.45" x2="1490.6" y2="263.45" stroke="#000" stroke-width="2" stroke-linecap="butt"/>
<line x1="1487.2" y1="251.25" x2="1493.7" y2="251.25" stroke="#000" stroke-width="2" stroke-linecap="butt"/>
<line x1="1487.2" y1="239.05" x2="1490.6" y2="239.05" stroke="#000" stroke-width="2" stroke-linecap="butt"/>
<line x1="1487.2" y1="226.84" x2="1490.6" y2="226.84" stroke="#000" stroke-width="2" stroke-linecap="butt"/>
<line x1="1487.2" y1="214.64" x2="1490.6" y2="214.64" stroke="#000" stroke-width="2" stroke-linecap="butt"/>
<line x1="1487.2" y1="202.43" x2="1490.6" y2="202.43" stroke="#000" stroke-width="2" stroke-linecap="butt"/>
<line x1="1487.2" y1="190.23" x2="1490.6" y2="190.23" stroke="#000" stroke-width="2" stroke-linecap="butt"/>
<line x1="1487.2" y1="178.03" x2="1490.6" y2="178.03" stroke="#000" stroke-width="2" stroke-linecap="butt"/>
<line x1="1487.2" y1="165.82" x2="1490.6" y2="165.82" stroke="#000" stroke-width="2" stroke-linecap="butt"/>
<line x1="1487.2" y1="153.62" x2="1490.6" y2="153.62" stroke="#000" stroke-width="2" stroke-linecap="butt"/>
<line x1="1487.2" y1="141.41" x2="1490.6" y2="141.41" stroke="#000" stroke-width="2" stroke-linecap="butt"/>
<line x1="1487.2" y1="129.21" x2="1493.7" y2="129.21" stroke="#000" stroke-width="2" stroke-linecap="butt"/>
<line x1="1487.2" y1="117.01" x2="1490.6" y2="117.01" stroke="#000" stroke-width="2" stroke-linecap="butt"/>
<line x1="1487.2" y1="104.8" x2="1490.6" y2="104.8" stroke="#000" stroke-width="2" stroke-linecap="butt"/>
<line x1="1487.2" y1="92.6" x2="1490.6" y2="92.6" stroke="#000" stroke-width="2" stroke-linecap="butt"/>
<line x1="1487.2" y1="80.39" x2="1490.6" y2="80.39" stroke="#000" stroke-width="2" stroke-linecap="butt"/>
<line x1="1487.2" y1="68.19" x2="1490.6" y2="68.19" stroke="#000" stroke-width="2" stroke-linecap="butt"/>
<line x1="1487.2" y1="55.99" x2="1490.6" y2="55.99" stroke="#000" stroke-width="2" stroke-linecap="butt"/>
<text x="1435.65" y="139.01" style="font-family:'Liberation Sans', Arial, sans-serif;font-size:31px;" fill="#000">0.3</text>
<text x="1435.53" y="261.05" style="font-family:'Liberation Sans', Arial, sans-serif;font-size:31px;" fill="#000">0.0</text>
<text x="1425.4" y="383.09" style="font-family:'Liberation Sans', Arial, sans-serif;font-size:31px;" fill="#000">-0.3</text>
<text x="1478.58" y="487.7" style="font-family:'Liberation Sans', Arial, sans-serif;font-size:31px;" fill="#000">0</text>
<text x="1582.9" y="487.7" style="font-family:'Liberation Sans', Arial, sans-serif;font-size:31px;" fill="#000">90</text>
<text x="1686.91" y="487.7" style="font-family:'Liberation Sans', Arial, sans-serif;font-size:31px;" fill="#000">180</text>
<text x="1800.42" y="487.7" style="font-family:'Liberation Sans', Arial, sans-serif;font-size:31px;" fill="#000">270</text>
<text x="1913.62" y="487.7" style="font-family:'Liberation Sans', Arial, sans-serif;font-size:31px;" fill="#000">360</text>
<circle cx="1579.4" cy="68.5" r="6.3" fill="rgba(255,0,0,0.8)"/>
<text x="1621.4" y="79.3" style="font-family:'Liberation Sans', Arial, sans-serif;font-size:31px;" fill="#000" textLength="65.01" lengthAdjust="spacing">Exp.</text>
<line x1="1693.9" y1="68.5" x2="1762.6" y2="68.5" stroke="#0000ff" stroke-width="3.8" stroke-linecap="round"/>
<text x="1771.75" y="79.3" style="font-family:'Liberation Sans', Arial, sans-serif;font-size:31px;" fill="#000" textLength="102.96" lengthAdjust="spacing">Total fit</text>
<text x="0" y="0" transform="translate(1396.9 337.07) rotate(-90)" style="font-family:'Liberation Serif', 'Times New Roman', serif;font-size:38px;font-style:italic;" fill="#000">I</text>
<text x="0" y="0" transform="translate(1404.3 323.95) rotate(-90)" style="font-family:'Liberation Serif', 'Times New Roman', serif;font-size:30px;" fill="#000" textLength="65.9" lengthAdjust="spacing">[111]</text>
<line x1="1382.9" y1="270.7" x2="1382.9" y2="282.8" stroke="#000" stroke-width="1.6" stroke-linecap="butt"/>
<text x="0" y="0" transform="translate(1396.6 246.32) rotate(-90)" style="font-family:'Liberation Serif', 'Times New Roman', serif;font-size:38px;" fill="#000" textLength="72.35" lengthAdjust="spacing">(nA)</text>
<text x="1659.6" y="530.2" style="font-family:'Liberation Sans', Arial, sans-serif;font-size:31px;font-style:italic;" fill="#000">θ</text>
<text x="1677.47" y="517.6" style="font-family:'Liberation Sans', Arial, sans-serif;font-size:22px;font-style:italic;" fill="#000" textLength="50.5" lengthAdjust="spacing">QWP</text>
<text x="1734.62" y="530" style="font-family:'Liberation Serif', 'Times New Roman', serif;font-size:31px;" fill="#000" textLength="32.77" lengthAdjust="spacing">(°)</text>
<clipPath id="clipd"><rect x="118.4" y="668" width="451.7" height="407.4"/></clipPath>
<g clip-path="url(#clipd)">
<line x1="139.7" y1="1045.4" x2="565.7" y2="732.4" stroke="#ff0000" stroke-width="2.6" stroke-linecap="butt"/>
<line x1="148" y1="1020.6" x2="570.1" y2="1020.6" stroke="#0000ff" stroke-width="2.6" stroke-linecap="butt"/>
<circle cx="150.9" cy="1023.4" r="5.8" fill="#ff0000"/>
<circle cx="172.4" cy="1004.7" r="5.8" fill="#ff0000"/>
<circle cx="193.9" cy="993.8" r="5.8" fill="#ff0000"/>
<circle cx="215.4" cy="980.9" r="5.8" fill="#ff0000"/>
<circle cx="236.9" cy="950.5" r="5.8" fill="#ff0000"/>
<circle cx="258.4" cy="955.5" r="5.8" fill="#ff0000"/>
<circle cx="279.9" cy="929.9" r="5.8" fill="#ff0000"/>
<circle cx="301.4" cy="922.6" r="5.8" fill="#ff0000"/>
<circle cx="322.9" cy="923.2" r="5.8" fill="#ff0000"/>
<circle cx="344.4" cy="881.9" r="5.8" fill="#ff0000"/>
<circle cx="365.9" cy="843.5" r="5.8" fill="#ff0000"/>
<circle cx="387.4" cy="864.3" r="5.8" fill="#ff0000"/>
<circle cx="408.9" cy="865.7" r="5.8" fill="#ff0000"/>
<circle cx="430.4" cy="816.9" r="5.8" fill="#ff0000"/>
<circle cx="451.9" cy="831.1" r="5.8" fill="#ff0000"/>
<circle cx="473.4" cy="819.7" r="5.8" fill="#ff0000"/>
<circle cx="494.9" cy="794.1" r="5.8" fill="#ff0000"/>
<circle cx="516.4" cy="777.2" r="5.8" fill="#ff0000"/>
<circle cx="537.9" cy="749.8" r="5.8" fill="#ff0000"/>
<circle cx="559.4" cy="770.9" r="5.8" fill="#ff0000"/>
<circle cx="150.9" cy="1010.3" r="5.8" fill="#0000ff"/>
<circle cx="172.4" cy="995.7" r="5.8" fill="#0000ff"/>
<circle cx="193.9" cy="1036.9" r="5.8" fill="#0000ff"/>
<circle cx="215.4" cy="1021" r="5.8" fill="#0000ff"/>
<circle cx="236.9" cy="1047.9" r="5.8" fill="#0000ff"/>
<circle cx="258.4" cy="1004.3" r="5.8" fill="#0000ff"/>
<circle cx="279.9" cy="1032.1" r="5.8" fill="#0000ff"/>
<circle cx="301.4" cy="1006.9" r="5.8" fill="#0000ff"/>
<circle cx="322.9" cy="977.9" r="5.8" fill="#0000ff"/>
<circle cx="344.4" cy="1012.1" r="5.8" fill="#0000ff"/>
<circle cx="365.9" cy="1022" r="5.8" fill="#0000ff"/>
<circle cx="387.4" cy="986.7" r="5.8" fill="#0000ff"/>
<circle cx="408.9" cy="1007.8" r="5.8" fill="#0000ff"/>
<circle cx="430.4" cy="1008.5" r="5.8" fill="#0000ff"/>
<circle cx="451.9" cy="1024.7" r="5.8" fill="#0000ff"/>
<circle cx="473.4" cy="998.1" r="5.8" fill="#0000ff"/>
<circle cx="494.9" cy="976.3" r="5.8" fill="#0000ff"/>
<circle cx="516.4" cy="1002.6" r="5.8" fill="#0000ff"/>
<circle cx="537.9" cy="991.9" r="5.8" fill="#0000ff"/>
<circle cx="559.4" cy="998.8" r="5.8" fill="#0000ff"/>
<line x1="150.9" y1="980.1" x2="150.9" y2="1066.7" stroke="rgba(255,0,0,0.45)" stroke-width="1.3" stroke-linecap="butt"/>
<line x1="147.1" y1="980.1" x2="154.7" y2="980.1" stroke="rgba(255,0,0,0.45)" stroke-width="1.3" stroke-linecap="butt"/>
<line x1="147.1" y1="1066.7" x2="154.7" y2="1066.7" stroke="rgba(255,0,0,0.45)" stroke-width="1.3" stroke-linecap="butt"/>
<line x1="172.4" y1="957.4" x2="172.4" y2="1052" stroke="rgba(255,0,0,0.45)" stroke-width="1.3" stroke-linecap="butt"/>
<line x1="168.6" y1="957.4" x2="176.2" y2="957.4" stroke="rgba(255,0,0,0.45)" stroke-width="1.3" stroke-linecap="butt"/>
<line x1="168.6" y1="1052" x2="176.2" y2="1052" stroke="rgba(255,0,0,0.45)" stroke-width="1.3" stroke-linecap="butt"/>
<line x1="193.9" y1="947.1" x2="193.9" y2="1040.5" stroke="rgba(255,0,0,0.45)" stroke-width="1.3" stroke-linecap="butt"/>
<line x1="190.1" y1="947.1" x2="197.7" y2="947.1" stroke="rgba(255,0,0,0.45)" stroke-width="1.3" stroke-linecap="butt"/>
<line x1="190.1" y1="1040.5" x2="197.7" y2="1040.5" stroke="rgba(255,0,0,0.45)" stroke-width="1.3" stroke-linecap="butt"/>
<line x1="215.4" y1="933.7" x2="215.4" y2="1028.1" stroke="rgba(255,0,0,0.45)" stroke-width="1.3" stroke-linecap="butt"/>
<line x1="211.6" y1="933.7" x2="219.2" y2="933.7" stroke="rgba(255,0,0,0.45)" stroke-width="1.3" stroke-linecap="butt"/>
<line x1="211.6" y1="1028.1" x2="219.2" y2="1028.1" stroke="rgba(255,0,0,0.45)" stroke-width="1.3" stroke-linecap="butt"/>
<line x1="236.9" y1="892.5" x2="236.9" y2="1008.5" stroke="rgba(255,0,0,0.45)" stroke-width="1.3" stroke-linecap="butt"/>
<line x1="233.1" y1="892.5" x2="240.7" y2="892.5" stroke="rgba(255,0,0,0.45)" stroke-width="1.3" stroke-linecap="butt"/>
<line x1="233.1" y1="1008.5" x2="240.7" y2="1008.5" stroke="rgba(255,0,0,0.45)" stroke-width="1.3" stroke-linecap="butt"/>
<line x1="258.4" y1="889.2" x2="258.4" y2="1021.8" stroke="rgba(255,0,0,0.45)" stroke-width="1.3" stroke-linecap="butt"/>
<line x1="254.6" y1="889.2" x2="262.2" y2="889.2" stroke="rgba(255,0,0,0.45)" stroke-width="1.3" stroke-linecap="butt"/>
<line x1="254.6" y1="1021.8" x2="262.2" y2="1021.8" stroke="rgba(255,0,0,0.45)" stroke-width="1.3" stroke-linecap="butt"/>
<line x1="279.9" y1="861.9" x2="279.9" y2="997.9" stroke="rgba(255,0,0,0.45)" stroke-width="1.3" stroke-linecap="butt"/>
<line x1="276.1" y1="861.9" x2="283.7" y2="861.9" stroke="rgba(255,0,0,0.45)" stroke-width="1.3" stroke-linecap="butt"/>
<line x1="276.1" y1="997.9" x2="283.7" y2="997.9" stroke="rgba(255,0,0,0.45)" stroke-width="1.3" stroke-linecap="butt"/>
<line x1="301.4" y1="877.9" x2="301.4" y2="967.3" stroke="rgba(255,0,0,0.45)" stroke-width="1.3" stroke-linecap="butt"/>
<line x1="297.6" y1="877.9" x2="305.2" y2="877.9" stroke="rgba(255,0,0,0.45)" stroke-width="1.3" stroke-linecap="butt"/>
<line x1="297.6" y1="967.3" x2="305.2" y2="967.3" stroke="rgba(255,0,0,0.45)" stroke-width="1.3" stroke-linecap="butt"/>
<line x1="322.9" y1="864.2" x2="322.9" y2="982.2" stroke="rgba(255,0,0,0.45)" stroke-width="1.3" stroke-linecap="butt"/>
<line x1="319.1" y1="864.2" x2="326.7" y2="864.2" stroke="rgba(255,0,0,0.45)" stroke-width="1.3" stroke-linecap="butt"/>
<line x1="319.1" y1="982.2" x2="326.7" y2="982.2" stroke="rgba(255,0,0,0.45)" stroke-width="1.3" stroke-linecap="butt"/>
<line x1="344.4" y1="822.9" x2="344.4" y2="940.9" stroke="rgba(255,0,0,0.45)" stroke-width="1.3" stroke-linecap="butt"/>
<line x1="340.6" y1="822.9" x2="348.2" y2="822.9" stroke="rgba(255,0,0,0.45)" stroke-width="1.3" stroke-linecap="butt"/>
<line x1="340.6" y1="940.9" x2="348.2" y2="940.9" stroke="rgba(255,0,0,0.45)" stroke-width="1.3" stroke-linecap="butt"/>
<line x1="365.9" y1="765.7" x2="365.9" y2="921.3" stroke="rgba(255,0,0,0.45)" stroke-width="1.3" stroke-linecap="butt"/>
<line x1="362.1" y1="765.7" x2="369.7" y2="765.7" stroke="rgba(255,0,0,0.45)" stroke-width="1.3" stroke-linecap="butt"/>
<line x1="362.1" y1="921.3" x2="369.7" y2="921.3" stroke="rgba(255,0,0,0.45)" stroke-width="1.3" stroke-linecap="butt"/>
<line x1="387.4" y1="807.7" x2="387.4" y2="920.9" stroke="rgba(255,0,0,0.45)" stroke-width="1.3" stroke-linecap="butt"/>
<line x1="383.6" y1="807.7" x2="391.2" y2="807.7" stroke="rgba(255,0,0,0.45)" stroke-width="1.3" stroke-linecap="butt"/>
<line x1="383.6" y1="920.9" x2="391.2" y2="920.9" stroke="rgba(255,0,0,0.45)" stroke-width="1.3" stroke-linecap="butt"/>
<line x1="408.9" y1="822.2" x2="408.9" y2="909.2" stroke="rgba(255,0,0,0.45)" stroke-width="1.3" stroke-linecap="butt"/>
<line x1="405.1" y1="822.2" x2="412.7" y2="822.2" stroke="rgba(255,0,0,0.45)" stroke-width="1.3" stroke-linecap="butt"/>
<line x1="405.1" y1="909.2" x2="412.7" y2="909.2" stroke="rgba(255,0,0,0.45)" stroke-width="1.3" stroke-linecap="butt"/>
<line x1="430.4" y1="776.4" x2="430.4" y2="857.4" stroke="rgba(255,0,0,0.45)" stroke-width="1.3" stroke-linecap="butt"/>
<line x1="426.6" y1="776.4" x2="434.2" y2="776.4" stroke="rgba(255,0,0,0.45)" stroke-width="1.3" stroke-linecap="butt"/>
<line x1="426.6" y1="857.4" x2="434.2" y2="857.4" stroke="rgba(255,0,0,0.45)" stroke-width="1.3" stroke-linecap="butt"/>
<line x1="451.9" y1="755.1" x2="451.9" y2="907.1" stroke="rgba(255,0,0,0.45)" stroke-width="1.3" stroke-linecap="butt"/>
<line x1="448.1" y1="755.1" x2="455.7" y2="755.1" stroke="rgba(255,0,0,0.45)" stroke-width="1.3" stroke-linecap="butt"/>
<line x1="448.1" y1="907.1" x2="455.7" y2="907.1" stroke="rgba(255,0,0,0.45)" stroke-width="1.3" stroke-linecap="butt"/>
<line x1="473.4" y1="770.4" x2="473.4" y2="869" stroke="rgba(255,0,0,0.45)" stroke-width="1.3" stroke-linecap="butt"/>
<line x1="469.6" y1="770.4" x2="477.2" y2="770.4" stroke="rgba(255,0,0,0.45)" stroke-width="1.3" stroke-linecap="butt"/>
<line x1="469.6" y1="869" x2="477.2" y2="869" stroke="rgba(255,0,0,0.45)" stroke-width="1.3" stroke-linecap="butt"/>
<line x1="494.9" y1="723.1" x2="494.9" y2="865.1" stroke="rgba(255,0,0,0.45)" stroke-width="1.3" stroke-linecap="butt"/>
<line x1="491.1" y1="723.1" x2="498.7" y2="723.1" stroke="rgba(255,0,0,0.45)" stroke-width="1.3" stroke-linecap="butt"/>
<line x1="491.1" y1="865.1" x2="498.7" y2="865.1" stroke="rgba(255,0,0,0.45)" stroke-width="1.3" stroke-linecap="butt"/>
<line x1="516.4" y1="717.6" x2="516.4" y2="836.8" stroke="rgba(255,0,0,0.45)" stroke-width="1.3" stroke-linecap="butt"/>
<line x1="512.6" y1="717.6" x2="520.2" y2="717.6" stroke="rgba(255,0,0,0.45)" stroke-width="1.3" stroke-linecap="butt"/>
<line x1="512.6" y1="836.8" x2="520.2" y2="836.8" stroke="rgba(255,0,0,0.45)" stroke-width="1.3" stroke-linecap="butt"/>
<line x1="537.9" y1="699.3" x2="537.9" y2="800.3" stroke="rgba(255,0,0,0.45)" stroke-width="1.3" stroke-linecap="butt"/>
<line x1="534.1" y1="699.3" x2="541.7" y2="699.3" stroke="rgba(255,0,0,0.45)" stroke-width="1.3" stroke-linecap="butt"/>
<line x1="534.1" y1="800.3" x2="541.7" y2="800.3" stroke="rgba(255,0,0,0.45)" stroke-width="1.3" stroke-linecap="butt"/>
<line x1="559.4" y1="712.1" x2="559.4" y2="829.7" stroke="rgba(255,0,0,0.45)" stroke-width="1.3" stroke-linecap="butt"/>
<line x1="555.6" y1="712.1" x2="563.2" y2="712.1" stroke="rgba(255,0,0,0.45)" stroke-width="1.3" stroke-linecap="butt"/>
<line x1="555.6" y1="829.7" x2="563.2" y2="829.7" stroke="rgba(255,0,0,0.45)" stroke-width="1.3" stroke-linecap="butt"/>
<line x1="150.9" y1="960.3" x2="150.9" y2="1060.3" stroke="rgba(0,0,255,0.45)" stroke-width="1.3" stroke-linecap="butt"/>
<line x1="147.1" y1="960.3" x2="154.7" y2="960.3" stroke="rgba(0,0,255,0.45)" stroke-width="1.3" stroke-linecap="butt"/>
<line x1="147.1" y1="1060.3" x2="154.7" y2="1060.3" stroke="rgba(0,0,255,0.45)" stroke-width="1.3" stroke-linecap="butt"/>
<line x1="172.4" y1="941.3" x2="172.4" y2="1050.1" stroke="rgba(0,0,255,0.45)" stroke-width="1.3" stroke-linecap="butt"/>
<line x1="168.6" y1="941.3" x2="176.2" y2="941.3" stroke="rgba(0,0,255,0.45)" stroke-width="1.3" stroke-linecap="butt"/>
<line x1="168.6" y1="1050.1" x2="176.2" y2="1050.1" stroke="rgba(0,0,255,0.45)" stroke-width="1.3" stroke-linecap="butt"/>
<line x1="193.9" y1="1006.4" x2="193.9" y2="1067.4" stroke="rgba(0,0,255,0.45)" stroke-width="1.3" stroke-linecap="butt"/>
<line x1="190.1" y1="1006.4" x2="197.7" y2="1006.4" stroke="rgba(0,0,255,0.45)" stroke-width="1.3" stroke-linecap="butt"/>
<line x1="190.1" y1="1067.4" x2="197.7" y2="1067.4" stroke="rgba(0,0,255,0.45)" stroke-width="1.3" stroke-linecap="butt"/>
<line x1="215.4" y1="982" x2="215.4" y2="1060" stroke="rgba(0,0,255,0.45)" stroke-width="1.3" stroke-linecap="butt"/>
<line x1="211.6" y1="982" x2="219.2" y2="982" stroke="rgba(0,0,255,0.45)" stroke-width="1.3" stroke-linecap="butt"/>
<line x1="211.6" y1="1060" x2="219.2" y2="1060" stroke="rgba(0,0,255,0.45)" stroke-width="1.3" stroke-linecap="butt"/>
<line x1="236.9" y1="1016.9" x2="236.9" y2="1078.9" stroke="rgba(0,0,255,0.45)" stroke-width="1.3" stroke-linecap="butt"/>
<line x1="233.1" y1="1016.9" x2="240.7" y2="1016.9" stroke="rgba(0,0,255,0.45)" stroke-width="1.3" stroke-linecap="butt"/>
<line x1="233.1" y1="1078.9" x2="240.7" y2="1078.9" stroke="rgba(0,0,255,0.45)" stroke-width="1.3" stroke-linecap="butt"/>
<line x1="258.4" y1="936.3" x2="258.4" y2="1072.3" stroke="rgba(0,0,255,0.45)" stroke-width="1.3" stroke-linecap="butt"/>
<line x1="254.6" y1="936.3" x2="262.2" y2="936.3" stroke="rgba(0,0,255,0.45)" stroke-width="1.3" stroke-linecap="butt"/>
<line x1="254.6" y1="1072.3" x2="262.2" y2="1072.3" stroke="rgba(0,0,255,0.45)" stroke-width="1.3" stroke-linecap="butt"/>
<line x1="279.9" y1="995.6" x2="279.9" y2="1068.6" stroke="rgba(0,0,255,0.45)" stroke-width="1.3" stroke-linecap="butt"/>
<line x1="276.1" y1="995.6" x2="283.7" y2="995.6" stroke="rgba(0,0,255,0.45)" stroke-width="1.3" stroke-linecap="butt"/>
<line x1="276.1" y1="1068.6" x2="283.7" y2="1068.6" stroke="rgba(0,0,255,0.45)" stroke-width="1.3" stroke-linecap="butt"/>
<line x1="301.4" y1="958.9" x2="301.4" y2="1054.9" stroke="rgba(0,0,255,0.45)" stroke-width="1.3" stroke-linecap="butt"/>
<line x1="297.6" y1="958.9" x2="305.2" y2="958.9" stroke="rgba(0,0,255,0.45)" stroke-width="1.3" stroke-linecap="butt"/>
<line x1="297.6" y1="1054.9" x2="305.2" y2="1054.9" stroke="rgba(0,0,255,0.45)" stroke-width="1.3" stroke-linecap="butt"/>
<line x1="322.9" y1="919.4" x2="322.9" y2="1036.4" stroke="rgba(0,0,255,0.45)" stroke-width="1.3" stroke-linecap="butt"/>
<line x1="319.1" y1="919.4" x2="326.7" y2="919.4" stroke="rgba(0,0,255,0.45)" stroke-width="1.3" stroke-linecap="butt"/>
<line x1="319.1" y1="1036.4" x2="326.7" y2="1036.4" stroke="rgba(0,0,255,0.45)" stroke-width="1.3" stroke-linecap="butt"/>
<line x1="344.4" y1="974.1" x2="344.4" y2="1050.1" stroke="rgba(0,0,255,0.45)" stroke-width="1.3" stroke-linecap="butt"/>
<line x1="340.6" y1="974.1" x2="348.2" y2="974.1" stroke="rgba(0,0,255,0.45)" stroke-width="1.3" stroke-linecap="butt"/>
<line x1="340.6" y1="1050.1" x2="348.2" y2="1050.1" stroke="rgba(0,0,255,0.45)" stroke-width="1.3" stroke-linecap="butt"/>
<line x1="365.9" y1="972.5" x2="365.9" y2="1071.5" stroke="rgba(0,0,255,0.45)" stroke-width="1.3" stroke-linecap="butt"/>
<line x1="362.1" y1="972.5" x2="369.7" y2="972.5" stroke="rgba(0,0,255,0.45)" stroke-width="1.3" stroke-linecap="butt"/>
<line x1="362.1" y1="1071.5" x2="369.7" y2="1071.5" stroke="rgba(0,0,255,0.45)" stroke-width="1.3" stroke-linecap="butt"/>
<line x1="387.4" y1="920" x2="387.4" y2="1053.4" stroke="rgba(0,0,255,0.45)" stroke-width="1.3" stroke-linecap="butt"/>
<line x1="383.6" y1="920" x2="391.2" y2="920" stroke="rgba(0,0,255,0.45)" stroke-width="1.3" stroke-linecap="butt"/>
<line x1="383.6" y1="1053.4" x2="391.2" y2="1053.4" stroke="rgba(0,0,255,0.45)" stroke-width="1.3" stroke-linecap="butt"/>
<line x1="408.9" y1="940.8" x2="408.9" y2="1074.8" stroke="rgba(0,0,255,0.45)" stroke-width="1.3" stroke-linecap="butt"/>
<line x1="405.1" y1="940.8" x2="412.7" y2="940.8" stroke="rgba(0,0,255,0.45)" stroke-width="1.3" stroke-linecap="butt"/>
<line x1="405.1" y1="1074.8" x2="412.7" y2="1074.8" stroke="rgba(0,0,255,0.45)" stroke-width="1.3" stroke-linecap="butt"/>
<line x1="430.4" y1="972.9" x2="430.4" y2="1044.1" stroke="rgba(0,0,255,0.45)" stroke-width="1.3" stroke-linecap="butt"/>
<line x1="426.6" y1="972.9" x2="434.2" y2="972.9" stroke="rgba(0,0,255,0.45)" stroke-width="1.3" stroke-linecap="butt"/>
<line x1="426.6" y1="1044.1" x2="434.2" y2="1044.1" stroke="rgba(0,0,255,0.45)" stroke-width="1.3" stroke-linecap="butt"/>
<line x1="451.9" y1="994.4" x2="451.9" y2="1055" stroke="rgba(0,0,255,0.45)" stroke-width="1.3" stroke-linecap="butt"/>
<line x1="448.1" y1="994.4" x2="455.7" y2="994.4" stroke="rgba(0,0,255,0.45)" stroke-width="1.3" stroke-linecap="butt"/>
<line x1="448.1" y1="1055" x2="455.7" y2="1055" stroke="rgba(0,0,255,0.45)" stroke-width="1.3" stroke-linecap="butt"/>
<line x1="473.4" y1="960.9" x2="473.4" y2="1035.3" stroke="rgba(0,0,255,0.45)" stroke-width="1.3" stroke-linecap="butt"/>
<line x1="469.6" y1="960.9" x2="477.2" y2="960.9" stroke="rgba(0,0,255,0.45)" stroke-width="1.3" stroke-linecap="butt"/>
<line x1="469.6" y1="1035.3" x2="477.2" y2="1035.3" stroke="rgba(0,0,255,0.45)" stroke-width="1.3" stroke-linecap="butt"/>
<line x1="494.9" y1="902.3" x2="494.9" y2="1050.3" stroke="rgba(0,0,255,0.45)" stroke-width="1.3" stroke-linecap="butt"/>
<line x1="491.1" y1="902.3" x2="498.7" y2="902.3" stroke="rgba(0,0,255,0.45)" stroke-width="1.3" stroke-linecap="butt"/>
<line x1="491.1" y1="1050.3" x2="498.7" y2="1050.3" stroke="rgba(0,0,255,0.45)" stroke-width="1.3" stroke-linecap="butt"/>
<line x1="516.4" y1="952.6" x2="516.4" y2="1052.6" stroke="rgba(0,0,255,0.45)" stroke-width="1.3" stroke-linecap="butt"/>
<line x1="512.6" y1="952.6" x2="520.2" y2="952.6" stroke="rgba(0,0,255,0.45)" stroke-width="1.3" stroke-linecap="butt"/>
<line x1="512.6" y1="1052.6" x2="520.2" y2="1052.6" stroke="rgba(0,0,255,0.45)" stroke-width="1.3" stroke-linecap="butt"/>
<line x1="537.9" y1="939.3" x2="537.9" y2="1044.5" stroke="rgba(0,0,255,0.45)" stroke-width="1.3" stroke-linecap="butt"/>
<line x1="534.1" y1="939.3" x2="541.7" y2="939.3" stroke="rgba(0,0,255,0.45)" stroke-width="1.3" stroke-linecap="butt"/>
<line x1="534.1" y1="1044.5" x2="541.7" y2="1044.5" stroke="rgba(0,0,255,0.45)" stroke-width="1.3" stroke-linecap="butt"/>
<line x1="559.4" y1="940.8" x2="559.4" y2="1056.8" stroke="rgba(0,0,255,0.45)" stroke-width="1.3" stroke-linecap="butt"/>
<line x1="555.6" y1="940.8" x2="563.2" y2="940.8" stroke="rgba(0,0,255,0.45)" stroke-width="1.3" stroke-linecap="butt"/>
<line x1="555.6" y1="1056.8" x2="563.2" y2="1056.8" stroke="rgba(0,0,255,0.45)" stroke-width="1.3" stroke-linecap="butt"/>
</g>
<rect x="118.4" y="668" width="451.7" height="407.4" fill="none" stroke="#000" stroke-width="2.2"/>
<line x1="129.4" y1="1075.4" x2="129.4" y2="1068.9" stroke="#000" stroke-width="2" stroke-linecap="butt"/>
<line x1="150.9" y1="1075.4" x2="150.9" y2="1072.2" stroke="#000" stroke-width="2" stroke-linecap="butt"/>
<line x1="172.4" y1="1075.4" x2="172.4" y2="1072.2" stroke="#000" stroke-width="2" stroke-linecap="butt"/>
<line x1="193.9" y1="1075.4" x2="193.9" y2="1072.2" stroke="#000" stroke-width="2" stroke-linecap="butt"/>
<line x1="215.4" y1="1075.4" x2="215.4" y2="1068.9" stroke="#000" stroke-width="2" stroke-linecap="butt"/>
<line x1="236.9" y1="1075.4" x2="236.9" y2="1072.2" stroke="#000" stroke-width="2" stroke-linecap="butt"/>
<line x1="258.4" y1="1075.4" x2="258.4" y2="1072.2" stroke="#000" stroke-width="2" stroke-linecap="butt"/>
<line x1="279.9" y1="1075.4" x2="279.9" y2="1072.2" stroke="#000" stroke-width="2" stroke-linecap="butt"/>
<line x1="301.4" y1="1075.4" x2="301.4" y2="1068.9" stroke="#000" stroke-width="2" stroke-linecap="butt"/>
<line x1="322.9" y1="1075.4" x2="322.9" y2="1072.2" stroke="#000" stroke-width="2" stroke-linecap="butt"/>
<line x1="344.4" y1="1075.4" x2="344.4" y2="1072.2" stroke="#000" stroke-width="2" stroke-linecap="butt"/>
<line x1="365.9" y1="1075.4" x2="365.9" y2="1072.2" stroke="#000" stroke-width="2" stroke-linecap="butt"/>
<line x1="387.4" y1="1075.4" x2="387.4" y2="1068.9" stroke="#000" stroke-width="2" stroke-linecap="butt"/>
<line x1="408.9" y1="1075.4" x2="408.9" y2="1072.2" stroke="#000" stroke-width="2" stroke-linecap="butt"/>
<line x1="430.4" y1="1075.4" x2="430.4" y2="1072.2" stroke="#000" stroke-width="2" stroke-linecap="butt"/>
<line x1="451.9" y1="1075.4" x2="451.9" y2="1072.2" stroke="#000" stroke-width="2" stroke-linecap="butt"/>
<line x1="473.4" y1="1075.4" x2="473.4" y2="1068.9" stroke="#000" stroke-width="2" stroke-linecap="butt"/>
<line x1="494.9" y1="1075.4" x2="494.9" y2="1072.2" stroke="#000" stroke-width="2" stroke-linecap="butt"/>
<line x1="516.4" y1="1075.4" x2="516.4" y2="1072.2" stroke="#000" stroke-width="2" stroke-linecap="butt"/>
<line x1="537.9" y1="1075.4" x2="537.9" y2="1072.2" stroke="#000" stroke-width="2" stroke-linecap="butt"/>
<line x1="559.4" y1="1075.4" x2="559.4" y2="1068.9" stroke="#000" stroke-width="2" stroke-linecap="butt"/>
<line x1="139.9" y1="668" x2="139.9" y2="671.2" stroke="#000" stroke-width="2" stroke-linecap="butt"/>
<line x1="161.4" y1="668" x2="161.4" y2="671.2" stroke="#000" stroke-width="2" stroke-linecap="butt"/>
<line x1="182.9" y1="668" x2="182.9" y2="671.2" stroke="#000" stroke-width="2" stroke-linecap="butt"/>
<line x1="204.4" y1="668" x2="204.4" y2="674.5" stroke="#000" stroke-width="2" stroke-linecap="butt"/>
<line x1="225.9" y1="668" x2="225.9" y2="671.2" stroke="#000" stroke-width="2" stroke-linecap="butt"/>
<line x1="247.4" y1="668" x2="247.4" y2="671.2" stroke="#000" stroke-width="2" stroke-linecap="butt"/>
<line x1="268.9" y1="668" x2="268.9" y2="671.2" stroke="#000" stroke-width="2" stroke-linecap="butt"/>
<line x1="290.4" y1="668" x2="290.4" y2="674.5" stroke="#000" stroke-width="2" stroke-linecap="butt"/>
<line x1="311.9" y1="668" x2="311.9" y2="671.2" stroke="#000" stroke-width="2" stroke-linecap="butt"/>
<line x1="333.4" y1="668" x2="333.4" y2="671.2" stroke="#000" stroke-width="2" stroke-linecap="butt"/>
<line x1="354.9" y1="668" x2="354.9" y2="671.2" stroke="#000" stroke-width="2" stroke-linecap="butt"/>
<line x1="376.4" y1="668" x2="376.4" y2="674.5" stroke="#000" stroke-width="2" stroke-linecap="butt"/>
<line x1="397.9" y1="668" x2="397.9" y2="671.2" stroke="#000" stroke-width="2" stroke-linecap="butt"/>
<line x1="419.4" y1="668" x2="419.4" y2="671.2" stroke="#000" stroke-width="2" stroke-linecap="butt"/>
<line x1="440.9" y1="668" x2="440.9" y2="671.2" stroke="#000" stroke-width="2" stroke-linecap="butt"/>
<line x1="462.4" y1="668" x2="462.4" y2="674.5" stroke="#000" stroke-width="2" stroke-linecap="butt"/>
<line x1="483.9" y1="668" x2="483.9" y2="671.2" stroke="#000" stroke-width="2" stroke-linecap="butt"/>
<line x1="505.4" y1="668" x2="505.4" y2="671.2" stroke="#000" stroke-width="2" stroke-linecap="butt"/>
<line x1="526.9" y1="668" x2="526.9" y2="671.2" stroke="#000" stroke-width="2" stroke-linecap="butt"/>
<line x1="548.4" y1="668" x2="548.4" y2="674.5" stroke="#000" stroke-width="2" stroke-linecap="butt"/>
<line x1="118.4" y1="1048.8" x2="121.6" y2="1048.8" stroke="#000" stroke-width="2" stroke-linecap="butt"/>
<line x1="118.4" y1="1021.6" x2="121.6" y2="1021.6" stroke="#000" stroke-width="2" stroke-linecap="butt"/>
<line x1="118.4" y1="994.4" x2="121.6" y2="994.4" stroke="#000" stroke-width="2" stroke-linecap="butt"/>
<line x1="118.4" y1="967.2" x2="124.9" y2="967.2" stroke="#000" stroke-width="2" stroke-linecap="butt"/>
<line x1="118.4" y1="940" x2="121.6" y2="940" stroke="#000" stroke-width="2" stroke-linecap="butt"/>
<line x1="118.4" y1="912.8" x2="121.6" y2="912.8" stroke="#000" stroke-width="2" stroke-linecap="butt"/>
<line x1="118.4" y1="885.6" x2="121.6" y2="885.6" stroke="#000" stroke-width="2" stroke-linecap="butt"/>
<line x1="118.4" y1="858.4" x2="121.6" y2="858.4" stroke="#000" stroke-width="2" stroke-linecap="butt"/>
<line x1="118.4" y1="831.2" x2="124.9" y2="831.2" stroke="#000" stroke-width="2" stroke-linecap="butt"/>
<line x1="118.4" y1="804" x2="121.6" y2="804" stroke="#000" stroke-width="2" stroke-linecap="butt"/>
<line x1="118.4" y1="776.8" x2="121.6" y2="776.8" stroke="#000" stroke-width="2" stroke-linecap="butt"/>
<line x1="118.4" y1="749.6" x2="121.6" y2="749.6" stroke="#000" stroke-width="2" stroke-linecap="butt"/>
<line x1="118.4" y1="722.4" x2="121.6" y2="722.4" stroke="#000" stroke-width="2" stroke-linecap="butt"/>
<line x1="118.4" y1="695.2" x2="124.9" y2="695.2" stroke="#000" stroke-width="2" stroke-linecap="butt"/>
<text x="69.03" y="704.2" style="font-family:'Liberation Sans', Arial, sans-serif;font-size:30px;" fill="#000">0.3</text>
<text x="69.28" y="840.2" style="font-family:'Liberation Sans', Arial, sans-serif;font-size:30px;" fill="#000">0.2</text>
<text x="67.25" y="976.2" style="font-family:'Liberation Sans', Arial, sans-serif;font-size:30px;" fill="#000">0.1</text>
<text x="108.9" y="1107.2" style="font-family:'Liberation Sans', Arial, sans-serif;font-size:29.5px;" fill="#000">0.0</text>
<text x="194.78" y="1107.2" style="font-family:'Liberation Sans', Arial, sans-serif;font-size:29.5px;" fill="#000">0.4</text>
<text x="280.96" y="1107.2" style="font-family:'Liberation Sans', Arial, sans-serif;font-size:29.5px;" fill="#000">0.8</text>
<text x="366.53" y="1107.2" style="font-family:'Liberation Sans', Arial, sans-serif;font-size:29.5px;" fill="#000">1.2</text>
<text x="452.4" y="1107.2" style="font-family:'Liberation Sans', Arial, sans-serif;font-size:29.5px;" fill="#000">1.6</text>
<text x="538.71" y="1107.2" style="font-family:'Liberation Sans', Arial, sans-serif;font-size:29.5px;" fill="#000">2.0</text>
<text x="110.21" y="656.2" style="font-family:'Liberation Sans', Arial, sans-serif;font-size:29.5px;" fill="#000">0</text>
<text x="196.34" y="656.2" style="font-family:'Liberation Sans', Arial, sans-serif;font-size:29.5px;" fill="#000">4</text>
<text x="282.21" y="656.2" style="font-family:'Liberation Sans', Arial, sans-serif;font-size:29.5px;" fill="#000">8</text>
<text x="359.65" y="656.2" style="font-family:'Liberation Sans', Arial, sans-serif;font-size:29.5px;" fill="#000">12</text>
<text x="445.52" y="656.2" style="font-family:'Liberation Sans', Arial, sans-serif;font-size:29.5px;" fill="#000">16</text>
<text x="531.84" y="656.2" style="font-family:'Liberation Sans', Arial, sans-serif;font-size:29.5px;" fill="#000">20</text>
<text x="289.6" y="1150" style="font-family:'Liberation Sans', Arial, sans-serif;font-size:30px;font-style:italic;" fill="#000">J</text>
<text x="305.38" y="1136" style="font-family:'Liberation Serif', 'Times New Roman', serif;font-size:18px;font-style:italic;" fill="#000">ω</text>
<text x="324.62" y="1150" style="font-family:'Liberation Sans', Arial, sans-serif;font-size:30px;" fill="#000" textLength="77.49" lengthAdjust="spacing">(A/m)</text>
<text x="301.18" y="623" style="font-family:'Liberation Sans', Arial, sans-serif;font-size:28.5px;font-style:italic;" fill="#000">I</text>
<text x="310.38" y="610" style="font-family:'Liberation Serif', 'Times New Roman', serif;font-size:18px;font-style:italic;" fill="#000">ω</text>
<text x="329.75" y="623" style="font-family:'Liberation Sans', Arial, sans-serif;font-size:28.5px;" fill="#000" textLength="59.54" lengthAdjust="spacing">(μA)</text>
<text x="0" y="0" transform="translate(51.6 928.9) rotate(-90)" style="font-family:'Liberation Sans', Arial, sans-serif;font-size:31px;font-style:italic;" fill="#000">θ</text>
<text x="0" y="0" transform="translate(59 911.62) rotate(-90)" style="font-family:'Liberation Sans', Arial, sans-serif;font-size:20px;font-style:italic;" fill="#000">K</text>
<text x="0" y="0" transform="translate(51.6 892.17) rotate(-90)" style="font-family:'Liberation Sans', Arial, sans-serif;font-size:30px;" fill="#000" textLength="85.55" lengthAdjust="spacing">(μrad)</text>
<circle cx="204.7" cy="718.8" r="5.8" fill="#ff0000"/>
<circle cx="204.7" cy="757.5" r="5.8" fill="#0000ff"/>
<text x="213.7" y="727.7" style="font-family:'Liberation Sans', Arial, sans-serif;font-size:33px;font-style:italic;" fill="#000">J</text>
<text x="231.12" y="715.7" style="font-family:'Liberation Serif', 'Times New Roman', serif;font-size:26px;font-style:italic;" fill="#000">ω</text>
<text x="262" y="727.7" style="font-family:'Liberation Sans', Arial, sans-serif;font-size:33px;" fill="#000">/</text>
<text x="272.27" y="727.7" style="font-family:'Liberation Sans', Arial, sans-serif;font-size:33px;" fill="#000">/</text>
<text x="289.62" y="727.7" style="font-family:'Liberation Sans', Arial, sans-serif;font-size:33px;" fill="#000" textLength="75.8" lengthAdjust="spacing">[110]</text>
<line x1="321" y1="698.9" x2="335.5" y2="698.9" stroke="#000" stroke-width="1.7" stroke-linecap="butt"/>
<text x="213.7" y="769.8" style="font-family:'Liberation Sans', Arial, sans-serif;font-size:33px;font-style:italic;" fill="#000">J</text>
<text x="231.12" y="757.8" style="font-family:'Liberation Serif', 'Times New Roman', serif;font-size:26px;font-style:italic;" fill="#000">ω</text>
<text x="262" y="769.8" style="font-family:'Liberation Sans', Arial, sans-serif;font-size:33px;" fill="#000">/</text>
<text x="272.27" y="769.8" style="font-family:'Liberation Sans', Arial, sans-serif;font-size:33px;" fill="#000">/</text>
<text x="289.62" y="769.8" style="font-family:'Liberation Sans', Arial, sans-serif;font-size:33px;" fill="#000" textLength="75.72" lengthAdjust="spacing">[111]</text>
<line x1="340" y1="740.8" x2="354.4" y2="740.8" stroke="#000" stroke-width="1.7" stroke-linecap="butt"/>
<defs><filter id="blur3" x="-50%" y="-50%" width="200%" height="200%"><feGaussianBlur stdDeviation="4"/></filter><filter id="blur2" x="-50%" y="-50%" width="200%" height="200%"><feGaussianBlur stdDeviation="2.5"/></filter></defs>
<path d="M808,955 L822,950 L838,1074 L822,1074 Z" fill="#3030ff" opacity="0.5" filter="url(#blur3)"/>
<path d="M1130,1050 L1160,1042 L1165,1074 L1128,1074 Z" fill="#3030ff" opacity="0.5" filter="url(#blur3)"/>
<path d="M962,688 L994,688 L990,770 L974,880 L970,975 L954,975 L956,880 L965,770 Z" fill="#ff4848" opacity="0.45" filter="url(#blur3)"/>
<line x1="885.59" y1="672" x2="886.68" y2="701" stroke="#000" stroke-width="8" stroke-linecap="butt"/>
<line x1="887.54" y1="724.3" x2="888.63" y2="753.3" stroke="#000" stroke-width="8" stroke-linecap="butt"/>
<line x1="889.49" y1="776.6" x2="890.58" y2="805.6" stroke="#000" stroke-width="8" stroke-linecap="butt"/>
<line x1="891.44" y1="828.9" x2="892.53" y2="857.9" stroke="#000" stroke-width="8" stroke-linecap="butt"/>
<line x1="893.4" y1="881.2" x2="894.48" y2="910.2" stroke="#000" stroke-width="8" stroke-linecap="butt"/>
<line x1="895.35" y1="933.5" x2="896.43" y2="962.5" stroke="#000" stroke-width="8" stroke-linecap="butt"/>
<line x1="897.3" y1="985.8" x2="898.38" y2="1014.8" stroke="#000" stroke-width="8" stroke-linecap="butt"/>
<line x1="899.25" y1="1038.1" x2="900.33" y2="1067.1" stroke="#000" stroke-width="8" stroke-linecap="butt"/>
<line x1="1070.03" y1="667.5" x2="1071.19" y2="696.5" stroke="#000" stroke-width="8" stroke-linecap="butt"/>
<line x1="1072.12" y1="719.8" x2="1073.28" y2="748.8" stroke="#000" stroke-width="8" stroke-linecap="butt"/>
<line x1="1074.21" y1="772.1" x2="1075.37" y2="801.1" stroke="#000" stroke-width="8" stroke-linecap="butt"/>
<line x1="1076.3" y1="824.4" x2="1077.46" y2="853.4" stroke="#000" stroke-width="8" stroke-linecap="butt"/>
<line x1="1078.39" y1="876.7" x2="1079.55" y2="905.7" stroke="#000" stroke-width="8" stroke-linecap="butt"/>
<line x1="1080.49" y1="929" x2="1081.65" y2="958" stroke="#000" stroke-width="8" stroke-linecap="butt"/>
<line x1="1082.58" y1="981.3" x2="1083.74" y2="1010.3" stroke="#000" stroke-width="8" stroke-linecap="butt"/>
<line x1="1084.67" y1="1033.6" x2="1085.83" y2="1062.6" stroke="#000" stroke-width="8" stroke-linecap="butt"/>
<rect x="790.6" y="666.8" width="380.6" height="407.6" fill="none" stroke="#000" stroke-width="1.6"/>
<line x1="791.1" y1="1074.4" x2="791.1" y2="1080.6" stroke="#000" stroke-width="1.8" stroke-linecap="butt"/>
<line x1="810.09" y1="1074.4" x2="810.09" y2="1078.2" stroke="#000" stroke-width="1.8" stroke-linecap="butt"/>
<line x1="829.08" y1="1074.4" x2="829.08" y2="1078.2" stroke="#000" stroke-width="1.8" stroke-linecap="butt"/>
<line x1="848.07" y1="1074.4" x2="848.07" y2="1078.2" stroke="#000" stroke-width="1.8" stroke-linecap="butt"/>
<line x1="867.06" y1="1074.4" x2="867.06" y2="1080.6" stroke="#000" stroke-width="1.8" stroke-linecap="butt"/>
<line x1="886.05" y1="1074.4" x2="886.05" y2="1078.2" stroke="#000" stroke-width="1.8" stroke-linecap="butt"/>
<line x1="905.04" y1="1074.4" x2="905.04" y2="1078.2" stroke="#000" stroke-width="1.8" stroke-linecap="butt"/>
<line x1="924.03" y1="1074.4" x2="924.03" y2="1078.2" stroke="#000" stroke-width="1.8" stroke-linecap="butt"/>
<line x1="943.02" y1="1074.4" x2="943.02" y2="1080.6" stroke="#000" stroke-width="1.8" stroke-linecap="butt"/>
<line x1="962.01" y1="1074.4" x2="962.01" y2="1078.2" stroke="#000" stroke-width="1.8" stroke-linecap="butt"/>
<line x1="981" y1="1074.4" x2="981" y2="1078.2" stroke="#000" stroke-width="1.8" stroke-linecap="butt"/>
<line x1="999.99" y1="1074.4" x2="999.99" y2="1078.2" stroke="#000" stroke-width="1.8" stroke-linecap="butt"/>
<line x1="1018.98" y1="1074.4" x2="1018.98" y2="1080.6" stroke="#000" stroke-width="1.8" stroke-linecap="butt"/>
<line x1="1037.97" y1="1074.4" x2="1037.97" y2="1078.2" stroke="#000" stroke-width="1.8" stroke-linecap="butt"/>
<line x1="1056.96" y1="1074.4" x2="1056.96" y2="1078.2" stroke="#000" stroke-width="1.8" stroke-linecap="butt"/>
<line x1="1075.95" y1="1074.4" x2="1075.95" y2="1078.2" stroke="#000" stroke-width="1.8" stroke-linecap="butt"/>
<line x1="1094.94" y1="1074.4" x2="1094.94" y2="1080.6" stroke="#000" stroke-width="1.8" stroke-linecap="butt"/>
<line x1="1113.93" y1="1074.4" x2="1113.93" y2="1078.2" stroke="#000" stroke-width="1.8" stroke-linecap="butt"/>
<line x1="1132.92" y1="1074.4" x2="1132.92" y2="1078.2" stroke="#000" stroke-width="1.8" stroke-linecap="butt"/>
<line x1="1151.91" y1="1074.4" x2="1151.91" y2="1078.2" stroke="#000" stroke-width="1.8" stroke-linecap="butt"/>
<line x1="1170.9" y1="1074.4" x2="1170.9" y2="1080.6" stroke="#000" stroke-width="1.8" stroke-linecap="butt"/>
<line x1="790.6" y1="1074" x2="784.4" y2="1074" stroke="#000" stroke-width="1.8" stroke-linecap="butt"/>
<line x1="790.6" y1="972.25" x2="784.4" y2="972.25" stroke="#000" stroke-width="1.8" stroke-linecap="butt"/>
<line x1="790.6" y1="870.5" x2="784.4" y2="870.5" stroke="#000" stroke-width="1.8" stroke-linecap="butt"/>
<line x1="790.6" y1="768.75" x2="784.4" y2="768.75" stroke="#000" stroke-width="1.8" stroke-linecap="butt"/>
<line x1="790.6" y1="667" x2="784.4" y2="667" stroke="#000" stroke-width="1.8" stroke-linecap="butt"/>
<text x="762.5" y="1083.2" style="font-family:'Liberation Sans', Arial, sans-serif;font-size:31px;" fill="#000">0</text>
<text x="762.75" y="981.45" style="font-family:'Liberation Sans', Arial, sans-serif;font-size:31px;" fill="#000">1</text>
<text x="762.88" y="879.7" style="font-family:'Liberation Sans', Arial, sans-serif;font-size:31px;" fill="#000">2</text>
<text x="762.62" y="777.95" style="font-family:'Liberation Sans', Arial, sans-serif;font-size:31px;" fill="#000">3</text>
<text x="762.12" y="676.2" style="font-family:'Liberation Sans', Arial, sans-serif;font-size:31px;" fill="#000">4</text>
<text x="782.6" y="1110.9" style="font-family:'Liberation Sans', Arial, sans-serif;font-size:30.5px;" fill="#000">0</text>
<text x="858.62" y="1110.9" style="font-family:'Liberation Sans', Arial, sans-serif;font-size:30.5px;" fill="#000">4</text>
<text x="934.52" y="1110.9" style="font-family:'Liberation Sans', Arial, sans-serif;font-size:30.5px;" fill="#000">8</text>
<text x="1001.61" y="1110.9" style="font-family:'Liberation Sans', Arial, sans-serif;font-size:30.5px;" fill="#000">12</text>
<text x="1077.44" y="1110.9" style="font-family:'Liberation Sans', Arial, sans-serif;font-size:30.5px;" fill="#000">16</text>
<text x="1153.78" y="1110.9" style="font-family:'Liberation Sans', Arial, sans-serif;font-size:30.5px;" fill="#000">20</text>
<text x="934.65" y="1138.9" style="font-family:'Liberation Sans', Arial, sans-serif;font-size:30.5px;">X (</text>
<text x="975.32" y="1138.9" style="font-family:'Liberation Serif', 'Times New Roman', serif;font-size:30.5px;">μ</text>
<text x="993.38" y="1138.9" style="font-family:'Liberation Sans', Arial, sans-serif;font-size:30.5px;">m)</text>
<text x="0" y="0" transform="translate(747.1 917.45) rotate(-90)" style="font-family:'Liberation Sans', Arial, sans-serif;font-size:30.5px;">Y (</text>
<text x="0" y="0" transform="translate(747.1 876.8) rotate(-90)" style="font-family:'Liberation Serif', 'Times New Roman', serif;font-size:30.5px;">μ</text>
<text x="0" y="0" transform="translate(747.1 858.23) rotate(-90)" style="font-family:'Liberation Sans', Arial, sans-serif;font-size:30.5px;">m)</text>
<rect x="1193" y="666.8" width="30" height="12.57" fill="#ff0000"/>
<rect x="1193" y="678.97" width="30" height="12.58" fill="#ff1010"/>
<rect x="1193" y="691.15" width="30" height="12.57" fill="#ff2121"/>
<rect x="1193" y="703.32" width="30" height="12.58" fill="#ff3131"/>
<rect x="1193" y="715.5" width="30" height="12.57" fill="#ff4141"/>
<rect x="1193" y="727.67" width="30" height="12.58" fill="#ff5252"/>
<rect x="1193" y="739.85" width="30" height="12.57" fill="#ff6262"/>
<rect x="1193" y="752.02" width="30" height="12.58" fill="#ff7272"/>
<rect x="1193" y="764.2" width="30" height="12.57" fill="#ff8383"/>
<rect x="1193" y="776.38" width="30" height="12.57" fill="#ff9393"/>
<rect x="1193" y="788.55" width="30" height="12.58" fill="#ffa3a3"/>
<rect x="1193" y="800.73" width="30" height="12.57" fill="#ffb4b4"/>
<rect x="1193" y="812.9" width="30" height="12.58" fill="#ffc4c4"/>
<rect x="1193" y="825.08" width="30" height="12.57" fill="#ffd4d4"/>
<rect x="1193" y="837.25" width="30" height="12.57" fill="#ffe5e5"/>
<rect x="1193" y="849.42" width="30" height="12.58" fill="#fff5f5"/>
<rect x="1193" y="879.1" width="30" height="12.6" fill="#f0f0ff"/>
<rect x="1193" y="891.3" width="30" height="12.6" fill="#e0e0ff"/>
<rect x="1193" y="903.5" width="30" height="12.6" fill="#d0d0ff"/>
<rect x="1193" y="915.7" width="30" height="12.6" fill="#c0c0ff"/>
<rect x="1193" y="927.9" width="30" height="12.6" fill="#b0b0ff"/>
<rect x="1193" y="940.1" width="30" height="12.6" fill="#a0a0ff"/>
<rect x="1193" y="952.3" width="30" height="12.6" fill="#9090ff"/>
<rect x="1193" y="964.5" width="30" height="12.6" fill="#8080ff"/>
<rect x="1193" y="976.7" width="30" height="12.6" fill="#7070ff"/>
<rect x="1193" y="988.9" width="30" height="12.6" fill="#6060ff"/>
<rect x="1193" y="1001.1" width="30" height="12.6" fill="#5050ff"/>
<rect x="1193" y="1013.3" width="30" height="12.6" fill="#4040ff"/>
<rect x="1193" y="1025.5" width="30" height="12.6" fill="#3030ff"/>
<rect x="1193" y="1037.7" width="30" height="12.6" fill="#2020ff"/>
<rect x="1193" y="1049.9" width="30" height="12.6" fill="#1010ff"/>
<rect x="1193" y="1062.1" width="30" height="12.6" fill="#0000ff"/>
<text x="1241.35" y="685.5" style="font-family:'Liberation Sans', Arial, sans-serif;font-size:30.5px;" fill="#000" textLength="43.23" lengthAdjust="spacing">0.3</text>
<text x="1240.75" y="1074.8" style="font-family:'Liberation Sans', Arial, sans-serif;font-size:30.5px;" fill="#000">0.1</text>
<text x="1152.17" y="657.6" style="font-family:'Liberation Serif', 'Times New Roman', serif;font-size:32px;font-style:italic;" fill="#000">θ</text>
<text x="1166.33" y="665.2" style="font-family:'Liberation Sans', Arial, sans-serif;font-size:19.5px;" fill="#000">k</text>
<text x="1181.33" y="657.5" style="font-family:'Liberation Sans', Arial, sans-serif;font-size:30.5px;" fill="#000" textLength="85.12" lengthAdjust="spacing">(μrad)</text>
<polyline points="1497.8,1016.1 1519.28,983.8 1540.76,993.6 1562.24,993.3 1583.72,1007.1 1605.2,989.3 1626.68,941.9 1648.16,847.1 1669.64,789.4 1691.12,821.8 1712.6,819.7 1734.08,817.8 1755.56,804.1 1777.04,806 1798.52,841.8 1820,881.7 1841.48,993.6 1862.96,1034 1884.44,1015.5 1905.92,1018.1 1927.4,1001.8" fill="none" stroke="#ff0000" stroke-width="2.8" stroke-linejoin="round"/>
<circle cx="1497.8" cy="1016.1" r="5.7" fill="#ff0000"/>
<circle cx="1519.28" cy="983.8" r="5.7" fill="#ff0000"/>
<circle cx="1540.76" cy="993.6" r="5.7" fill="#ff0000"/>
<circle cx="1562.24" cy="993.3" r="5.7" fill="#ff0000"/>
<circle cx="1583.72" cy="1007.1" r="5.7" fill="#ff0000"/>
<circle cx="1605.2" cy="989.3" r="5.7" fill="#ff0000"/>
<circle cx="1626.68" cy="941.9" r="5.7" fill="#ff0000"/>
<circle cx="1648.16" cy="847.1" r="5.7" fill="#ff0000"/>
<circle cx="1669.64" cy="789.4" r="5.7" fill="#ff0000"/>
<circle cx="1691.12" cy="821.8" r="5.7" fill="#ff0000"/>
<circle cx="1712.6" cy="819.7" r="5.7" fill="#ff0000"/>
<circle cx="1734.08" cy="817.8" r="5.7" fill="#ff0000"/>
<circle cx="1755.56" cy="804.1" r="5.7" fill="#ff0000"/>
<circle cx="1777.04" cy="806" r="5.7" fill="#ff0000"/>
<circle cx="1798.52" cy="841.8" r="5.7" fill="#ff0000"/>
<circle cx="1820" cy="881.7" r="5.7" fill="#ff0000"/>
<circle cx="1841.48" cy="993.6" r="5.7" fill="#ff0000"/>
<circle cx="1862.96" cy="1034" r="5.7" fill="#ff0000"/>
<circle cx="1884.44" cy="1015.5" r="5.7" fill="#ff0000"/>
<circle cx="1905.92" cy="1018.1" r="5.7" fill="#ff0000"/>
<circle cx="1927.4" cy="1001.8" r="5.7" fill="#ff0000"/>
<polyline points="1497.8,959.5 1519.28,1010.9 1540.76,983.8 1562.24,1012.8 1583.72,1012.3 1605.2,1005.7 1626.68,1017 1648.16,1031.3 1669.64,1009.6 1691.12,1015.9 1712.6,1008.7 1734.08,1005.9 1755.56,1029.2 1777.04,1003.4 1798.52,1013.4 1820,1004.4 1841.48,995.8 1862.96,1023.8 1884.44,977.1 1905.92,1000.5 1927.4,996.6" fill="none" stroke="#0000ff" stroke-width="2.8" stroke-linejoin="round"/>
<circle cx="1497.8" cy="959.5" r="5.7" fill="#0000ff"/>
<circle cx="1519.28" cy="1010.9" r="5.7" fill="#0000ff"/>
<circle cx="1540.76" cy="983.8" r="5.7" fill="#0000ff"/>
<circle cx="1562.24" cy="1012.8" r="5.7" fill="#0000ff"/>
<circle cx="1583.72" cy="1012.3" r="5.7" fill="#0000ff"/>
<circle cx="1605.2" cy="1005.7" r="5.7" fill="#0000ff"/>
<circle cx="1626.68" cy="1017" r="5.7" fill="#0000ff"/>
<circle cx="1648.16" cy="1031.3" r="5.7" fill="#0000ff"/>
<circle cx="1669.64" cy="1009.6" r="5.7" fill="#0000ff"/>
<circle cx="1691.12" cy="1015.9" r="5.7" fill="#0000ff"/>
<circle cx="1712.6" cy="1008.7" r="5.7" fill="#0000ff"/>
<circle cx="1734.08" cy="1005.9" r="5.7" fill="#0000ff"/>
<circle cx="1755.56" cy="1029.2" r="5.7" fill="#0000ff"/>
<circle cx="1777.04" cy="1003.4" r="5.7" fill="#0000ff"/>
<circle cx="1798.52" cy="1013.4" r="5.7" fill="#0000ff"/>
<circle cx="1820" cy="1004.4" r="5.7" fill="#0000ff"/>
<circle cx="1841.48" cy="995.8" r="5.7" fill="#0000ff"/>
<circle cx="1862.96" cy="1023.8" r="5.7" fill="#0000ff"/>
<circle cx="1884.44" cy="977.1" r="5.7" fill="#0000ff"/>
<circle cx="1905.92" cy="1000.5" r="5.7" fill="#0000ff"/>
<circle cx="1927.4" cy="996.6" r="5.7" fill="#0000ff"/>
<line x1="1497.8" y1="982.8" x2="1497.8" y2="1049.4" stroke="rgba(255,0,0,0.45)" stroke-width="1.3" stroke-linecap="butt"/>
<line x1="1493.5" y1="982.8" x2="1502.1" y2="982.8" stroke="rgba(255,0,0,0.45)" stroke-width="1.3" stroke-linecap="butt"/>
<line x1="1493.5" y1="1049.4" x2="1502.1" y2="1049.4" stroke="rgba(255,0,0,0.45)" stroke-width="1.3" stroke-linecap="butt"/>
<line x1="1519.28" y1="931" x2="1519.28" y2="1036.6" stroke="rgba(255,0,0,0.45)" stroke-width="1.3" stroke-linecap="butt"/>
<line x1="1514.98" y1="931" x2="1523.58" y2="931" stroke="rgba(255,0,0,0.45)" stroke-width="1.3" stroke-linecap="butt"/>
<line x1="1514.98" y1="1036.6" x2="1523.58" y2="1036.6" stroke="rgba(255,0,0,0.45)" stroke-width="1.3" stroke-linecap="butt"/>
<line x1="1540.76" y1="939.4" x2="1540.76" y2="1047.8" stroke="rgba(255,0,0,0.45)" stroke-width="1.3" stroke-linecap="butt"/>
<line x1="1536.46" y1="939.4" x2="1545.06" y2="939.4" stroke="rgba(255,0,0,0.45)" stroke-width="1.3" stroke-linecap="butt"/>
<line x1="1536.46" y1="1047.8" x2="1545.06" y2="1047.8" stroke="rgba(255,0,0,0.45)" stroke-width="1.3" stroke-linecap="butt"/>
<line x1="1562.24" y1="951" x2="1562.24" y2="1035.6" stroke="rgba(255,0,0,0.45)" stroke-width="1.3" stroke-linecap="butt"/>
<line x1="1557.94" y1="951" x2="1566.54" y2="951" stroke="rgba(255,0,0,0.45)" stroke-width="1.3" stroke-linecap="butt"/>
<line x1="1557.94" y1="1035.6" x2="1566.54" y2="1035.6" stroke="rgba(255,0,0,0.45)" stroke-width="1.3" stroke-linecap="butt"/>
<line x1="1583.72" y1="968.2" x2="1583.72" y2="1046" stroke="rgba(255,0,0,0.45)" stroke-width="1.3" stroke-linecap="butt"/>
<line x1="1579.42" y1="968.2" x2="1588.02" y2="968.2" stroke="rgba(255,0,0,0.45)" stroke-width="1.3" stroke-linecap="butt"/>
<line x1="1579.42" y1="1046" x2="1588.02" y2="1046" stroke="rgba(255,0,0,0.45)" stroke-width="1.3" stroke-linecap="butt"/>
<line x1="1605.2" y1="949.5" x2="1605.2" y2="1029.1" stroke="rgba(255,0,0,0.45)" stroke-width="1.3" stroke-linecap="butt"/>
<line x1="1600.9" y1="949.5" x2="1609.5" y2="949.5" stroke="rgba(255,0,0,0.45)" stroke-width="1.3" stroke-linecap="butt"/>
<line x1="1600.9" y1="1029.1" x2="1609.5" y2="1029.1" stroke="rgba(255,0,0,0.45)" stroke-width="1.3" stroke-linecap="butt"/>
<line x1="1626.68" y1="881.5" x2="1626.68" y2="1002.3" stroke="rgba(255,0,0,0.45)" stroke-width="1.3" stroke-linecap="butt"/>
<line x1="1622.38" y1="881.5" x2="1630.98" y2="881.5" stroke="rgba(255,0,0,0.45)" stroke-width="1.3" stroke-linecap="butt"/>
<line x1="1622.38" y1="1002.3" x2="1630.98" y2="1002.3" stroke="rgba(255,0,0,0.45)" stroke-width="1.3" stroke-linecap="butt"/>
<line x1="1648.16" y1="796.5" x2="1648.16" y2="897.7" stroke="rgba(255,0,0,0.45)" stroke-width="1.3" stroke-linecap="butt"/>
<line x1="1643.86" y1="796.5" x2="1652.46" y2="796.5" stroke="rgba(255,0,0,0.45)" stroke-width="1.3" stroke-linecap="butt"/>
<line x1="1643.86" y1="897.7" x2="1652.46" y2="897.7" stroke="rgba(255,0,0,0.45)" stroke-width="1.3" stroke-linecap="butt"/>
<line x1="1669.64" y1="731.8" x2="1669.64" y2="847" stroke="rgba(255,0,0,0.45)" stroke-width="1.3" stroke-linecap="butt"/>
<line x1="1665.34" y1="731.8" x2="1673.94" y2="731.8" stroke="rgba(255,0,0,0.45)" stroke-width="1.3" stroke-linecap="butt"/>
<line x1="1665.34" y1="847" x2="1673.94" y2="847" stroke="rgba(255,0,0,0.45)" stroke-width="1.3" stroke-linecap="butt"/>
<line x1="1691.12" y1="778" x2="1691.12" y2="865.6" stroke="rgba(255,0,0,0.45)" stroke-width="1.3" stroke-linecap="butt"/>
<line x1="1686.82" y1="778" x2="1695.42" y2="778" stroke="rgba(255,0,0,0.45)" stroke-width="1.3" stroke-linecap="butt"/>
<line x1="1686.82" y1="865.6" x2="1695.42" y2="865.6" stroke="rgba(255,0,0,0.45)" stroke-width="1.3" stroke-linecap="butt"/>
<line x1="1712.6" y1="781.4" x2="1712.6" y2="858" stroke="rgba(255,0,0,0.45)" stroke-width="1.3" stroke-linecap="butt"/>
<line x1="1708.3" y1="781.4" x2="1716.9" y2="781.4" stroke="rgba(255,0,0,0.45)" stroke-width="1.3" stroke-linecap="butt"/>
<line x1="1708.3" y1="858" x2="1716.9" y2="858" stroke="rgba(255,0,0,0.45)" stroke-width="1.3" stroke-linecap="butt"/>
<line x1="1734.08" y1="790.2" x2="1734.08" y2="845.4" stroke="rgba(255,0,0,0.45)" stroke-width="1.3" stroke-linecap="butt"/>
<line x1="1729.78" y1="790.2" x2="1738.38" y2="790.2" stroke="rgba(255,0,0,0.45)" stroke-width="1.3" stroke-linecap="butt"/>
<line x1="1729.78" y1="845.4" x2="1738.38" y2="845.4" stroke="rgba(255,0,0,0.45)" stroke-width="1.3" stroke-linecap="butt"/>
<line x1="1755.56" y1="767.8" x2="1755.56" y2="840.4" stroke="rgba(255,0,0,0.45)" stroke-width="1.3" stroke-linecap="butt"/>
<line x1="1751.26" y1="767.8" x2="1759.86" y2="767.8" stroke="rgba(255,0,0,0.45)" stroke-width="1.3" stroke-linecap="butt"/>
<line x1="1751.26" y1="840.4" x2="1759.86" y2="840.4" stroke="rgba(255,0,0,0.45)" stroke-width="1.3" stroke-linecap="butt"/>
<line x1="1777.04" y1="741.7" x2="1777.04" y2="870.3" stroke="rgba(255,0,0,0.45)" stroke-width="1.3" stroke-linecap="butt"/>
<line x1="1772.74" y1="741.7" x2="1781.34" y2="741.7" stroke="rgba(255,0,0,0.45)" stroke-width="1.3" stroke-linecap="butt"/>
<line x1="1772.74" y1="870.3" x2="1781.34" y2="870.3" stroke="rgba(255,0,0,0.45)" stroke-width="1.3" stroke-linecap="butt"/>
<line x1="1798.52" y1="796.8" x2="1798.52" y2="886.8" stroke="rgba(255,0,0,0.45)" stroke-width="1.3" stroke-linecap="butt"/>
<line x1="1794.22" y1="796.8" x2="1802.82" y2="796.8" stroke="rgba(255,0,0,0.45)" stroke-width="1.3" stroke-linecap="butt"/>
<line x1="1794.22" y1="886.8" x2="1802.82" y2="886.8" stroke="rgba(255,0,0,0.45)" stroke-width="1.3" stroke-linecap="butt"/>
<line x1="1820" y1="850.5" x2="1820" y2="912.9" stroke="rgba(255,0,0,0.45)" stroke-width="1.3" stroke-linecap="butt"/>
<line x1="1815.7" y1="850.5" x2="1824.3" y2="850.5" stroke="rgba(255,0,0,0.45)" stroke-width="1.3" stroke-linecap="butt"/>
<line x1="1815.7" y1="912.9" x2="1824.3" y2="912.9" stroke="rgba(255,0,0,0.45)" stroke-width="1.3" stroke-linecap="butt"/>
<line x1="1841.48" y1="949.2" x2="1841.48" y2="1038" stroke="rgba(255,0,0,0.45)" stroke-width="1.3" stroke-linecap="butt"/>
<line x1="1837.18" y1="949.2" x2="1845.78" y2="949.2" stroke="rgba(255,0,0,0.45)" stroke-width="1.3" stroke-linecap="butt"/>
<line x1="1837.18" y1="1038" x2="1845.78" y2="1038" stroke="rgba(255,0,0,0.45)" stroke-width="1.3" stroke-linecap="butt"/>
<line x1="1862.96" y1="1003.5" x2="1862.96" y2="1064.5" stroke="rgba(255,0,0,0.45)" stroke-width="1.3" stroke-linecap="butt"/>
<line x1="1858.66" y1="1003.5" x2="1867.26" y2="1003.5" stroke="rgba(255,0,0,0.45)" stroke-width="1.3" stroke-linecap="butt"/>
<line x1="1858.66" y1="1064.5" x2="1867.26" y2="1064.5" stroke="rgba(255,0,0,0.45)" stroke-width="1.3" stroke-linecap="butt"/>
<line x1="1884.44" y1="979.9" x2="1884.44" y2="1051.1" stroke="rgba(255,0,0,0.45)" stroke-width="1.3" stroke-linecap="butt"/>
<line x1="1880.14" y1="979.9" x2="1888.74" y2="979.9" stroke="rgba(255,0,0,0.45)" stroke-width="1.3" stroke-linecap="butt"/>
<line x1="1880.14" y1="1051.1" x2="1888.74" y2="1051.1" stroke="rgba(255,0,0,0.45)" stroke-width="1.3" stroke-linecap="butt"/>
<line x1="1905.92" y1="969.2" x2="1905.92" y2="1067" stroke="rgba(255,0,0,0.45)" stroke-width="1.3" stroke-linecap="butt"/>
<line x1="1901.62" y1="969.2" x2="1910.22" y2="969.2" stroke="rgba(255,0,0,0.45)" stroke-width="1.3" stroke-linecap="butt"/>
<line x1="1901.62" y1="1067" x2="1910.22" y2="1067" stroke="rgba(255,0,0,0.45)" stroke-width="1.3" stroke-linecap="butt"/>
<line x1="1927.4" y1="969.8" x2="1927.4" y2="1033.8" stroke="rgba(255,0,0,0.45)" stroke-width="1.3" stroke-linecap="butt"/>
<line x1="1923.1" y1="969.8" x2="1931.7" y2="969.8" stroke="rgba(255,0,0,0.45)" stroke-width="1.3" stroke-linecap="butt"/>
<line x1="1923.1" y1="1033.8" x2="1931.7" y2="1033.8" stroke="rgba(255,0,0,0.45)" stroke-width="1.3" stroke-linecap="butt"/>
<line x1="1497.8" y1="912" x2="1497.8" y2="1007" stroke="rgba(0,0,255,0.45)" stroke-width="1.3" stroke-linecap="butt"/>
<line x1="1493.5" y1="912" x2="1502.1" y2="912" stroke="rgba(0,0,255,0.45)" stroke-width="1.3" stroke-linecap="butt"/>
<line x1="1493.5" y1="1007" x2="1502.1" y2="1007" stroke="rgba(0,0,255,0.45)" stroke-width="1.3" stroke-linecap="butt"/>
<line x1="1519.28" y1="973.9" x2="1519.28" y2="1047.9" stroke="rgba(0,0,255,0.45)" stroke-width="1.3" stroke-linecap="butt"/>
<line x1="1514.98" y1="973.9" x2="1523.58" y2="973.9" stroke="rgba(0,0,255,0.45)" stroke-width="1.3" stroke-linecap="butt"/>
<line x1="1514.98" y1="1047.9" x2="1523.58" y2="1047.9" stroke="rgba(0,0,255,0.45)" stroke-width="1.3" stroke-linecap="butt"/>
<line x1="1540.76" y1="937.3" x2="1540.76" y2="1030.3" stroke="rgba(0,0,255,0.45)" stroke-width="1.3" stroke-linecap="butt"/>
<line x1="1536.46" y1="937.3" x2="1545.06" y2="937.3" stroke="rgba(0,0,255,0.45)" stroke-width="1.3" stroke-linecap="butt"/>
<line x1="1536.46" y1="1030.3" x2="1545.06" y2="1030.3" stroke="rgba(0,0,255,0.45)" stroke-width="1.3" stroke-linecap="butt"/>
<line x1="1562.24" y1="974.8" x2="1562.24" y2="1050.8" stroke="rgba(0,0,255,0.45)" stroke-width="1.3" stroke-linecap="butt"/>
<line x1="1557.94" y1="974.8" x2="1566.54" y2="974.8" stroke="rgba(0,0,255,0.45)" stroke-width="1.3" stroke-linecap="butt"/>
<line x1="1557.94" y1="1050.8" x2="1566.54" y2="1050.8" stroke="rgba(0,0,255,0.45)" stroke-width="1.3" stroke-linecap="butt"/>
<line x1="1583.72" y1="976.3" x2="1583.72" y2="1048.3" stroke="rgba(0,0,255,0.45)" stroke-width="1.3" stroke-linecap="butt"/>
<line x1="1579.42" y1="976.3" x2="1588.02" y2="976.3" stroke="rgba(0,0,255,0.45)" stroke-width="1.3" stroke-linecap="butt"/>
<line x1="1579.42" y1="1048.3" x2="1588.02" y2="1048.3" stroke="rgba(0,0,255,0.45)" stroke-width="1.3" stroke-linecap="butt"/>
<line x1="1605.2" y1="961.7" x2="1605.2" y2="1049.7" stroke="rgba(0,0,255,0.45)" stroke-width="1.3" stroke-linecap="butt"/>
<line x1="1600.9" y1="961.7" x2="1609.5" y2="961.7" stroke="rgba(0,0,255,0.45)" stroke-width="1.3" stroke-linecap="butt"/>
<line x1="1600.9" y1="1049.7" x2="1609.5" y2="1049.7" stroke="rgba(0,0,255,0.45)" stroke-width="1.3" stroke-linecap="butt"/>
<line x1="1626.68" y1="975.7" x2="1626.68" y2="1058.3" stroke="rgba(0,0,255,0.45)" stroke-width="1.3" stroke-linecap="butt"/>
<line x1="1622.38" y1="975.7" x2="1630.98" y2="975.7" stroke="rgba(0,0,255,0.45)" stroke-width="1.3" stroke-linecap="butt"/>
<line x1="1622.38" y1="1058.3" x2="1630.98" y2="1058.3" stroke="rgba(0,0,255,0.45)" stroke-width="1.3" stroke-linecap="butt"/>
<line x1="1648.16" y1="1004.3" x2="1648.16" y2="1058.3" stroke="rgba(0,0,255,0.45)" stroke-width="1.3" stroke-linecap="butt"/>
<line x1="1643.86" y1="1004.3" x2="1652.46" y2="1004.3" stroke="rgba(0,0,255,0.45)" stroke-width="1.3" stroke-linecap="butt"/>
<line x1="1643.86" y1="1058.3" x2="1652.46" y2="1058.3" stroke="rgba(0,0,255,0.45)" stroke-width="1.3" stroke-linecap="butt"/>
<line x1="1669.64" y1="970.3" x2="1669.64" y2="1048.9" stroke="rgba(0,0,255,0.45)" stroke-width="1.3" stroke-linecap="butt"/>
<line x1="1665.34" y1="970.3" x2="1673.94" y2="970.3" stroke="rgba(0,0,255,0.45)" stroke-width="1.3" stroke-linecap="butt"/>
<line x1="1665.34" y1="1048.9" x2="1673.94" y2="1048.9" stroke="rgba(0,0,255,0.45)" stroke-width="1.3" stroke-linecap="butt"/>
<line x1="1691.12" y1="972.9" x2="1691.12" y2="1058.9" stroke="rgba(0,0,255,0.45)" stroke-width="1.3" stroke-linecap="butt"/>
<line x1="1686.82" y1="972.9" x2="1695.42" y2="972.9" stroke="rgba(0,0,255,0.45)" stroke-width="1.3" stroke-linecap="butt"/>
<line x1="1686.82" y1="1058.9" x2="1695.42" y2="1058.9" stroke="rgba(0,0,255,0.45)" stroke-width="1.3" stroke-linecap="butt"/>
<line x1="1712.6" y1="968.7" x2="1712.6" y2="1048.7" stroke="rgba(0,0,255,0.45)" stroke-width="1.3" stroke-linecap="butt"/>
<line x1="1708.3" y1="968.7" x2="1716.9" y2="968.7" stroke="rgba(0,0,255,0.45)" stroke-width="1.3" stroke-linecap="butt"/>
<line x1="1708.3" y1="1048.7" x2="1716.9" y2="1048.7" stroke="rgba(0,0,255,0.45)" stroke-width="1.3" stroke-linecap="butt"/>
<line x1="1734.08" y1="948.3" x2="1734.08" y2="1063.5" stroke="rgba(0,0,255,0.45)" stroke-width="1.3" stroke-linecap="butt"/>
<line x1="1729.78" y1="948.3" x2="1738.38" y2="948.3" stroke="rgba(0,0,255,0.45)" stroke-width="1.3" stroke-linecap="butt"/>
<line x1="1729.78" y1="1063.5" x2="1738.38" y2="1063.5" stroke="rgba(0,0,255,0.45)" stroke-width="1.3" stroke-linecap="butt"/>
<line x1="1755.56" y1="992.9" x2="1755.56" y2="1065.5" stroke="rgba(0,0,255,0.45)" stroke-width="1.3" stroke-linecap="butt"/>
<line x1="1751.26" y1="992.9" x2="1759.86" y2="992.9" stroke="rgba(0,0,255,0.45)" stroke-width="1.3" stroke-linecap="butt"/>
<line x1="1751.26" y1="1065.5" x2="1759.86" y2="1065.5" stroke="rgba(0,0,255,0.45)" stroke-width="1.3" stroke-linecap="butt"/>
<line x1="1777.04" y1="949.7" x2="1777.04" y2="1057.1" stroke="rgba(0,0,255,0.45)" stroke-width="1.3" stroke-linecap="butt"/>
<line x1="1772.74" y1="949.7" x2="1781.34" y2="949.7" stroke="rgba(0,0,255,0.45)" stroke-width="1.3" stroke-linecap="butt"/>
<line x1="1772.74" y1="1057.1" x2="1781.34" y2="1057.1" stroke="rgba(0,0,255,0.45)" stroke-width="1.3" stroke-linecap="butt"/>
<line x1="1798.52" y1="965.4" x2="1798.52" y2="1061.4" stroke="rgba(0,0,255,0.45)" stroke-width="1.3" stroke-linecap="butt"/>
<line x1="1794.22" y1="965.4" x2="1802.82" y2="965.4" stroke="rgba(0,0,255,0.45)" stroke-width="1.3" stroke-linecap="butt"/>
<line x1="1794.22" y1="1061.4" x2="1802.82" y2="1061.4" stroke="rgba(0,0,255,0.45)" stroke-width="1.3" stroke-linecap="butt"/>
<line x1="1820" y1="943.2" x2="1820" y2="1065.6" stroke="rgba(0,0,255,0.45)" stroke-width="1.3" stroke-linecap="butt"/>
<line x1="1815.7" y1="943.2" x2="1824.3" y2="943.2" stroke="rgba(0,0,255,0.45)" stroke-width="1.3" stroke-linecap="butt"/>
<line x1="1815.7" y1="1065.6" x2="1824.3" y2="1065.6" stroke="rgba(0,0,255,0.45)" stroke-width="1.3" stroke-linecap="butt"/>
<line x1="1841.48" y1="937.8" x2="1841.48" y2="1053.8" stroke="rgba(0,0,255,0.45)" stroke-width="1.3" stroke-linecap="butt"/>
<line x1="1837.18" y1="937.8" x2="1845.78" y2="937.8" stroke="rgba(0,0,255,0.45)" stroke-width="1.3" stroke-linecap="butt"/>
<line x1="1837.18" y1="1053.8" x2="1845.78" y2="1053.8" stroke="rgba(0,0,255,0.45)" stroke-width="1.3" stroke-linecap="butt"/>
<line x1="1862.96" y1="994" x2="1862.96" y2="1053.6" stroke="rgba(0,0,255,0.45)" stroke-width="1.3" stroke-linecap="butt"/>
<line x1="1858.66" y1="994" x2="1867.26" y2="994" stroke="rgba(0,0,255,0.45)" stroke-width="1.3" stroke-linecap="butt"/>
<line x1="1858.66" y1="1053.6" x2="1867.26" y2="1053.6" stroke="rgba(0,0,255,0.45)" stroke-width="1.3" stroke-linecap="butt"/>
<line x1="1884.44" y1="915.5" x2="1884.44" y2="1038.7" stroke="rgba(0,0,255,0.45)" stroke-width="1.3" stroke-linecap="butt"/>
<line x1="1880.14" y1="915.5" x2="1888.74" y2="915.5" stroke="rgba(0,0,255,0.45)" stroke-width="1.3" stroke-linecap="butt"/>
<line x1="1880.14" y1="1038.7" x2="1888.74" y2="1038.7" stroke="rgba(0,0,255,0.45)" stroke-width="1.3" stroke-linecap="butt"/>
<line x1="1905.92" y1="957.7" x2="1905.92" y2="1043.3" stroke="rgba(0,0,255,0.45)" stroke-width="1.3" stroke-linecap="butt"/>
<line x1="1901.62" y1="957.7" x2="1910.22" y2="957.7" stroke="rgba(0,0,255,0.45)" stroke-width="1.3" stroke-linecap="butt"/>
<line x1="1901.62" y1="1043.3" x2="1910.22" y2="1043.3" stroke="rgba(0,0,255,0.45)" stroke-width="1.3" stroke-linecap="butt"/>
<line x1="1927.4" y1="934.9" x2="1927.4" y2="1058.3" stroke="rgba(0,0,255,0.45)" stroke-width="1.3" stroke-linecap="butt"/>
<line x1="1923.1" y1="934.9" x2="1931.7" y2="934.9" stroke="rgba(0,0,255,0.45)" stroke-width="1.3" stroke-linecap="butt"/>
<line x1="1923.1" y1="1058.3" x2="1931.7" y2="1058.3" stroke="rgba(0,0,255,0.45)" stroke-width="1.3" stroke-linecap="butt"/>
<rect x="1487.1" y="668" width="451.3" height="407.3" fill="none" stroke="#000" stroke-width="2.2"/>
<line x1="1497.8" y1="1075.3" x2="1497.8" y2="1068.8" stroke="#000" stroke-width="2" stroke-linecap="butt"/>
<line x1="1519.28" y1="1075.3" x2="1519.28" y2="1072.1" stroke="#000" stroke-width="2" stroke-linecap="butt"/>
<line x1="1540.76" y1="1075.3" x2="1540.76" y2="1072.1" stroke="#000" stroke-width="2" stroke-linecap="butt"/>
<line x1="1562.24" y1="1075.3" x2="1562.24" y2="1072.1" stroke="#000" stroke-width="2" stroke-linecap="butt"/>
<line x1="1583.72" y1="1075.3" x2="1583.72" y2="1072.1" stroke="#000" stroke-width="2" stroke-linecap="butt"/>
<line x1="1605.2" y1="1075.3" x2="1605.2" y2="1068.8" stroke="#000" stroke-width="2" stroke-linecap="butt"/>
<line x1="1626.68" y1="1075.3" x2="1626.68" y2="1072.1" stroke="#000" stroke-width="2" stroke-linecap="butt"/>
<line x1="1648.16" y1="1075.3" x2="1648.16" y2="1072.1" stroke="#000" stroke-width="2" stroke-linecap="butt"/>
<line x1="1669.64" y1="1075.3" x2="1669.64" y2="1072.1" stroke="#000" stroke-width="2" stroke-linecap="butt"/>
<line x1="1691.12" y1="1075.3" x2="1691.12" y2="1072.1" stroke="#000" stroke-width="2" stroke-linecap="butt"/>
<line x1="1712.6" y1="1075.3" x2="1712.6" y2="1068.8" stroke="#000" stroke-width="2" stroke-linecap="butt"/>
<line x1="1734.08" y1="1075.3" x2="1734.08" y2="1072.1" stroke="#000" stroke-width="2" stroke-linecap="butt"/>
<line x1="1755.56" y1="1075.3" x2="1755.56" y2="1072.1" stroke="#000" stroke-width="2" stroke-linecap="butt"/>
<line x1="1777.04" y1="1075.3" x2="1777.04" y2="1072.1" stroke="#000" stroke-width="2" stroke-linecap="butt"/>
<line x1="1798.52" y1="1075.3" x2="1798.52" y2="1072.1" stroke="#000" stroke-width="2" stroke-linecap="butt"/>
<line x1="1820" y1="1075.3" x2="1820" y2="1068.8" stroke="#000" stroke-width="2" stroke-linecap="butt"/>
<line x1="1841.48" y1="1075.3" x2="1841.48" y2="1072.1" stroke="#000" stroke-width="2" stroke-linecap="butt"/>
<line x1="1862.96" y1="1075.3" x2="1862.96" y2="1072.1" stroke="#000" stroke-width="2" stroke-linecap="butt"/>
<line x1="1884.44" y1="1075.3" x2="1884.44" y2="1072.1" stroke="#000" stroke-width="2" stroke-linecap="butt"/>
<line x1="1905.92" y1="1075.3" x2="1905.92" y2="1072.1" stroke="#000" stroke-width="2" stroke-linecap="butt"/>
<line x1="1927.4" y1="1075.3" x2="1927.4" y2="1068.8" stroke="#000" stroke-width="2" stroke-linecap="butt"/>
<line x1="1487.1" y1="1055.72" x2="1490.3" y2="1055.72" stroke="#000" stroke-width="2" stroke-linecap="butt"/>
<line x1="1487.1" y1="1035.28" x2="1490.3" y2="1035.28" stroke="#000" stroke-width="2" stroke-linecap="butt"/>
<line x1="1487.1" y1="1014.84" x2="1490.3" y2="1014.84" stroke="#000" stroke-width="2" stroke-linecap="butt"/>
<line x1="1487.1" y1="994.4" x2="1493.6" y2="994.4" stroke="#000" stroke-width="2" stroke-linecap="butt"/>
<line x1="1487.1" y1="973.96" x2="1490.3" y2="973.96" stroke="#000" stroke-width="2" stroke-linecap="butt"/>
<line x1="1487.1" y1="953.52" x2="1490.3" y2="953.52" stroke="#000" stroke-width="2" stroke-linecap="butt"/>
<line x1="1487.1" y1="933.08" x2="1490.3" y2="933.08" stroke="#000" stroke-width="2" stroke-linecap="butt"/>
<line x1="1487.1" y1="912.64" x2="1490.3" y2="912.64" stroke="#000" stroke-width="2" stroke-linecap="butt"/>
<line x1="1487.1" y1="892.2" x2="1493.6" y2="892.2" stroke="#000" stroke-width="2" stroke-linecap="butt"/>
<line x1="1487.1" y1="871.76" x2="1490.3" y2="871.76" stroke="#000" stroke-width="2" stroke-linecap="butt"/>
<line x1="1487.1" y1="851.32" x2="1490.3" y2="851.32" stroke="#000" stroke-width="2" stroke-linecap="butt"/>
<line x1="1487.1" y1="830.88" x2="1490.3" y2="830.88" stroke="#000" stroke-width="2" stroke-linecap="butt"/>
<line x1="1487.1" y1="810.44" x2="1490.3" y2="810.44" stroke="#000" stroke-width="2" stroke-linecap="butt"/>
<line x1="1487.1" y1="790" x2="1493.6" y2="790" stroke="#000" stroke-width="2" stroke-linecap="butt"/>
<line x1="1487.1" y1="769.56" x2="1490.3" y2="769.56" stroke="#000" stroke-width="2" stroke-linecap="butt"/>
<line x1="1487.1" y1="749.12" x2="1490.3" y2="749.12" stroke="#000" stroke-width="2" stroke-linecap="butt"/>
<line x1="1487.1" y1="728.68" x2="1490.3" y2="728.68" stroke="#000" stroke-width="2" stroke-linecap="butt"/>
<line x1="1487.1" y1="708.24" x2="1490.3" y2="708.24" stroke="#000" stroke-width="2" stroke-linecap="butt"/>
<line x1="1487.1" y1="687.8" x2="1493.6" y2="687.8" stroke="#000" stroke-width="2" stroke-linecap="butt"/>
<text x="1435.25" y="697.6" style="font-family:'Liberation Sans', Arial, sans-serif;font-size:31px;" fill="#000">0.4</text>
<text x="1435.75" y="799.8" style="font-family:'Liberation Sans', Arial, sans-serif;font-size:31px;" fill="#000">0.3</text>
<text x="1436" y="902" style="font-family:'Liberation Sans', Arial, sans-serif;font-size:31px;" fill="#000">0.2</text>
<text x="1433.88" y="1004.2" style="font-family:'Liberation Sans', Arial, sans-serif;font-size:31px;" fill="#000">0.1</text>
<text x="1489.17" y="1107.6" style="font-family:'Liberation Sans', Arial, sans-serif;font-size:31px;" fill="#000">0</text>
<text x="1596.64" y="1107.6" style="font-family:'Liberation Sans', Arial, sans-serif;font-size:31px;" fill="#000">5</text>
<text x="1694.79" y="1107.6" style="font-family:'Liberation Sans', Arial, sans-serif;font-size:31px;" fill="#000">10</text>
<text x="1802.25" y="1107.6" style="font-family:'Liberation Sans', Arial, sans-serif;font-size:31px;" fill="#000">15</text>
<text x="1910.03" y="1107.6" style="font-family:'Liberation Sans', Arial, sans-serif;font-size:31px;" fill="#000">20</text>
<text x="1665.75" y="1150" style="font-family:'Liberation Sans', Arial, sans-serif;font-size:31px;">X (</text>
<text x="1706.65" y="1150" style="font-family:'Liberation Serif', 'Times New Roman', serif;font-size:31px;">μ</text>
<text x="1724.55" y="1150" style="font-family:'Liberation Sans', Arial, sans-serif;font-size:31px;">m)</text>
<text x="0" y="0" transform="translate(1420.9 928) rotate(-90)" style="font-family:'Liberation Sans', Arial, sans-serif;font-size:31px;font-style:italic;" fill="#000">θ</text>
<text x="0" y="0" transform="translate(1428.5 914.45) rotate(-90)" style="font-family:'Liberation Sans', Arial, sans-serif;font-size:18px;" fill="#000">k</text>
<text x="0" y="0" transform="translate(1420.9 896.08) rotate(-90)" style="font-family:'Liberation Sans', Arial, sans-serif;font-size:30px;" fill="#000" textLength="83.65" lengthAdjust="spacing">(μrad)</text>
<line x1="1526.2" y1="694.4" x2="1562.6" y2="694.4" stroke="#ff0000" stroke-width="2.8" stroke-linecap="butt"/>
<circle cx="1544.5" cy="694.4" r="5.5" fill="#ff0000"/>
<text x="1568.2" y="703.6" style="font-family:'Liberation Sans', Arial, sans-serif;font-size:33px;font-style:italic;" fill="#000">J</text>
<text x="1585.12" y="691.6" style="font-family:'Liberation Serif', 'Times New Roman', serif;font-size:26px;font-style:italic;" fill="#000">ω</text>
<text x="1616.4" y="703.6" style="font-family:'Liberation Sans', Arial, sans-serif;font-size:33px;" fill="#000">/</text>
<text x="1625.17" y="703.6" style="font-family:'Liberation Sans', Arial, sans-serif;font-size:33px;" fill="#000">/</text>
<text x="1643.62" y="703.6" style="font-family:'Liberation Sans', Arial, sans-serif;font-size:33px;" fill="#000" textLength="75.8" lengthAdjust="spacing">[110]</text>
<line x1="1674.6" y1="675" x2="1689.1" y2="675" stroke="#000" stroke-width="1.7" stroke-linecap="butt"/>
<line x1="1526.2" y1="733.3" x2="1562.6" y2="733.3" stroke="#0000ff" stroke-width="2.8" stroke-linecap="butt"/>
<circle cx="1544.5" cy="733.3" r="5.5" fill="#0000ff"/>
<text x="1568.2" y="745.6" style="font-family:'Liberation Sans', Arial, sans-serif;font-size:33px;font-style:italic;" fill="#000">J</text>
<text x="1585.12" y="733.6" style="font-family:'Liberation Serif', 'Times New Roman', serif;font-size:26px;font-style:italic;" fill="#000">ω</text>
<text x="1616.4" y="745.6" style="font-family:'Liberation Sans', Arial, sans-serif;font-size:33px;" fill="#000">/</text>
<text x="1625.17" y="745.6" style="font-family:'Liberation Sans', Arial, sans-serif;font-size:33px;" fill="#000">/</text>
<text x="1643.62" y="745.6" style="font-family:'Liberation Sans', Arial, sans-serif;font-size:33px;" fill="#000" textLength="75.72" lengthAdjust="spacing">[111]</text>
<line x1="1693.6" y1="717.6" x2="1708.2" y2="717.6" stroke="#000" stroke-width="1.7" stroke-linecap="butt"/>
</svg></body></html>
